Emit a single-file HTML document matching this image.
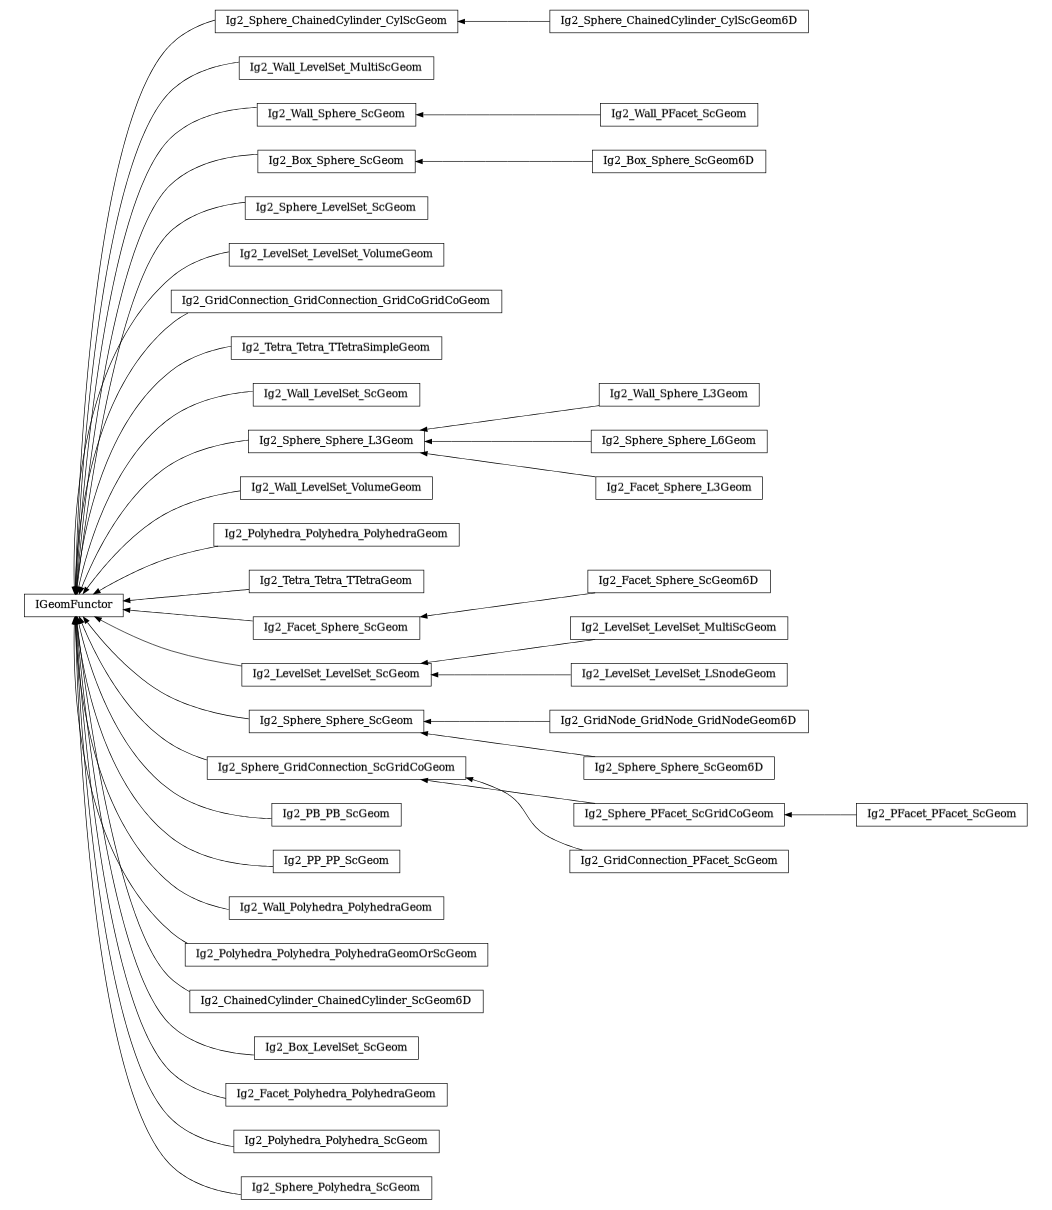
<!DOCTYPE html>
<html lang="en">
<head>
<meta charset="utf-8">
<title>IGeomFunctor inheritance diagram</title>
<style>
html,body{margin:0;padding:0;background:#fff;}
body{width:1052px;height:1210px;overflow:hidden;}
svg{display:block;will-change:transform;}
.t text{font-family:"DejaVu Serif","Liberation Serif",serif;font-size:10.6667px;fill:#000;stroke-width:0.4px;white-space:pre;}
.b rect{fill:none;stroke:#000;stroke-width:0.6667;}
.e path{fill:none;stroke:#000;}
.e{stroke-width:0.6667;}
.a path{fill:#000;stroke:#000;stroke-width:0.6667;}
.f path{fill:#000;stroke:none;}

</style>
</head>
<body>
<svg width="1052" height="1210" viewBox="0 0 1052 1210">
<rect width="1052" height="1210" fill="#fff"/>
<defs>
<filter id="p0" filterUnits="userSpaceOnUse" x="0" y="0" width="1052" height="1210" color-interpolation-filters="sRGB"><feOffset dx="0" dy="0"/></filter>
<filter id="p1" filterUnits="userSpaceOnUse" x="0" y="0" width="1052" height="1210" color-interpolation-filters="sRGB"><feConvolveMatrix order="1 3" kernelMatrix="0 0.75 0.25" divisor="1" edgeMode="none" preserveAlpha="false"/></filter>
<filter id="p3" filterUnits="userSpaceOnUse" x="0" y="0" width="1052" height="1210" color-interpolation-filters="sRGB"><feConvolveMatrix order="1 3" kernelMatrix="0.25 0.75 0" divisor="1" edgeMode="none" preserveAlpha="false"/></filter>
<linearGradient id="g0" gradientUnits="userSpaceOnUse" x1="33" x2="120"><stop offset="0" stop-opacity=".45"/><stop offset=".1724" stop-opacity=".45"/><stop offset=".1724" stop-opacity=".55"/><stop offset=".2414" stop-opacity=".55"/><stop offset=".2414" stop-opacity=".4"/><stop offset=".3103" stop-opacity=".4"/><stop offset=".3103" stop-opacity=".35"/><stop offset=".4253" stop-opacity=".35"/><stop offset=".4253" stop-opacity=".45"/><stop offset=".5057" stop-opacity=".45"/><stop offset=".5057" stop-opacity=".35"/><stop offset=".6667" stop-opacity=".35"/><stop offset=".6667" stop-opacity=".45"/><stop offset=".7816" stop-opacity=".45"/><stop offset=".7816" stop-opacity=".4"/><stop offset=".8506" stop-opacity=".4"/><stop offset=".8506" stop-opacity=".25"/><stop offset="1" stop-opacity=".25"/></linearGradient>
<linearGradient id="g1" gradientUnits="userSpaceOnUse" x1="223" x2="449"><stop offset="0" stop-opacity=".45"/><stop offset=".0288" stop-opacity=".45"/><stop offset=".0288" stop-opacity=".4"/><stop offset=".0597" stop-opacity=".4"/><stop offset=".0597" stop-opacity=".15"/><stop offset=".0907" stop-opacity=".15"/><stop offset=".0907" stop-opacity=".9"/><stop offset=".1128" stop-opacity=".9"/><stop offset=".1128" stop-opacity=".3"/><stop offset=".1438" stop-opacity=".3"/><stop offset=".1438" stop-opacity=".4"/><stop offset=".1748" stop-opacity=".4"/><stop offset=".1748" stop-opacity=".45"/><stop offset=".2058" stop-opacity=".45"/><stop offset=".2058" stop-opacity=".55"/><stop offset=".2323" stop-opacity=".55"/><stop offset=".2323" stop-opacity=".25"/><stop offset=".2544" stop-opacity=".25"/><stop offset=".2544" stop-opacity=".55"/><stop offset=".281" stop-opacity=".55"/><stop offset=".281" stop-opacity=".9"/><stop offset=".3031" stop-opacity=".9"/><stop offset=".3031" stop-opacity=".35"/><stop offset=".3385" stop-opacity=".35"/><stop offset=".3385" stop-opacity=".45"/><stop offset=".3695" stop-opacity=".45"/><stop offset=".3695" stop-opacity=".4"/><stop offset=".396" stop-opacity=".4"/><stop offset=".396" stop-opacity=".25"/><stop offset=".4093" stop-opacity=".25"/><stop offset=".4093" stop-opacity=".35"/><stop offset=".4403" stop-opacity=".35"/><stop offset=".4403" stop-opacity=".55"/><stop offset=".4668" stop-opacity=".55"/><stop offset=".4668" stop-opacity=".45"/><stop offset=".4978" stop-opacity=".45"/><stop offset=".4978" stop-opacity=".35"/><stop offset=".5332" stop-opacity=".35"/><stop offset=".5332" stop-opacity=".3"/><stop offset=".5597" stop-opacity=".3"/><stop offset=".5597" stop-opacity=".55"/><stop offset=".573" stop-opacity=".55"/><stop offset=".573" stop-opacity=".25"/><stop offset=".5863" stop-opacity=".25"/><stop offset=".5863" stop-opacity=".35"/><stop offset=".6173" stop-opacity=".35"/><stop offset=".6173" stop-opacity=".45"/><stop offset=".6482" stop-opacity=".45"/><stop offset=".6482" stop-opacity=".55"/><stop offset=".6748" stop-opacity=".55"/><stop offset=".6748" stop-opacity=".25"/><stop offset=".6969" stop-opacity=".25"/><stop offset=".6969" stop-opacity=".9"/><stop offset=".719" stop-opacity=".9"/><stop offset=".719" stop-opacity=".35"/><stop offset=".7544" stop-opacity=".35"/><stop offset=".7544" stop-opacity=".3"/><stop offset=".781" stop-opacity=".3"/><stop offset=".781" stop-opacity=".55"/><stop offset=".7942" stop-opacity=".55"/><stop offset=".7942" stop-opacity=".3"/><stop offset=".8252" stop-opacity=".3"/><stop offset=".8252" stop-opacity=".45"/><stop offset=".8916" stop-opacity=".45"/><stop offset=".8916" stop-opacity=".55"/><stop offset=".9181" stop-opacity=".55"/><stop offset=".9181" stop-opacity=".4"/><stop offset=".9447" stop-opacity=".4"/><stop offset=".9447" stop-opacity=".35"/><stop offset="1" stop-opacity=".35"/></linearGradient>
<linearGradient id="g2" gradientUnits="userSpaceOnUse" x1="558" x2="801"><stop offset="0" stop-opacity=".45"/><stop offset=".0257" stop-opacity=".45"/><stop offset=".0257" stop-opacity=".4"/><stop offset=".0545" stop-opacity=".4"/><stop offset=".0545" stop-opacity=".15"/><stop offset=".0833" stop-opacity=".15"/><stop offset=".0833" stop-opacity=".9"/><stop offset=".1039" stop-opacity=".9"/><stop offset=".1039" stop-opacity=".3"/><stop offset=".1327" stop-opacity=".3"/><stop offset=".1327" stop-opacity=".4"/><stop offset=".1615" stop-opacity=".4"/><stop offset=".1615" stop-opacity=".45"/><stop offset=".1903" stop-opacity=".45"/><stop offset=".1903" stop-opacity=".55"/><stop offset=".215" stop-opacity=".55"/><stop offset=".215" stop-opacity=".25"/><stop offset=".2356" stop-opacity=".25"/><stop offset=".2356" stop-opacity=".55"/><stop offset=".2603" stop-opacity=".55"/><stop offset=".2603" stop-opacity=".9"/><stop offset=".2809" stop-opacity=".9"/><stop offset=".2809" stop-opacity=".35"/><stop offset=".3138" stop-opacity=".35"/><stop offset=".3138" stop-opacity=".45"/><stop offset=".3426" stop-opacity=".45"/><stop offset=".3426" stop-opacity=".4"/><stop offset=".3673" stop-opacity=".4"/><stop offset=".3673" stop-opacity=".25"/><stop offset=".3796" stop-opacity=".25"/><stop offset=".3796" stop-opacity=".35"/><stop offset=".4084" stop-opacity=".35"/><stop offset=".4084" stop-opacity=".55"/><stop offset=".4331" stop-opacity=".55"/><stop offset=".4331" stop-opacity=".45"/><stop offset=".4619" stop-opacity=".45"/><stop offset=".4619" stop-opacity=".35"/><stop offset=".4949" stop-opacity=".35"/><stop offset=".4949" stop-opacity=".3"/><stop offset=".5195" stop-opacity=".3"/><stop offset=".5195" stop-opacity=".55"/><stop offset=".5319" stop-opacity=".55"/><stop offset=".5319" stop-opacity=".25"/><stop offset=".5442" stop-opacity=".25"/><stop offset=".5442" stop-opacity=".35"/><stop offset=".573" stop-opacity=".35"/><stop offset=".573" stop-opacity=".45"/><stop offset=".6019" stop-opacity=".45"/><stop offset=".6019" stop-opacity=".55"/><stop offset=".6265" stop-opacity=".55"/><stop offset=".6265" stop-opacity=".25"/><stop offset=".6471" stop-opacity=".25"/><stop offset=".6471" stop-opacity=".9"/><stop offset=".6677" stop-opacity=".9"/><stop offset=".6677" stop-opacity=".35"/><stop offset=".7006" stop-opacity=".35"/><stop offset=".7006" stop-opacity=".3"/><stop offset=".7253" stop-opacity=".3"/><stop offset=".7253" stop-opacity=".55"/><stop offset=".7377" stop-opacity=".55"/><stop offset=".7377" stop-opacity=".3"/><stop offset=".7665" stop-opacity=".3"/><stop offset=".7665" stop-opacity=".45"/><stop offset=".8282" stop-opacity=".45"/><stop offset=".8282" stop-opacity=".55"/><stop offset=".8529" stop-opacity=".55"/><stop offset=".8529" stop-opacity=".4"/><stop offset=".8776" stop-opacity=".4"/><stop offset=".8776" stop-opacity=".35"/><stop offset=".9187" stop-opacity=".35"/><stop offset=".9187" stop-opacity=".4"/><stop offset=".9475" stop-opacity=".4"/><stop offset=".9475" stop-opacity=".55"/><stop offset="1" stop-opacity=".55"/></linearGradient>
<linearGradient id="g3" gradientUnits="userSpaceOnUse" x1="266" x2="406"><stop offset="0" stop-opacity=".45"/><stop offset=".0446" stop-opacity=".45"/><stop offset=".0446" stop-opacity=".4"/><stop offset=".0946" stop-opacity=".4"/><stop offset=".0946" stop-opacity=".15"/><stop offset=".1446" stop-opacity=".15"/><stop offset=".1446" stop-opacity=".9"/><stop offset=".1804" stop-opacity=".9"/><stop offset=".1804" stop-opacity=".55"/><stop offset=".2375" stop-opacity=".55"/><stop offset=".2375" stop-opacity=".4"/><stop offset=".3232" stop-opacity=".4"/><stop offset=".3232" stop-opacity=".9"/><stop offset=".3589" stop-opacity=".9"/><stop offset=".3589" stop-opacity=".3"/><stop offset=".4089" stop-opacity=".3"/><stop offset=".4089" stop-opacity=".4"/><stop offset=".4589" stop-opacity=".4"/><stop offset=".4589" stop-opacity=".45"/><stop offset=".5089" stop-opacity=".45"/><stop offset=".5089" stop-opacity=".55"/><stop offset=".5518" stop-opacity=".55"/><stop offset=".5518" stop-opacity=".25"/><stop offset=".5875" stop-opacity=".25"/><stop offset=".5875" stop-opacity=".55"/><stop offset=".6304" stop-opacity=".55"/><stop offset=".6304" stop-opacity=".9"/><stop offset=".6661" stop-opacity=".9"/><stop offset=".6661" stop-opacity=".3"/><stop offset=".7161" stop-opacity=".3"/><stop offset=".7161" stop-opacity=".45"/><stop offset=".8232" stop-opacity=".45"/><stop offset=".8232" stop-opacity=".55"/><stop offset=".8661" stop-opacity=".55"/><stop offset=".8661" stop-opacity=".4"/><stop offset=".9089" stop-opacity=".4"/><stop offset=".9089" stop-opacity=".35"/><stop offset="1" stop-opacity=".35"/></linearGradient>
<linearGradient id="g4" gradientUnits="userSpaceOnUse" x1="601" x2="758"><stop offset="0" stop-opacity=".45"/><stop offset=".0382" stop-opacity=".45"/><stop offset=".0382" stop-opacity=".4"/><stop offset=".0828" stop-opacity=".4"/><stop offset=".0828" stop-opacity=".15"/><stop offset=".1274" stop-opacity=".15"/><stop offset=".1274" stop-opacity=".9"/><stop offset=".1592" stop-opacity=".9"/><stop offset=".1592" stop-opacity=".55"/><stop offset=".2102" stop-opacity=".55"/><stop offset=".2102" stop-opacity=".4"/><stop offset=".2866" stop-opacity=".4"/><stop offset=".2866" stop-opacity=".9"/><stop offset=".3185" stop-opacity=".9"/><stop offset=".3185" stop-opacity=".3"/><stop offset=".3631" stop-opacity=".3"/><stop offset=".3631" stop-opacity=".4"/><stop offset=".4076" stop-opacity=".4"/><stop offset=".4076" stop-opacity=".45"/><stop offset=".4522" stop-opacity=".45"/><stop offset=".4522" stop-opacity=".55"/><stop offset=".4904" stop-opacity=".55"/><stop offset=".4904" stop-opacity=".25"/><stop offset=".5223" stop-opacity=".25"/><stop offset=".5223" stop-opacity=".55"/><stop offset=".5605" stop-opacity=".55"/><stop offset=".5605" stop-opacity=".9"/><stop offset=".5924" stop-opacity=".9"/><stop offset=".5924" stop-opacity=".3"/><stop offset=".6369" stop-opacity=".3"/><stop offset=".6369" stop-opacity=".45"/><stop offset=".7325" stop-opacity=".45"/><stop offset=".7325" stop-opacity=".55"/><stop offset=".7707" stop-opacity=".55"/><stop offset=".7707" stop-opacity=".4"/><stop offset=".8089" stop-opacity=".4"/><stop offset=".8089" stop-opacity=".35"/><stop offset=".8726" stop-opacity=".35"/><stop offset=".8726" stop-opacity=".4"/><stop offset=".9172" stop-opacity=".4"/><stop offset=".9172" stop-opacity=".55"/><stop offset="1" stop-opacity=".55"/></linearGradient>
<linearGradient id="g5" gradientUnits="userSpaceOnUse" x1="179" x2="492"><stop offset="0" stop-opacity=".45"/><stop offset=".0208" stop-opacity=".45"/><stop offset=".0208" stop-opacity=".4"/><stop offset=".0431" stop-opacity=".4"/><stop offset=".0431" stop-opacity=".15"/><stop offset=".0655" stop-opacity=".15"/><stop offset=".0655" stop-opacity=".9"/><stop offset=".0815" stop-opacity=".9"/><stop offset=".0815" stop-opacity=".45"/><stop offset=".1102" stop-opacity=".45"/><stop offset=".1102" stop-opacity=".25"/><stop offset=".1358" stop-opacity=".25"/><stop offset=".1358" stop-opacity=".45"/><stop offset=".1581" stop-opacity=".45"/><stop offset=".1581" stop-opacity=".35"/><stop offset=".1837" stop-opacity=".35"/><stop offset=".1837" stop-opacity=".4"/><stop offset=".2029" stop-opacity=".4"/><stop offset=".2029" stop-opacity=".35"/><stop offset=".2476" stop-opacity=".35"/><stop offset=".2476" stop-opacity=".55"/><stop offset=".2668" stop-opacity=".55"/><stop offset=".2668" stop-opacity=".45"/><stop offset=".2987" stop-opacity=".45"/><stop offset=".2987" stop-opacity=".25"/><stop offset=".3083" stop-opacity=".25"/><stop offset=".3083" stop-opacity=".4"/><stop offset=".3275" stop-opacity=".4"/><stop offset=".3275" stop-opacity=".35"/><stop offset=".3498" stop-opacity=".35"/><stop offset=".3498" stop-opacity=".9"/><stop offset=".3658" stop-opacity=".9"/><stop offset=".3658" stop-opacity=".45"/><stop offset=".3946" stop-opacity=".45"/><stop offset=".3946" stop-opacity=".25"/><stop offset=".4201" stop-opacity=".25"/><stop offset=".4201" stop-opacity=".45"/><stop offset=".4425" stop-opacity=".45"/><stop offset=".4425" stop-opacity=".35"/><stop offset=".4681" stop-opacity=".35"/><stop offset=".4681" stop-opacity=".4"/><stop offset=".4872" stop-opacity=".4"/><stop offset=".4872" stop-opacity=".35"/><stop offset=".5319" stop-opacity=".35"/><stop offset=".5319" stop-opacity=".55"/><stop offset=".5511" stop-opacity=".55"/><stop offset=".5511" stop-opacity=".45"/><stop offset=".5831" stop-opacity=".45"/><stop offset=".5831" stop-opacity=".25"/><stop offset=".5927" stop-opacity=".25"/><stop offset=".5927" stop-opacity=".4"/><stop offset=".6118" stop-opacity=".4"/><stop offset=".6118" stop-opacity=".35"/><stop offset=".6342" stop-opacity=".35"/><stop offset=".6342" stop-opacity=".9"/><stop offset=".6502" stop-opacity=".9"/><stop offset=".6502" stop-opacity=".45"/><stop offset=".6789" stop-opacity=".45"/><stop offset=".6789" stop-opacity=".25"/><stop offset=".7045" stop-opacity=".25"/><stop offset=".7045" stop-opacity=".45"/><stop offset=".7268" stop-opacity=".45"/><stop offset=".7268" stop-opacity=".35"/><stop offset=".7524" stop-opacity=".35"/><stop offset=".7524" stop-opacity=".4"/><stop offset=".7716" stop-opacity=".4"/><stop offset=".7716" stop-opacity=".45"/><stop offset=".8003" stop-opacity=".45"/><stop offset=".8003" stop-opacity=".25"/><stop offset=".8259" stop-opacity=".25"/><stop offset=".8259" stop-opacity=".45"/><stop offset=".8482" stop-opacity=".45"/><stop offset=".8482" stop-opacity=".35"/><stop offset=".8738" stop-opacity=".35"/><stop offset=".8738" stop-opacity=".4"/><stop offset=".893" stop-opacity=".4"/><stop offset=".893" stop-opacity=".45"/><stop offset=".9217" stop-opacity=".45"/><stop offset=".9217" stop-opacity=".55"/><stop offset=".9409" stop-opacity=".55"/><stop offset=".9409" stop-opacity=".4"/><stop offset=".9601" stop-opacity=".4"/><stop offset=".9601" stop-opacity=".35"/><stop offset="1" stop-opacity=".35"/></linearGradient>
<linearGradient id="g6" gradientUnits="userSpaceOnUse" x1="257" x2="416"><stop offset="0" stop-opacity=".45"/><stop offset=".0377" stop-opacity=".45"/><stop offset=".0377" stop-opacity=".4"/><stop offset=".0818" stop-opacity=".4"/><stop offset=".0818" stop-opacity=".15"/><stop offset=".1258" stop-opacity=".15"/><stop offset=".1258" stop-opacity=".9"/><stop offset=".1572" stop-opacity=".9"/><stop offset=".1572" stop-opacity=".3"/><stop offset=".2013" stop-opacity=".3"/><stop offset=".2013" stop-opacity=".4"/><stop offset=".2453" stop-opacity=".4"/><stop offset=".2453" stop-opacity=".45"/><stop offset=".2893" stop-opacity=".45"/><stop offset=".2893" stop-opacity=".55"/><stop offset=".327" stop-opacity=".55"/><stop offset=".327" stop-opacity=".25"/><stop offset=".3585" stop-opacity=".25"/><stop offset=".3585" stop-opacity=".55"/><stop offset=".3962" stop-opacity=".55"/><stop offset=".3962" stop-opacity=".9"/><stop offset=".4277" stop-opacity=".9"/><stop offset=".4277" stop-opacity=".3"/><stop offset=".4717" stop-opacity=".3"/><stop offset=".4717" stop-opacity=".4"/><stop offset=".5157" stop-opacity=".4"/><stop offset=".5157" stop-opacity=".45"/><stop offset=".5597" stop-opacity=".45"/><stop offset=".5597" stop-opacity=".55"/><stop offset=".5975" stop-opacity=".55"/><stop offset=".5975" stop-opacity=".25"/><stop offset=".6289" stop-opacity=".25"/><stop offset=".6289" stop-opacity=".55"/><stop offset=".6667" stop-opacity=".55"/><stop offset=".6667" stop-opacity=".9"/><stop offset=".6981" stop-opacity=".9"/><stop offset=".6981" stop-opacity=".5"/><stop offset=".7421" stop-opacity=".5"/><stop offset=".7421" stop-opacity=".45"/><stop offset=".8428" stop-opacity=".45"/><stop offset=".8428" stop-opacity=".55"/><stop offset=".8805" stop-opacity=".55"/><stop offset=".8805" stop-opacity=".4"/><stop offset=".9182" stop-opacity=".4"/><stop offset=".9182" stop-opacity=".35"/><stop offset="1" stop-opacity=".35"/></linearGradient>
<linearGradient id="g7" gradientUnits="userSpaceOnUse" x1="599" x2="758"><stop offset="0" stop-opacity=".45"/><stop offset=".0409" stop-opacity=".45"/><stop offset=".0409" stop-opacity=".4"/><stop offset=".0849" stop-opacity=".4"/><stop offset=".0849" stop-opacity=".15"/><stop offset=".1289" stop-opacity=".15"/><stop offset=".1289" stop-opacity=".9"/><stop offset=".1604" stop-opacity=".9"/><stop offset=".1604" stop-opacity=".3"/><stop offset=".2044" stop-opacity=".3"/><stop offset=".2044" stop-opacity=".4"/><stop offset=".2484" stop-opacity=".4"/><stop offset=".2484" stop-opacity=".45"/><stop offset=".2925" stop-opacity=".45"/><stop offset=".2925" stop-opacity=".55"/><stop offset=".3302" stop-opacity=".55"/><stop offset=".3302" stop-opacity=".25"/><stop offset=".3616" stop-opacity=".25"/><stop offset=".3616" stop-opacity=".55"/><stop offset=".3994" stop-opacity=".55"/><stop offset=".3994" stop-opacity=".9"/><stop offset=".4308" stop-opacity=".9"/><stop offset=".4308" stop-opacity=".3"/><stop offset=".4748" stop-opacity=".3"/><stop offset=".4748" stop-opacity=".4"/><stop offset=".5189" stop-opacity=".4"/><stop offset=".5189" stop-opacity=".45"/><stop offset=".5629" stop-opacity=".45"/><stop offset=".5629" stop-opacity=".55"/><stop offset=".6006" stop-opacity=".55"/><stop offset=".6006" stop-opacity=".25"/><stop offset=".6321" stop-opacity=".25"/><stop offset=".6321" stop-opacity=".55"/><stop offset=".6698" stop-opacity=".55"/><stop offset=".6698" stop-opacity=".9"/><stop offset=".7013" stop-opacity=".9"/><stop offset=".7013" stop-opacity=".5"/><stop offset=".7453" stop-opacity=".5"/><stop offset=".7453" stop-opacity=".4"/><stop offset=".7893" stop-opacity=".4"/><stop offset=".7893" stop-opacity=".45"/><stop offset=".8459" stop-opacity=".45"/><stop offset=".8459" stop-opacity=".55"/><stop offset=".8836" stop-opacity=".55"/><stop offset=".8836" stop-opacity=".4"/><stop offset=".9214" stop-opacity=".4"/><stop offset=".9214" stop-opacity=".35"/><stop offset="1" stop-opacity=".35"/></linearGradient>
<linearGradient id="g8" gradientUnits="userSpaceOnUse" x1="257" x2="414"><stop offset="0" stop-opacity=".45"/><stop offset=".0414" stop-opacity=".45"/><stop offset=".0414" stop-opacity=".4"/><stop offset=".086" stop-opacity=".4"/><stop offset=".086" stop-opacity=".15"/><stop offset=".1306" stop-opacity=".15"/><stop offset=".1306" stop-opacity=".9"/><stop offset=".1624" stop-opacity=".9"/><stop offset=".1624" stop-opacity=".45"/><stop offset=".2006" stop-opacity=".45"/><stop offset=".2006" stop-opacity=".55"/><stop offset=".2389" stop-opacity=".55"/><stop offset=".2389" stop-opacity=".45"/><stop offset=".2643" stop-opacity=".45"/><stop offset=".2643" stop-opacity=".25"/><stop offset=".2962" stop-opacity=".25"/><stop offset=".2962" stop-opacity=".4"/><stop offset=".3344" stop-opacity=".4"/><stop offset=".3344" stop-opacity=".9"/><stop offset=".3662" stop-opacity=".9"/><stop offset=".3662" stop-opacity=".45"/><stop offset=".4045" stop-opacity=".45"/><stop offset=".4045" stop-opacity=".55"/><stop offset=".4427" stop-opacity=".55"/><stop offset=".4427" stop-opacity=".45"/><stop offset=".4682" stop-opacity=".45"/><stop offset=".4682" stop-opacity=".25"/><stop offset=".5" stop-opacity=".25"/><stop offset=".5" stop-opacity=".4"/><stop offset=".5382" stop-opacity=".4"/><stop offset=".5382" stop-opacity=".9"/><stop offset=".5701" stop-opacity=".9"/><stop offset=".5701" stop-opacity=".45"/><stop offset=".6529" stop-opacity=".45"/><stop offset=".6529" stop-opacity=".55"/><stop offset=".6911" stop-opacity=".55"/><stop offset=".6911" stop-opacity=".45"/><stop offset=".7166" stop-opacity=".45"/><stop offset=".7166" stop-opacity=".25"/><stop offset=".7484" stop-opacity=".25"/><stop offset=".7484" stop-opacity=".4"/><stop offset=".7866" stop-opacity=".4"/><stop offset=".7866" stop-opacity=".45"/><stop offset=".8439" stop-opacity=".45"/><stop offset=".8439" stop-opacity=".55"/><stop offset=".8822" stop-opacity=".55"/><stop offset=".8822" stop-opacity=".4"/><stop offset=".9204" stop-opacity=".4"/><stop offset=".9204" stop-opacity=".35"/><stop offset="1" stop-opacity=".35"/></linearGradient>
<linearGradient id="g9" gradientUnits="userSpaceOnUse" x1="596" x2="762"><stop offset="0" stop-opacity=".45"/><stop offset=".0377" stop-opacity=".45"/><stop offset=".0377" stop-opacity=".4"/><stop offset=".0798" stop-opacity=".4"/><stop offset=".0798" stop-opacity=".15"/><stop offset=".122" stop-opacity=".15"/><stop offset=".122" stop-opacity=".9"/><stop offset=".1521" stop-opacity=".9"/><stop offset=".1521" stop-opacity=".45"/><stop offset=".1943" stop-opacity=".45"/><stop offset=".1943" stop-opacity=".4"/><stop offset=".2304" stop-opacity=".4"/><stop offset=".2304" stop-opacity=".45"/><stop offset=".2666" stop-opacity=".45"/><stop offset=".2666" stop-opacity=".55"/><stop offset=".3027" stop-opacity=".55"/><stop offset=".3027" stop-opacity=".45"/><stop offset=".3268" stop-opacity=".45"/><stop offset=".3268" stop-opacity=".9"/><stop offset=".3569" stop-opacity=".9"/><stop offset=".3569" stop-opacity=".3"/><stop offset=".3991" stop-opacity=".3"/><stop offset=".3991" stop-opacity=".4"/><stop offset=".4413" stop-opacity=".4"/><stop offset=".4413" stop-opacity=".45"/><stop offset=".4834" stop-opacity=".45"/><stop offset=".4834" stop-opacity=".55"/><stop offset=".5196" stop-opacity=".55"/><stop offset=".5196" stop-opacity=".25"/><stop offset=".5497" stop-opacity=".25"/><stop offset=".5497" stop-opacity=".55"/><stop offset=".5858" stop-opacity=".55"/><stop offset=".5858" stop-opacity=".9"/><stop offset=".616" stop-opacity=".9"/><stop offset=".616" stop-opacity=".3"/><stop offset=".6581" stop-opacity=".3"/><stop offset=".6581" stop-opacity=".45"/><stop offset=".7485" stop-opacity=".45"/><stop offset=".7485" stop-opacity=".55"/><stop offset=".7846" stop-opacity=".55"/><stop offset=".7846" stop-opacity=".4"/><stop offset=".8208" stop-opacity=".4"/><stop offset=".8208" stop-opacity=".35"/><stop offset=".881" stop-opacity=".35"/><stop offset=".881" stop-opacity=".4"/><stop offset=".9232" stop-opacity=".4"/><stop offset=".9232" stop-opacity=".55"/><stop offset="1" stop-opacity=".55"/></linearGradient>
<linearGradient id="g10" gradientUnits="userSpaceOnUse" x1="257" x2="415"><stop offset="0" stop-opacity=".45"/><stop offset=".0411" stop-opacity=".45"/><stop offset=".0411" stop-opacity=".4"/><stop offset=".0854" stop-opacity=".4"/><stop offset=".0854" stop-opacity=".15"/><stop offset=".1297" stop-opacity=".15"/><stop offset=".1297" stop-opacity=".9"/><stop offset=".1614" stop-opacity=".9"/><stop offset=".1614" stop-opacity=".3"/><stop offset=".2057" stop-opacity=".3"/><stop offset=".2057" stop-opacity=".4"/><stop offset=".25" stop-opacity=".4"/><stop offset=".25" stop-opacity=".45"/><stop offset=".2943" stop-opacity=".45"/><stop offset=".2943" stop-opacity=".55"/><stop offset=".3323" stop-opacity=".55"/><stop offset=".3323" stop-opacity=".25"/><stop offset=".3639" stop-opacity=".25"/><stop offset=".3639" stop-opacity=".55"/><stop offset=".4019" stop-opacity=".55"/><stop offset=".4019" stop-opacity=".9"/><stop offset=".4335" stop-opacity=".9"/><stop offset=".4335" stop-opacity=".3"/><stop offset=".4778" stop-opacity=".3"/><stop offset=".4778" stop-opacity=".4"/><stop offset=".5222" stop-opacity=".4"/><stop offset=".5222" stop-opacity=".45"/><stop offset=".5665" stop-opacity=".45"/><stop offset=".5665" stop-opacity=".55"/><stop offset=".6044" stop-opacity=".55"/><stop offset=".6044" stop-opacity=".25"/><stop offset=".6361" stop-opacity=".25"/><stop offset=".6361" stop-opacity=".55"/><stop offset=".6741" stop-opacity=".55"/><stop offset=".6741" stop-opacity=".9"/><stop offset=".7057" stop-opacity=".9"/><stop offset=".7057" stop-opacity=".3"/><stop offset=".75" stop-opacity=".3"/><stop offset=".75" stop-opacity=".45"/><stop offset=".8449" stop-opacity=".45"/><stop offset=".8449" stop-opacity=".55"/><stop offset=".8829" stop-opacity=".55"/><stop offset=".8829" stop-opacity=".4"/><stop offset=".9209" stop-opacity=".4"/><stop offset=".9209" stop-opacity=".35"/><stop offset="1" stop-opacity=".35"/></linearGradient>
<linearGradient id="g11" gradientUnits="userSpaceOnUse" x1="558" x2="800"><stop offset="0" stop-opacity=".45"/><stop offset=".0258" stop-opacity=".45"/><stop offset=".0258" stop-opacity=".4"/><stop offset=".0548" stop-opacity=".4"/><stop offset=".0548" stop-opacity=".15"/><stop offset=".0837" stop-opacity=".15"/><stop offset=".0837" stop-opacity=".9"/><stop offset=".1043" stop-opacity=".9"/><stop offset=".1043" stop-opacity=".45"/><stop offset=".1415" stop-opacity=".45"/><stop offset=".1415" stop-opacity=".25"/><stop offset=".1746" stop-opacity=".25"/><stop offset=".1746" stop-opacity=".45"/><stop offset=".2035" stop-opacity=".45"/><stop offset=".2035" stop-opacity=".4"/><stop offset=".2655" stop-opacity=".4"/><stop offset=".2655" stop-opacity=".45"/><stop offset=".2944" stop-opacity=".45"/><stop offset=".2944" stop-opacity=".55"/><stop offset=".3192" stop-opacity=".55"/><stop offset=".3192" stop-opacity=".9"/><stop offset=".3399" stop-opacity=".9"/><stop offset=".3399" stop-opacity=".45"/><stop offset=".3771" stop-opacity=".45"/><stop offset=".3771" stop-opacity=".25"/><stop offset=".4101" stop-opacity=".25"/><stop offset=".4101" stop-opacity=".45"/><stop offset=".439" stop-opacity=".45"/><stop offset=".439" stop-opacity=".4"/><stop offset=".501" stop-opacity=".4"/><stop offset=".501" stop-opacity=".45"/><stop offset=".53" stop-opacity=".45"/><stop offset=".53" stop-opacity=".55"/><stop offset=".5548" stop-opacity=".55"/><stop offset=".5548" stop-opacity=".9"/><stop offset=".5754" stop-opacity=".9"/><stop offset=".5754" stop-opacity=".45"/><stop offset=".6126" stop-opacity=".45"/><stop offset=".6126" stop-opacity=".25"/><stop offset=".6457" stop-opacity=".25"/><stop offset=".6457" stop-opacity=".45"/><stop offset=".6746" stop-opacity=".45"/><stop offset=".6746" stop-opacity=".4"/><stop offset=".7366" stop-opacity=".4"/><stop offset=".7366" stop-opacity=".45"/><stop offset=".7655" stop-opacity=".45"/><stop offset=".7655" stop-opacity=".55"/><stop offset=".7903" stop-opacity=".55"/><stop offset=".7903" stop-opacity=".45"/><stop offset=".8275" stop-opacity=".45"/><stop offset=".8275" stop-opacity=".55"/><stop offset=".8523" stop-opacity=".55"/><stop offset=".8523" stop-opacity=".4"/><stop offset=".8771" stop-opacity=".4"/><stop offset=".8771" stop-opacity=".35"/><stop offset=".9184" stop-opacity=".35"/><stop offset=".9184" stop-opacity=".4"/><stop offset=".9473" stop-opacity=".4"/><stop offset=".9473" stop-opacity=".55"/><stop offset="1" stop-opacity=".55"/></linearGradient>
<linearGradient id="g12" gradientUnits="userSpaceOnUse" x1="578" x2="780"><stop offset="0" stop-opacity=".45"/><stop offset=".0309" stop-opacity=".45"/><stop offset=".0309" stop-opacity=".4"/><stop offset=".0656" stop-opacity=".4"/><stop offset=".0656" stop-opacity=".15"/><stop offset=".1002" stop-opacity=".15"/><stop offset=".1002" stop-opacity=".9"/><stop offset=".125" stop-opacity=".9"/><stop offset=".125" stop-opacity=".45"/><stop offset=".1696" stop-opacity=".45"/><stop offset=".1696" stop-opacity=".25"/><stop offset=".2092" stop-opacity=".25"/><stop offset=".2092" stop-opacity=".45"/><stop offset=".2438" stop-opacity=".45"/><stop offset=".2438" stop-opacity=".35"/><stop offset=".2834" stop-opacity=".35"/><stop offset=".2834" stop-opacity=".4"/><stop offset=".3131" stop-opacity=".4"/><stop offset=".3131" stop-opacity=".35"/><stop offset=".3824" stop-opacity=".35"/><stop offset=".3824" stop-opacity=".55"/><stop offset=".4121" stop-opacity=".55"/><stop offset=".4121" stop-opacity=".45"/><stop offset=".4616" stop-opacity=".45"/><stop offset=".4616" stop-opacity=".25"/><stop offset=".4765" stop-opacity=".25"/><stop offset=".4765" stop-opacity=".4"/><stop offset=".5062" stop-opacity=".4"/><stop offset=".5062" stop-opacity=".35"/><stop offset=".5408" stop-opacity=".35"/><stop offset=".5408" stop-opacity=".9"/><stop offset=".5656" stop-opacity=".9"/><stop offset=".5656" stop-opacity=".55"/><stop offset=".6002" stop-opacity=".55"/><stop offset=".6002" stop-opacity=".45"/><stop offset=".6349" stop-opacity=".45"/><stop offset=".6349" stop-opacity=".4"/><stop offset=".6646" stop-opacity=".4"/><stop offset=".6646" stop-opacity=".45"/><stop offset=".6943" stop-opacity=".45"/><stop offset=".6943" stop-opacity=".55"/><stop offset=".724" stop-opacity=".55"/><stop offset=".724" stop-opacity=".45"/><stop offset=".7438" stop-opacity=".45"/><stop offset=".7438" stop-opacity=".9"/><stop offset=".7686" stop-opacity=".9"/><stop offset=".7686" stop-opacity=".3"/><stop offset=".8032" stop-opacity=".3"/><stop offset=".8032" stop-opacity=".45"/><stop offset=".8775" stop-opacity=".45"/><stop offset=".8775" stop-opacity=".55"/><stop offset=".9072" stop-opacity=".55"/><stop offset=".9072" stop-opacity=".4"/><stop offset=".9369" stop-opacity=".4"/><stop offset=".9369" stop-opacity=".35"/><stop offset="1" stop-opacity=".35"/></linearGradient>
<linearGradient id="g13" gradientUnits="userSpaceOnUse" x1="281" x2="391"><stop offset="0" stop-opacity=".45"/><stop offset=".0591" stop-opacity=".45"/><stop offset=".0591" stop-opacity=".4"/><stop offset=".1227" stop-opacity=".4"/><stop offset=".1227" stop-opacity=".15"/><stop offset=".1864" stop-opacity=".15"/><stop offset=".1864" stop-opacity=".9"/><stop offset=".2318" stop-opacity=".9"/><stop offset=".2318" stop-opacity=".55"/><stop offset=".3591" stop-opacity=".55"/><stop offset=".3591" stop-opacity=".9"/><stop offset=".4045" stop-opacity=".9"/><stop offset=".4045" stop-opacity=".55"/><stop offset=".5318" stop-opacity=".55"/><stop offset=".5318" stop-opacity=".9"/><stop offset=".5773" stop-opacity=".9"/><stop offset=".5773" stop-opacity=".3"/><stop offset=".6409" stop-opacity=".3"/><stop offset=".6409" stop-opacity=".45"/><stop offset=".7773" stop-opacity=".45"/><stop offset=".7773" stop-opacity=".55"/><stop offset=".8318" stop-opacity=".55"/><stop offset=".8318" stop-opacity=".4"/><stop offset=".8864" stop-opacity=".4"/><stop offset=".8864" stop-opacity=".35"/><stop offset="1" stop-opacity=".35"/></linearGradient>
<linearGradient id="g14" gradientUnits="userSpaceOnUse" x1="198" x2="475"><stop offset="0" stop-opacity=".45"/><stop offset=".0226" stop-opacity=".45"/><stop offset=".0226" stop-opacity=".4"/><stop offset=".0478" stop-opacity=".4"/><stop offset=".0478" stop-opacity=".15"/><stop offset=".0731" stop-opacity=".15"/><stop offset=".0731" stop-opacity=".9"/><stop offset=".0912" stop-opacity=".9"/><stop offset=".0912" stop-opacity=".35"/><stop offset=".12" stop-opacity=".35"/><stop offset=".12" stop-opacity=".45"/><stop offset=".1453" stop-opacity=".45"/><stop offset=".1453" stop-opacity=".4"/><stop offset=".167" stop-opacity=".4"/><stop offset=".167" stop-opacity=".25"/><stop offset=".1778" stop-opacity=".25"/><stop offset=".1778" stop-opacity=".35"/><stop offset=".2031" stop-opacity=".35"/><stop offset=".2031" stop-opacity=".55"/><stop offset=".2247" stop-opacity=".55"/><stop offset=".2247" stop-opacity=".45"/><stop offset=".25" stop-opacity=".45"/><stop offset=".25" stop-opacity=".35"/><stop offset=".2789" stop-opacity=".35"/><stop offset=".2789" stop-opacity=".3"/><stop offset=".3005" stop-opacity=".3"/><stop offset=".3005" stop-opacity=".55"/><stop offset=".3114" stop-opacity=".55"/><stop offset=".3114" stop-opacity=".25"/><stop offset=".3222" stop-opacity=".25"/><stop offset=".3222" stop-opacity=".35"/><stop offset=".3475" stop-opacity=".35"/><stop offset=".3475" stop-opacity=".45"/><stop offset=".3727" stop-opacity=".45"/><stop offset=".3727" stop-opacity=".55"/><stop offset=".3944" stop-opacity=".55"/><stop offset=".3944" stop-opacity=".25"/><stop offset=".4125" stop-opacity=".25"/><stop offset=".4125" stop-opacity=".9"/><stop offset=".4305" stop-opacity=".9"/><stop offset=".4305" stop-opacity=".35"/><stop offset=".4594" stop-opacity=".35"/><stop offset=".4594" stop-opacity=".45"/><stop offset=".4847" stop-opacity=".45"/><stop offset=".4847" stop-opacity=".4"/><stop offset=".5063" stop-opacity=".4"/><stop offset=".5063" stop-opacity=".25"/><stop offset=".5171" stop-opacity=".25"/><stop offset=".5171" stop-opacity=".35"/><stop offset=".5424" stop-opacity=".35"/><stop offset=".5424" stop-opacity=".55"/><stop offset=".5641" stop-opacity=".55"/><stop offset=".5641" stop-opacity=".45"/><stop offset=".5894" stop-opacity=".45"/><stop offset=".5894" stop-opacity=".35"/><stop offset=".6182" stop-opacity=".35"/><stop offset=".6182" stop-opacity=".3"/><stop offset=".6399" stop-opacity=".3"/><stop offset=".6399" stop-opacity=".55"/><stop offset=".6507" stop-opacity=".55"/><stop offset=".6507" stop-opacity=".25"/><stop offset=".6616" stop-opacity=".25"/><stop offset=".6616" stop-opacity=".35"/><stop offset=".6868" stop-opacity=".35"/><stop offset=".6868" stop-opacity=".45"/><stop offset=".7121" stop-opacity=".45"/><stop offset=".7121" stop-opacity=".55"/><stop offset=".7338" stop-opacity=".55"/><stop offset=".7338" stop-opacity=".25"/><stop offset=".7518" stop-opacity=".25"/><stop offset=".7518" stop-opacity=".9"/><stop offset=".7699" stop-opacity=".9"/><stop offset=".7699" stop-opacity=".3"/><stop offset=".7951" stop-opacity=".3"/><stop offset=".7951" stop-opacity=".45"/><stop offset=".8493" stop-opacity=".45"/><stop offset=".8493" stop-opacity=".55"/><stop offset=".8709" stop-opacity=".55"/><stop offset=".8709" stop-opacity=".4"/><stop offset=".8926" stop-opacity=".4"/><stop offset=".8926" stop-opacity=".35"/><stop offset=".9287" stop-opacity=".35"/><stop offset=".9287" stop-opacity=".4"/><stop offset=".954" stop-opacity=".4"/><stop offset=".954" stop-opacity=".55"/><stop offset="1" stop-opacity=".55"/></linearGradient>
<linearGradient id="g15" gradientUnits="userSpaceOnUse" x1="242" x2="430"><stop offset="0" stop-opacity=".45"/><stop offset=".0332" stop-opacity=".45"/><stop offset=".0332" stop-opacity=".4"/><stop offset=".0705" stop-opacity=".4"/><stop offset=".0705" stop-opacity=".15"/><stop offset=".1077" stop-opacity=".15"/><stop offset=".1077" stop-opacity=".9"/><stop offset=".1343" stop-opacity=".9"/><stop offset=".1343" stop-opacity=".55"/><stop offset=".1715" stop-opacity=".55"/><stop offset=".1715" stop-opacity=".4"/><stop offset=".2035" stop-opacity=".4"/><stop offset=".2035" stop-opacity=".55"/><stop offset=".2194" stop-opacity=".55"/><stop offset=".2194" stop-opacity=".3"/><stop offset=".2513" stop-opacity=".3"/><stop offset=".2513" stop-opacity=".45"/><stop offset=".2886" stop-opacity=".45"/><stop offset=".2886" stop-opacity=".55"/><stop offset=".3205" stop-opacity=".55"/><stop offset=".3205" stop-opacity=".45"/><stop offset=".3577" stop-opacity=".45"/><stop offset=".3577" stop-opacity=".25"/><stop offset=".3843" stop-opacity=".25"/><stop offset=".3843" stop-opacity=".4"/><stop offset=".4162" stop-opacity=".4"/><stop offset=".4162" stop-opacity=".9"/><stop offset=".4428" stop-opacity=".9"/><stop offset=".4428" stop-opacity=".55"/><stop offset=".4801" stop-opacity=".55"/><stop offset=".4801" stop-opacity=".4"/><stop offset=".512" stop-opacity=".4"/><stop offset=".512" stop-opacity=".55"/><stop offset=".5279" stop-opacity=".55"/><stop offset=".5279" stop-opacity=".3"/><stop offset=".5598" stop-opacity=".3"/><stop offset=".5598" stop-opacity=".45"/><stop offset=".5971" stop-opacity=".45"/><stop offset=".5971" stop-opacity=".55"/><stop offset=".629" stop-opacity=".55"/><stop offset=".629" stop-opacity=".45"/><stop offset=".6662" stop-opacity=".45"/><stop offset=".6662" stop-opacity=".25"/><stop offset=".6928" stop-opacity=".25"/><stop offset=".6928" stop-opacity=".4"/><stop offset=".7247" stop-opacity=".4"/><stop offset=".7247" stop-opacity=".9"/><stop offset=".7513" stop-opacity=".9"/><stop offset=".7513" stop-opacity=".3"/><stop offset=".7886" stop-opacity=".3"/><stop offset=".7886" stop-opacity=".45"/><stop offset=".8684" stop-opacity=".45"/><stop offset=".8684" stop-opacity=".55"/><stop offset=".9003" stop-opacity=".55"/><stop offset=".9003" stop-opacity=".4"/><stop offset=".9322" stop-opacity=".4"/><stop offset=".9322" stop-opacity=".35"/><stop offset="1" stop-opacity=".35"/></linearGradient>
<linearGradient id="g16" gradientUnits="userSpaceOnUse" x1="265" x2="407"><stop offset="0" stop-opacity=".45"/><stop offset=".0458" stop-opacity=".45"/><stop offset=".0458" stop-opacity=".4"/><stop offset=".0951" stop-opacity=".4"/><stop offset=".0951" stop-opacity=".15"/><stop offset=".1444" stop-opacity=".15"/><stop offset=".1444" stop-opacity=".9"/><stop offset=".1796" stop-opacity=".9"/><stop offset=".1796" stop-opacity=".2"/><stop offset=".25" stop-opacity=".2"/><stop offset=".25" stop-opacity=".4"/><stop offset=".2923" stop-opacity=".4"/><stop offset=".2923" stop-opacity=".55"/><stop offset=".3345" stop-opacity=".55"/><stop offset=".3345" stop-opacity=".9"/><stop offset=".3697" stop-opacity=".9"/><stop offset=".3697" stop-opacity=".3"/><stop offset=".419" stop-opacity=".3"/><stop offset=".419" stop-opacity=".4"/><stop offset=".4683" stop-opacity=".4"/><stop offset=".4683" stop-opacity=".45"/><stop offset=".5176" stop-opacity=".45"/><stop offset=".5176" stop-opacity=".55"/><stop offset=".5599" stop-opacity=".55"/><stop offset=".5599" stop-opacity=".25"/><stop offset=".5951" stop-opacity=".25"/><stop offset=".5951" stop-opacity=".55"/><stop offset=".6373" stop-opacity=".55"/><stop offset=".6373" stop-opacity=".9"/><stop offset=".6725" stop-opacity=".9"/><stop offset=".6725" stop-opacity=".3"/><stop offset=".7218" stop-opacity=".3"/><stop offset=".7218" stop-opacity=".45"/><stop offset=".8275" stop-opacity=".45"/><stop offset=".8275" stop-opacity=".55"/><stop offset=".8697" stop-opacity=".55"/><stop offset=".8697" stop-opacity=".4"/><stop offset=".912" stop-opacity=".4"/><stop offset=".912" stop-opacity=".35"/><stop offset="1" stop-opacity=".35"/></linearGradient>
<linearGradient id="g17" gradientUnits="userSpaceOnUse" x1="609" x2="749"><stop offset="0" stop-opacity=".45"/><stop offset=".0429" stop-opacity=".45"/><stop offset=".0429" stop-opacity=".4"/><stop offset=".0929" stop-opacity=".4"/><stop offset=".0929" stop-opacity=".15"/><stop offset=".1429" stop-opacity=".15"/><stop offset=".1429" stop-opacity=".9"/><stop offset=".1786" stop-opacity=".9"/><stop offset=".1786" stop-opacity=".2"/><stop offset=".25" stop-opacity=".2"/><stop offset=".25" stop-opacity=".4"/><stop offset=".2929" stop-opacity=".4"/><stop offset=".2929" stop-opacity=".55"/><stop offset=".3357" stop-opacity=".55"/><stop offset=".3357" stop-opacity=".9"/><stop offset=".3714" stop-opacity=".9"/><stop offset=".3714" stop-opacity=".55"/><stop offset=".4214" stop-opacity=".55"/><stop offset=".4214" stop-opacity=".45"/><stop offset=".4714" stop-opacity=".45"/><stop offset=".4714" stop-opacity=".4"/><stop offset=".5143" stop-opacity=".4"/><stop offset=".5143" stop-opacity=".45"/><stop offset=".5571" stop-opacity=".45"/><stop offset=".5571" stop-opacity=".55"/><stop offset=".6" stop-opacity=".55"/><stop offset=".6" stop-opacity=".45"/><stop offset=".6286" stop-opacity=".45"/><stop offset=".6286" stop-opacity=".9"/><stop offset=".6643" stop-opacity=".9"/><stop offset=".6643" stop-opacity=".3"/><stop offset=".7143" stop-opacity=".3"/><stop offset=".7143" stop-opacity=".45"/><stop offset=".8214" stop-opacity=".45"/><stop offset=".8214" stop-opacity=".55"/><stop offset=".8643" stop-opacity=".55"/><stop offset=".8643" stop-opacity=".4"/><stop offset=".9071" stop-opacity=".4"/><stop offset=".9071" stop-opacity=".35"/><stop offset="1" stop-opacity=".35"/></linearGradient>
<linearGradient id="g18" gradientUnits="userSpaceOnUse" x1="237" x2="435"><stop offset="0" stop-opacity=".45"/><stop offset=".0328" stop-opacity=".45"/><stop offset=".0328" stop-opacity=".4"/><stop offset=".0682" stop-opacity=".4"/><stop offset=".0682" stop-opacity=".15"/><stop offset=".1035" stop-opacity=".15"/><stop offset=".1035" stop-opacity=".9"/><stop offset=".1288" stop-opacity=".9"/><stop offset=".1288" stop-opacity=".5"/><stop offset=".1641" stop-opacity=".5"/><stop offset=".1641" stop-opacity=".55"/><stop offset=".1944" stop-opacity=".55"/><stop offset=".1944" stop-opacity=".3"/><stop offset=".2247" stop-opacity=".3"/><stop offset=".2247" stop-opacity=".55"/><stop offset=".2702" stop-opacity=".55"/><stop offset=".2702" stop-opacity=".3"/><stop offset=".3056" stop-opacity=".3"/><stop offset=".3056" stop-opacity=".55"/><stop offset=".3359" stop-opacity=".55"/><stop offset=".3359" stop-opacity=".45"/><stop offset=".3561" stop-opacity=".45"/><stop offset=".3561" stop-opacity=".9"/><stop offset=".3813" stop-opacity=".9"/><stop offset=".3813" stop-opacity=".5"/><stop offset=".4167" stop-opacity=".5"/><stop offset=".4167" stop-opacity=".55"/><stop offset=".447" stop-opacity=".55"/><stop offset=".447" stop-opacity=".3"/><stop offset=".4773" stop-opacity=".3"/><stop offset=".4773" stop-opacity=".55"/><stop offset=".5227" stop-opacity=".55"/><stop offset=".5227" stop-opacity=".3"/><stop offset=".5581" stop-opacity=".3"/><stop offset=".5581" stop-opacity=".55"/><stop offset=".5884" stop-opacity=".55"/><stop offset=".5884" stop-opacity=".45"/><stop offset=".6086" stop-opacity=".45"/><stop offset=".6086" stop-opacity=".9"/><stop offset=".6338" stop-opacity=".9"/><stop offset=".6338" stop-opacity=".25"/><stop offset=".6692" stop-opacity=".25"/><stop offset=".6692" stop-opacity=".4"/><stop offset=".6995" stop-opacity=".4"/><stop offset=".6995" stop-opacity=".55"/><stop offset=".7146" stop-opacity=".55"/><stop offset=".7146" stop-opacity=".35"/><stop offset=".8005" stop-opacity=".35"/><stop offset=".8005" stop-opacity=".55"/><stop offset=".8308" stop-opacity=".55"/><stop offset=".8308" stop-opacity=".45"/><stop offset=".8763" stop-opacity=".45"/><stop offset=".8763" stop-opacity=".55"/><stop offset=".9066" stop-opacity=".55"/><stop offset=".9066" stop-opacity=".4"/><stop offset=".9369" stop-opacity=".4"/><stop offset=".9369" stop-opacity=".35"/><stop offset="1" stop-opacity=".35"/></linearGradient>
<linearGradient id="g19" gradientUnits="userSpaceOnUse" x1="261" x2="410"><stop offset="0" stop-opacity=".45"/><stop offset=".0436" stop-opacity=".45"/><stop offset=".0436" stop-opacity=".4"/><stop offset=".0906" stop-opacity=".4"/><stop offset=".0906" stop-opacity=".15"/><stop offset=".1376" stop-opacity=".15"/><stop offset=".1376" stop-opacity=".9"/><stop offset=".1711" stop-opacity=".9"/><stop offset=".1711" stop-opacity=".2"/><stop offset=".2383" stop-opacity=".2"/><stop offset=".2383" stop-opacity=".4"/><stop offset=".2785" stop-opacity=".4"/><stop offset=".2785" stop-opacity=".55"/><stop offset=".3188" stop-opacity=".55"/><stop offset=".3188" stop-opacity=".9"/><stop offset=".3523" stop-opacity=".9"/><stop offset=".3523" stop-opacity=".5"/><stop offset=".3993" stop-opacity=".5"/><stop offset=".3993" stop-opacity=".55"/><stop offset=".4396" stop-opacity=".55"/><stop offset=".4396" stop-opacity=".3"/><stop offset=".4799" stop-opacity=".3"/><stop offset=".4799" stop-opacity=".55"/><stop offset=".5403" stop-opacity=".55"/><stop offset=".5403" stop-opacity=".3"/><stop offset=".5872" stop-opacity=".3"/><stop offset=".5872" stop-opacity=".55"/><stop offset=".6275" stop-opacity=".55"/><stop offset=".6275" stop-opacity=".45"/><stop offset=".6544" stop-opacity=".45"/><stop offset=".6544" stop-opacity=".9"/><stop offset=".6879" stop-opacity=".9"/><stop offset=".6879" stop-opacity=".3"/><stop offset=".7349" stop-opacity=".3"/><stop offset=".7349" stop-opacity=".45"/><stop offset=".8356" stop-opacity=".45"/><stop offset=".8356" stop-opacity=".55"/><stop offset=".8758" stop-opacity=".55"/><stop offset=".8758" stop-opacity=".4"/><stop offset=".9161" stop-opacity=".4"/><stop offset=".9161" stop-opacity=".35"/><stop offset="1" stop-opacity=".35"/></linearGradient>
<linearGradient id="g20" gradientUnits="userSpaceOnUse" x1="607" x2="750"><stop offset="0" stop-opacity=".45"/><stop offset=".0455" stop-opacity=".45"/><stop offset=".0455" stop-opacity=".4"/><stop offset=".0944" stop-opacity=".4"/><stop offset=".0944" stop-opacity=".15"/><stop offset=".1434" stop-opacity=".15"/><stop offset=".1434" stop-opacity=".9"/><stop offset=".1783" stop-opacity=".9"/><stop offset=".1783" stop-opacity=".2"/><stop offset=".2483" stop-opacity=".2"/><stop offset=".2483" stop-opacity=".4"/><stop offset=".2902" stop-opacity=".4"/><stop offset=".2902" stop-opacity=".55"/><stop offset=".3322" stop-opacity=".55"/><stop offset=".3322" stop-opacity=".9"/><stop offset=".3671" stop-opacity=".9"/><stop offset=".3671" stop-opacity=".3"/><stop offset=".4161" stop-opacity=".3"/><stop offset=".4161" stop-opacity=".4"/><stop offset=".465" stop-opacity=".4"/><stop offset=".465" stop-opacity=".45"/><stop offset=".514" stop-opacity=".45"/><stop offset=".514" stop-opacity=".55"/><stop offset=".5559" stop-opacity=".55"/><stop offset=".5559" stop-opacity=".25"/><stop offset=".5909" stop-opacity=".25"/><stop offset=".5909" stop-opacity=".55"/><stop offset=".6329" stop-opacity=".55"/><stop offset=".6329" stop-opacity=".9"/><stop offset=".6678" stop-opacity=".9"/><stop offset=".6678" stop-opacity=".5"/><stop offset=".7168" stop-opacity=".5"/><stop offset=".7168" stop-opacity=".45"/><stop offset=".8287" stop-opacity=".45"/><stop offset=".8287" stop-opacity=".55"/><stop offset=".8706" stop-opacity=".55"/><stop offset=".8706" stop-opacity=".4"/><stop offset=".9126" stop-opacity=".4"/><stop offset=".9126" stop-opacity=".35"/><stop offset="1" stop-opacity=".35"/></linearGradient>
<linearGradient id="g21" gradientUnits="userSpaceOnUse" x1="222" x2="450"><stop offset="0" stop-opacity=".45"/><stop offset=".0274" stop-opacity=".45"/><stop offset=".0274" stop-opacity=".4"/><stop offset=".0581" stop-opacity=".4"/><stop offset=".0581" stop-opacity=".15"/><stop offset=".0888" stop-opacity=".15"/><stop offset=".0888" stop-opacity=".9"/><stop offset=".1107" stop-opacity=".9"/><stop offset=".1107" stop-opacity=".55"/><stop offset=".1414" stop-opacity=".55"/><stop offset=".1414" stop-opacity=".4"/><stop offset=".1678" stop-opacity=".4"/><stop offset=".1678" stop-opacity=".55"/><stop offset=".1809" stop-opacity=".55"/><stop offset=".1809" stop-opacity=".3"/><stop offset=".2072" stop-opacity=".3"/><stop offset=".2072" stop-opacity=".45"/><stop offset=".2379" stop-opacity=".45"/><stop offset=".2379" stop-opacity=".55"/><stop offset=".2643" stop-opacity=".55"/><stop offset=".2643" stop-opacity=".45"/><stop offset=".295" stop-opacity=".45"/><stop offset=".295" stop-opacity=".25"/><stop offset=".3169" stop-opacity=".25"/><stop offset=".3169" stop-opacity=".4"/><stop offset=".3432" stop-opacity=".4"/><stop offset=".3432" stop-opacity=".9"/><stop offset=".3651" stop-opacity=".9"/><stop offset=".3651" stop-opacity=".55"/><stop offset=".3958" stop-opacity=".55"/><stop offset=".3958" stop-opacity=".4"/><stop offset=".4221" stop-opacity=".4"/><stop offset=".4221" stop-opacity=".55"/><stop offset=".4353" stop-opacity=".55"/><stop offset=".4353" stop-opacity=".3"/><stop offset=".4616" stop-opacity=".3"/><stop offset=".4616" stop-opacity=".45"/><stop offset=".4923" stop-opacity=".45"/><stop offset=".4923" stop-opacity=".55"/><stop offset=".5186" stop-opacity=".55"/><stop offset=".5186" stop-opacity=".45"/><stop offset=".5493" stop-opacity=".45"/><stop offset=".5493" stop-opacity=".25"/><stop offset=".5713" stop-opacity=".25"/><stop offset=".5713" stop-opacity=".4"/><stop offset=".5976" stop-opacity=".4"/><stop offset=".5976" stop-opacity=".9"/><stop offset=".6195" stop-opacity=".9"/><stop offset=".6195" stop-opacity=".55"/><stop offset=".6502" stop-opacity=".55"/><stop offset=".6502" stop-opacity=".4"/><stop offset=".6765" stop-opacity=".4"/><stop offset=".6765" stop-opacity=".55"/><stop offset=".6897" stop-opacity=".55"/><stop offset=".6897" stop-opacity=".3"/><stop offset=".716" stop-opacity=".3"/><stop offset=".716" stop-opacity=".45"/><stop offset=".7467" stop-opacity=".45"/><stop offset=".7467" stop-opacity=".55"/><stop offset=".773" stop-opacity=".55"/><stop offset=".773" stop-opacity=".45"/><stop offset=".8037" stop-opacity=".45"/><stop offset=".8037" stop-opacity=".25"/><stop offset=".8257" stop-opacity=".25"/><stop offset=".8257" stop-opacity=".4"/><stop offset=".852" stop-opacity=".4"/><stop offset=".852" stop-opacity=".45"/><stop offset=".8914" stop-opacity=".45"/><stop offset=".8914" stop-opacity=".55"/><stop offset=".9178" stop-opacity=".55"/><stop offset=".9178" stop-opacity=".4"/><stop offset=".9441" stop-opacity=".4"/><stop offset=".9441" stop-opacity=".35"/><stop offset="1" stop-opacity=".35"/></linearGradient>
<linearGradient id="g22" gradientUnits="userSpaceOnUse" x1="250" x2="422"><stop offset="0" stop-opacity=".45"/><stop offset=".0363" stop-opacity=".45"/><stop offset=".0363" stop-opacity=".4"/><stop offset=".077" stop-opacity=".4"/><stop offset=".077" stop-opacity=".15"/><stop offset=".1177" stop-opacity=".15"/><stop offset=".1177" stop-opacity=".9"/><stop offset=".1468" stop-opacity=".9"/><stop offset=".1468" stop-opacity=".5"/><stop offset=".1875" stop-opacity=".5"/><stop offset=".1875" stop-opacity=".55"/><stop offset=".2224" stop-opacity=".55"/><stop offset=".2224" stop-opacity=".3"/><stop offset=".2573" stop-opacity=".3"/><stop offset=".2573" stop-opacity=".55"/><stop offset=".3096" stop-opacity=".55"/><stop offset=".3096" stop-opacity=".3"/><stop offset=".3503" stop-opacity=".3"/><stop offset=".3503" stop-opacity=".55"/><stop offset=".3852" stop-opacity=".55"/><stop offset=".3852" stop-opacity=".45"/><stop offset=".4084" stop-opacity=".45"/><stop offset=".4084" stop-opacity=".9"/><stop offset=".4375" stop-opacity=".9"/><stop offset=".4375" stop-opacity=".5"/><stop offset=".4782" stop-opacity=".5"/><stop offset=".4782" stop-opacity=".55"/><stop offset=".5131" stop-opacity=".55"/><stop offset=".5131" stop-opacity=".3"/><stop offset=".548" stop-opacity=".3"/><stop offset=".548" stop-opacity=".55"/><stop offset=".6003" stop-opacity=".55"/><stop offset=".6003" stop-opacity=".3"/><stop offset=".641" stop-opacity=".3"/><stop offset=".641" stop-opacity=".55"/><stop offset=".6759" stop-opacity=".55"/><stop offset=".6759" stop-opacity=".45"/><stop offset=".6991" stop-opacity=".45"/><stop offset=".6991" stop-opacity=".9"/><stop offset=".7282" stop-opacity=".9"/><stop offset=".7282" stop-opacity=".3"/><stop offset=".7689" stop-opacity=".3"/><stop offset=".7689" stop-opacity=".45"/><stop offset=".8561" stop-opacity=".45"/><stop offset=".8561" stop-opacity=".55"/><stop offset=".891" stop-opacity=".55"/><stop offset=".891" stop-opacity=".4"/><stop offset=".9259" stop-opacity=".4"/><stop offset=".9259" stop-opacity=".35"/><stop offset="1" stop-opacity=".35"/></linearGradient>
<linearGradient id="g23" gradientUnits="userSpaceOnUse" x1="579" x2="778"><stop offset="0" stop-opacity=".45"/><stop offset=".0327" stop-opacity=".45"/><stop offset=".0327" stop-opacity=".4"/><stop offset=".0678" stop-opacity=".4"/><stop offset=".0678" stop-opacity=".15"/><stop offset=".103" stop-opacity=".15"/><stop offset=".103" stop-opacity=".9"/><stop offset=".1281" stop-opacity=".9"/><stop offset=".1281" stop-opacity=".5"/><stop offset=".1633" stop-opacity=".5"/><stop offset=".1633" stop-opacity=".55"/><stop offset=".1935" stop-opacity=".55"/><stop offset=".1935" stop-opacity=".3"/><stop offset=".2236" stop-opacity=".3"/><stop offset=".2236" stop-opacity=".55"/><stop offset=".2688" stop-opacity=".55"/><stop offset=".2688" stop-opacity=".3"/><stop offset=".304" stop-opacity=".3"/><stop offset=".304" stop-opacity=".55"/><stop offset=".3342" stop-opacity=".55"/><stop offset=".3342" stop-opacity=".45"/><stop offset=".3543" stop-opacity=".45"/><stop offset=".3543" stop-opacity=".9"/><stop offset=".3794" stop-opacity=".9"/><stop offset=".3794" stop-opacity=".5"/><stop offset=".4146" stop-opacity=".5"/><stop offset=".4146" stop-opacity=".55"/><stop offset=".4447" stop-opacity=".55"/><stop offset=".4447" stop-opacity=".3"/><stop offset=".4749" stop-opacity=".3"/><stop offset=".4749" stop-opacity=".55"/><stop offset=".5201" stop-opacity=".55"/><stop offset=".5201" stop-opacity=".3"/><stop offset=".5553" stop-opacity=".3"/><stop offset=".5553" stop-opacity=".55"/><stop offset=".5854" stop-opacity=".55"/><stop offset=".5854" stop-opacity=".45"/><stop offset=".6055" stop-opacity=".45"/><stop offset=".6055" stop-opacity=".9"/><stop offset=".6307" stop-opacity=".9"/><stop offset=".6307" stop-opacity=".5"/><stop offset=".6658" stop-opacity=".5"/><stop offset=".6658" stop-opacity=".3"/><stop offset=".701" stop-opacity=".3"/><stop offset=".701" stop-opacity=".35"/><stop offset=".7362" stop-opacity=".35"/><stop offset=".7362" stop-opacity=".4"/><stop offset=".7663" stop-opacity=".4"/><stop offset=".7663" stop-opacity=".45"/><stop offset=".8015" stop-opacity=".45"/><stop offset=".8015" stop-opacity=".55"/><stop offset=".8317" stop-opacity=".55"/><stop offset=".8317" stop-opacity=".45"/><stop offset=".8769" stop-opacity=".45"/><stop offset=".8769" stop-opacity=".55"/><stop offset=".907" stop-opacity=".55"/><stop offset=".907" stop-opacity=".4"/><stop offset=".9372" stop-opacity=".4"/><stop offset=".9372" stop-opacity=".35"/><stop offset="1" stop-opacity=".35"/></linearGradient>
<linearGradient id="g24" gradientUnits="userSpaceOnUse" x1="582" x2="776"><stop offset="0" stop-opacity=".45"/><stop offset=".0322" stop-opacity=".45"/><stop offset=".0322" stop-opacity=".4"/><stop offset=".0683" stop-opacity=".4"/><stop offset=".0683" stop-opacity=".15"/><stop offset=".1044" stop-opacity=".15"/><stop offset=".1044" stop-opacity=".9"/><stop offset=".1302" stop-opacity=".9"/><stop offset=".1302" stop-opacity=".3"/><stop offset=".1662" stop-opacity=".3"/><stop offset=".1662" stop-opacity=".4"/><stop offset=".2023" stop-opacity=".4"/><stop offset=".2023" stop-opacity=".45"/><stop offset=".2384" stop-opacity=".45"/><stop offset=".2384" stop-opacity=".55"/><stop offset=".2693" stop-opacity=".55"/><stop offset=".2693" stop-opacity=".25"/><stop offset=".2951" stop-opacity=".25"/><stop offset=".2951" stop-opacity=".55"/><stop offset=".326" stop-opacity=".55"/><stop offset=".326" stop-opacity=".9"/><stop offset=".3518" stop-opacity=".9"/><stop offset=".3518" stop-opacity=".55"/><stop offset=".3879" stop-opacity=".55"/><stop offset=".3879" stop-opacity=".45"/><stop offset=".424" stop-opacity=".45"/><stop offset=".424" stop-opacity=".4"/><stop offset=".4549" stop-opacity=".4"/><stop offset=".4549" stop-opacity=".45"/><stop offset=".4858" stop-opacity=".45"/><stop offset=".4858" stop-opacity=".55"/><stop offset=".5168" stop-opacity=".55"/><stop offset=".5168" stop-opacity=".45"/><stop offset=".5374" stop-opacity=".45"/><stop offset=".5374" stop-opacity=".9"/><stop offset=".5631" stop-opacity=".9"/><stop offset=".5631" stop-opacity=".3"/><stop offset=".5992" stop-opacity=".3"/><stop offset=".5992" stop-opacity=".45"/><stop offset=".6765" stop-opacity=".45"/><stop offset=".6765" stop-opacity=".25"/><stop offset=".7178" stop-opacity=".25"/><stop offset=".7178" stop-opacity=".45"/><stop offset=".7539" stop-opacity=".45"/><stop offset=".7539" stop-opacity=".35"/><stop offset=".7951" stop-opacity=".35"/><stop offset=".7951" stop-opacity=".4"/><stop offset=".826" stop-opacity=".4"/><stop offset=".826" stop-opacity=".45"/><stop offset=".8724" stop-opacity=".45"/><stop offset=".8724" stop-opacity=".55"/><stop offset=".9034" stop-opacity=".55"/><stop offset=".9034" stop-opacity=".4"/><stop offset=".9343" stop-opacity=".4"/><stop offset=".9343" stop-opacity=".35"/><stop offset="1" stop-opacity=".35"/></linearGradient>
<linearGradient id="g25" gradientUnits="userSpaceOnUse" x1="865" x2="1019"><stop offset="0" stop-opacity=".45"/><stop offset=".039" stop-opacity=".45"/><stop offset=".039" stop-opacity=".4"/><stop offset=".0844" stop-opacity=".4"/><stop offset=".0844" stop-opacity=".15"/><stop offset=".1299" stop-opacity=".15"/><stop offset=".1299" stop-opacity=".9"/><stop offset=".1623" stop-opacity=".9"/><stop offset=".1623" stop-opacity=".55"/><stop offset=".2078" stop-opacity=".55"/><stop offset=".2078" stop-opacity=".45"/><stop offset=".2532" stop-opacity=".45"/><stop offset=".2532" stop-opacity=".4"/><stop offset=".2922" stop-opacity=".4"/><stop offset=".2922" stop-opacity=".45"/><stop offset=".3312" stop-opacity=".45"/><stop offset=".3312" stop-opacity=".55"/><stop offset=".3701" stop-opacity=".55"/><stop offset=".3701" stop-opacity=".45"/><stop offset=".3961" stop-opacity=".45"/><stop offset=".3961" stop-opacity=".9"/><stop offset=".4286" stop-opacity=".9"/><stop offset=".4286" stop-opacity=".55"/><stop offset=".474" stop-opacity=".55"/><stop offset=".474" stop-opacity=".45"/><stop offset=".5195" stop-opacity=".45"/><stop offset=".5195" stop-opacity=".4"/><stop offset=".5584" stop-opacity=".4"/><stop offset=".5584" stop-opacity=".45"/><stop offset=".5974" stop-opacity=".45"/><stop offset=".5974" stop-opacity=".55"/><stop offset=".6364" stop-opacity=".55"/><stop offset=".6364" stop-opacity=".45"/><stop offset=".6623" stop-opacity=".45"/><stop offset=".6623" stop-opacity=".9"/><stop offset=".6948" stop-opacity=".9"/><stop offset=".6948" stop-opacity=".3"/><stop offset=".7403" stop-opacity=".3"/><stop offset=".7403" stop-opacity=".45"/><stop offset=".8377" stop-opacity=".45"/><stop offset=".8377" stop-opacity=".55"/><stop offset=".8766" stop-opacity=".55"/><stop offset=".8766" stop-opacity=".4"/><stop offset=".9156" stop-opacity=".4"/><stop offset=".9156" stop-opacity=".35"/><stop offset="1" stop-opacity=".35"/></linearGradient>
<linearGradient id="g26" gradientUnits="userSpaceOnUse" x1="280" x2="392"><stop offset="0" stop-opacity=".45"/><stop offset=".0558" stop-opacity=".45"/><stop offset=".0558" stop-opacity=".4"/><stop offset=".1183" stop-opacity=".4"/><stop offset=".1183" stop-opacity=".15"/><stop offset=".1808" stop-opacity=".15"/><stop offset=".1808" stop-opacity=".9"/><stop offset=".2254" stop-opacity=".9"/><stop offset=".2254" stop-opacity=".55"/><stop offset=".3594" stop-opacity=".55"/><stop offset=".3594" stop-opacity=".9"/><stop offset=".404" stop-opacity=".9"/><stop offset=".404" stop-opacity=".55"/><stop offset=".5379" stop-opacity=".55"/><stop offset=".5379" stop-opacity=".9"/><stop offset=".5826" stop-opacity=".9"/><stop offset=".5826" stop-opacity=".3"/><stop offset=".6451" stop-opacity=".3"/><stop offset=".6451" stop-opacity=".45"/><stop offset=".779" stop-opacity=".45"/><stop offset=".779" stop-opacity=".55"/><stop offset=".8326" stop-opacity=".55"/><stop offset=".8326" stop-opacity=".4"/><stop offset=".8862" stop-opacity=".4"/><stop offset=".8862" stop-opacity=".35"/><stop offset="1" stop-opacity=".35"/></linearGradient>
<linearGradient id="g27" gradientUnits="userSpaceOnUse" x1="193" x2="479"><stop offset="0" stop-opacity=".45"/><stop offset=".0227" stop-opacity=".45"/><stop offset=".0227" stop-opacity=".4"/><stop offset=".0472" stop-opacity=".4"/><stop offset=".0472" stop-opacity=".15"/><stop offset=".0717" stop-opacity=".15"/><stop offset=".0717" stop-opacity=".9"/><stop offset=".0892" stop-opacity=".9"/><stop offset=".0892" stop-opacity=".55"/><stop offset=".1136" stop-opacity=".55"/><stop offset=".1136" stop-opacity=".4"/><stop offset=".1346" stop-opacity=".4"/><stop offset=".1346" stop-opacity=".55"/><stop offset=".1451" stop-opacity=".55"/><stop offset=".1451" stop-opacity=".3"/><stop offset=".1661" stop-opacity=".3"/><stop offset=".1661" stop-opacity=".45"/><stop offset=".1906" stop-opacity=".45"/><stop offset=".1906" stop-opacity=".55"/><stop offset=".2115" stop-opacity=".55"/><stop offset=".2115" stop-opacity=".45"/><stop offset=".236" stop-opacity=".45"/><stop offset=".236" stop-opacity=".25"/><stop offset=".2535" stop-opacity=".25"/><stop offset=".2535" stop-opacity=".4"/><stop offset=".2745" stop-opacity=".4"/><stop offset=".2745" stop-opacity=".9"/><stop offset=".292" stop-opacity=".9"/><stop offset=".292" stop-opacity=".55"/><stop offset=".3164" stop-opacity=".55"/><stop offset=".3164" stop-opacity=".4"/><stop offset=".3374" stop-opacity=".4"/><stop offset=".3374" stop-opacity=".55"/><stop offset=".3479" stop-opacity=".55"/><stop offset=".3479" stop-opacity=".3"/><stop offset=".3689" stop-opacity=".3"/><stop offset=".3689" stop-opacity=".45"/><stop offset=".3934" stop-opacity=".45"/><stop offset=".3934" stop-opacity=".55"/><stop offset=".4143" stop-opacity=".55"/><stop offset=".4143" stop-opacity=".45"/><stop offset=".4388" stop-opacity=".45"/><stop offset=".4388" stop-opacity=".25"/><stop offset=".4563" stop-opacity=".25"/><stop offset=".4563" stop-opacity=".4"/><stop offset=".4773" stop-opacity=".4"/><stop offset=".4773" stop-opacity=".9"/><stop offset=".4948" stop-opacity=".9"/><stop offset=".4948" stop-opacity=".55"/><stop offset=".5192" stop-opacity=".55"/><stop offset=".5192" stop-opacity=".4"/><stop offset=".5402" stop-opacity=".4"/><stop offset=".5402" stop-opacity=".55"/><stop offset=".5507" stop-opacity=".55"/><stop offset=".5507" stop-opacity=".3"/><stop offset=".5717" stop-opacity=".3"/><stop offset=".5717" stop-opacity=".45"/><stop offset=".5962" stop-opacity=".45"/><stop offset=".5962" stop-opacity=".55"/><stop offset=".6171" stop-opacity=".55"/><stop offset=".6171" stop-opacity=".45"/><stop offset=".6416" stop-opacity=".45"/><stop offset=".6416" stop-opacity=".25"/><stop offset=".6591" stop-opacity=".25"/><stop offset=".6591" stop-opacity=".4"/><stop offset=".6801" stop-opacity=".4"/><stop offset=".6801" stop-opacity=".45"/><stop offset=".7115" stop-opacity=".45"/><stop offset=".7115" stop-opacity=".55"/><stop offset=".7325" stop-opacity=".55"/><stop offset=".7325" stop-opacity=".4"/><stop offset=".7535" stop-opacity=".4"/><stop offset=".7535" stop-opacity=".35"/><stop offset=".7885" stop-opacity=".35"/><stop offset=".7885" stop-opacity=".45"/><stop offset=".8199" stop-opacity=".45"/><stop offset=".8199" stop-opacity=".25"/><stop offset=".8374" stop-opacity=".25"/><stop offset=".8374" stop-opacity=".3"/><stop offset=".8619" stop-opacity=".3"/><stop offset=".8619" stop-opacity=".45"/><stop offset=".9143" stop-opacity=".45"/><stop offset=".9143" stop-opacity=".55"/><stop offset=".9353" stop-opacity=".55"/><stop offset=".9353" stop-opacity=".4"/><stop offset=".9563" stop-opacity=".4"/><stop offset=".9563" stop-opacity=".35"/><stop offset="1" stop-opacity=".35"/></linearGradient>
<linearGradient id="g28" gradientUnits="userSpaceOnUse" x1="234" x2="438"><stop offset="0" stop-opacity=".45"/><stop offset=".0306" stop-opacity=".45"/><stop offset=".0306" stop-opacity=".4"/><stop offset=".065" stop-opacity=".4"/><stop offset=".065" stop-opacity=".15"/><stop offset=".0993" stop-opacity=".15"/><stop offset=".0993" stop-opacity=".9"/><stop offset=".1238" stop-opacity=".9"/><stop offset=".1238" stop-opacity=".45"/><stop offset=".1581" stop-opacity=".45"/><stop offset=".1581" stop-opacity=".4"/><stop offset=".1875" stop-opacity=".4"/><stop offset=".1875" stop-opacity=".45"/><stop offset=".2169" stop-opacity=".45"/><stop offset=".2169" stop-opacity=".55"/><stop offset=".2463" stop-opacity=".55"/><stop offset=".2463" stop-opacity=".45"/><stop offset=".2659" stop-opacity=".45"/><stop offset=".2659" stop-opacity=".9"/><stop offset=".2904" stop-opacity=".9"/><stop offset=".2904" stop-opacity=".55"/><stop offset=".3248" stop-opacity=".55"/><stop offset=".3248" stop-opacity=".4"/><stop offset=".3542" stop-opacity=".4"/><stop offset=".3542" stop-opacity=".55"/><stop offset=".3689" stop-opacity=".55"/><stop offset=".3689" stop-opacity=".3"/><stop offset=".3983" stop-opacity=".3"/><stop offset=".3983" stop-opacity=".45"/><stop offset=".4326" stop-opacity=".45"/><stop offset=".4326" stop-opacity=".55"/><stop offset=".462" stop-opacity=".55"/><stop offset=".462" stop-opacity=".45"/><stop offset=".4963" stop-opacity=".45"/><stop offset=".4963" stop-opacity=".25"/><stop offset=".5208" stop-opacity=".25"/><stop offset=".5208" stop-opacity=".4"/><stop offset=".5502" stop-opacity=".4"/><stop offset=".5502" stop-opacity=".9"/><stop offset=".5748" stop-opacity=".9"/><stop offset=".5748" stop-opacity=".55"/><stop offset=".6091" stop-opacity=".55"/><stop offset=".6091" stop-opacity=".4"/><stop offset=".6385" stop-opacity=".4"/><stop offset=".6385" stop-opacity=".55"/><stop offset=".6532" stop-opacity=".55"/><stop offset=".6532" stop-opacity=".3"/><stop offset=".6826" stop-opacity=".3"/><stop offset=".6826" stop-opacity=".45"/><stop offset=".7169" stop-opacity=".45"/><stop offset=".7169" stop-opacity=".55"/><stop offset=".7463" stop-opacity=".55"/><stop offset=".7463" stop-opacity=".45"/><stop offset=".7806" stop-opacity=".45"/><stop offset=".7806" stop-opacity=".25"/><stop offset=".8051" stop-opacity=".25"/><stop offset=".8051" stop-opacity=".4"/><stop offset=".8346" stop-opacity=".4"/><stop offset=".8346" stop-opacity=".45"/><stop offset=".8787" stop-opacity=".45"/><stop offset=".8787" stop-opacity=".55"/><stop offset=".9081" stop-opacity=".55"/><stop offset=".9081" stop-opacity=".4"/><stop offset=".9375" stop-opacity=".4"/><stop offset=".9375" stop-opacity=".35"/><stop offset="1" stop-opacity=".35"/></linearGradient>
<linearGradient id="g29" gradientUnits="userSpaceOnUse" x1="247" x2="424"><stop offset="0" stop-opacity=".45"/><stop offset=".0367" stop-opacity=".45"/><stop offset=".0367" stop-opacity=".4"/><stop offset=".0763" stop-opacity=".4"/><stop offset=".0763" stop-opacity=".15"/><stop offset=".1158" stop-opacity=".15"/><stop offset=".1158" stop-opacity=".9"/><stop offset=".1441" stop-opacity=".9"/><stop offset=".1441" stop-opacity=".2"/><stop offset=".2006" stop-opacity=".2"/><stop offset=".2006" stop-opacity=".4"/><stop offset=".2345" stop-opacity=".4"/><stop offset=".2345" stop-opacity=".55"/><stop offset=".2684" stop-opacity=".55"/><stop offset=".2684" stop-opacity=".9"/><stop offset=".2966" stop-opacity=".9"/><stop offset=".2966" stop-opacity=".5"/><stop offset=".3362" stop-opacity=".5"/><stop offset=".3362" stop-opacity=".55"/><stop offset=".3701" stop-opacity=".55"/><stop offset=".3701" stop-opacity=".3"/><stop offset=".404" stop-opacity=".3"/><stop offset=".404" stop-opacity=".55"/><stop offset=".4548" stop-opacity=".55"/><stop offset=".4548" stop-opacity=".3"/><stop offset=".4944" stop-opacity=".3"/><stop offset=".4944" stop-opacity=".55"/><stop offset=".5282" stop-opacity=".55"/><stop offset=".5282" stop-opacity=".45"/><stop offset=".5508" stop-opacity=".45"/><stop offset=".5508" stop-opacity=".9"/><stop offset=".5791" stop-opacity=".9"/><stop offset=".5791" stop-opacity=".35"/><stop offset=".6808" stop-opacity=".35"/><stop offset=".6808" stop-opacity=".55"/><stop offset=".6977" stop-opacity=".55"/><stop offset=".6977" stop-opacity=".45"/><stop offset=".7203" stop-opacity=".45"/><stop offset=".7203" stop-opacity=".25"/><stop offset=".7373" stop-opacity=".25"/><stop offset=".7373" stop-opacity=".3"/><stop offset=".7768" stop-opacity=".3"/><stop offset=".7768" stop-opacity=".45"/><stop offset=".8616" stop-opacity=".45"/><stop offset=".8616" stop-opacity=".55"/><stop offset=".8955" stop-opacity=".55"/><stop offset=".8955" stop-opacity=".4"/><stop offset=".9294" stop-opacity=".4"/><stop offset=".9294" stop-opacity=".35"/><stop offset="1" stop-opacity=".35"/></linearGradient>
<linearGradient id="g30" gradientUnits="userSpaceOnUse" x1="253" x2="418"><stop offset="0" stop-opacity=".45"/><stop offset=".0394" stop-opacity=".45"/><stop offset=".0394" stop-opacity=".4"/><stop offset=".0818" stop-opacity=".4"/><stop offset=".0818" stop-opacity=".15"/><stop offset=".1242" stop-opacity=".15"/><stop offset=".1242" stop-opacity=".9"/><stop offset=".1545" stop-opacity=".9"/><stop offset=".1545" stop-opacity=".3"/><stop offset=".197" stop-opacity=".3"/><stop offset=".197" stop-opacity=".4"/><stop offset=".2394" stop-opacity=".4"/><stop offset=".2394" stop-opacity=".45"/><stop offset=".2818" stop-opacity=".45"/><stop offset=".2818" stop-opacity=".55"/><stop offset=".3182" stop-opacity=".55"/><stop offset=".3182" stop-opacity=".25"/><stop offset=".3485" stop-opacity=".25"/><stop offset=".3485" stop-opacity=".55"/><stop offset=".3848" stop-opacity=".55"/><stop offset=".3848" stop-opacity=".9"/><stop offset=".4152" stop-opacity=".9"/><stop offset=".4152" stop-opacity=".5"/><stop offset=".4576" stop-opacity=".5"/><stop offset=".4576" stop-opacity=".55"/><stop offset=".4939" stop-opacity=".55"/><stop offset=".4939" stop-opacity=".3"/><stop offset=".5303" stop-opacity=".3"/><stop offset=".5303" stop-opacity=".55"/><stop offset=".5848" stop-opacity=".55"/><stop offset=".5848" stop-opacity=".3"/><stop offset=".6273" stop-opacity=".3"/><stop offset=".6273" stop-opacity=".55"/><stop offset=".6636" stop-opacity=".55"/><stop offset=".6636" stop-opacity=".45"/><stop offset=".6879" stop-opacity=".45"/><stop offset=".6879" stop-opacity=".9"/><stop offset=".7182" stop-opacity=".9"/><stop offset=".7182" stop-opacity=".3"/><stop offset=".7606" stop-opacity=".3"/><stop offset=".7606" stop-opacity=".45"/><stop offset=".8515" stop-opacity=".45"/><stop offset=".8515" stop-opacity=".55"/><stop offset=".8879" stop-opacity=".55"/><stop offset=".8879" stop-opacity=".4"/><stop offset=".9242" stop-opacity=".4"/><stop offset=".9242" stop-opacity=".35"/><stop offset="1" stop-opacity=".35"/></linearGradient>
<linearGradient id="g31" gradientUnits="userSpaceOnUse" x1="239" x2="432"><stop offset="0" stop-opacity=".45"/><stop offset=".0337" stop-opacity=".45"/><stop offset=".0337" stop-opacity=".4"/><stop offset=".0699" stop-opacity=".4"/><stop offset=".0699" stop-opacity=".15"/><stop offset=".1062" stop-opacity=".15"/><stop offset=".1062" stop-opacity=".9"/><stop offset=".1321" stop-opacity=".9"/><stop offset=".1321" stop-opacity=".45"/><stop offset=".1632" stop-opacity=".45"/><stop offset=".1632" stop-opacity=".55"/><stop offset=".1943" stop-opacity=".55"/><stop offset=".1943" stop-opacity=".45"/><stop offset=".215" stop-opacity=".45"/><stop offset=".215" stop-opacity=".25"/><stop offset=".2409" stop-opacity=".25"/><stop offset=".2409" stop-opacity=".4"/><stop offset=".272" stop-opacity=".4"/><stop offset=".272" stop-opacity=".9"/><stop offset=".2979" stop-opacity=".9"/><stop offset=".2979" stop-opacity=".45"/><stop offset=".329" stop-opacity=".45"/><stop offset=".329" stop-opacity=".55"/><stop offset=".3601" stop-opacity=".55"/><stop offset=".3601" stop-opacity=".45"/><stop offset=".3808" stop-opacity=".45"/><stop offset=".3808" stop-opacity=".25"/><stop offset=".4067" stop-opacity=".25"/><stop offset=".4067" stop-opacity=".4"/><stop offset=".4378" stop-opacity=".4"/><stop offset=".4378" stop-opacity=".9"/><stop offset=".4637" stop-opacity=".9"/><stop offset=".4637" stop-opacity=".45"/><stop offset=".5311" stop-opacity=".45"/><stop offset=".5311" stop-opacity=".55"/><stop offset=".5622" stop-opacity=".55"/><stop offset=".5622" stop-opacity=".45"/><stop offset=".5829" stop-opacity=".45"/><stop offset=".5829" stop-opacity=".25"/><stop offset=".6088" stop-opacity=".25"/><stop offset=".6088" stop-opacity=".4"/><stop offset=".6399" stop-opacity=".4"/><stop offset=".6399" stop-opacity=".3"/><stop offset=".6762" stop-opacity=".3"/><stop offset=".6762" stop-opacity=".25"/><stop offset=".6917" stop-opacity=".25"/><stop offset=".6917" stop-opacity=".35"/><stop offset=".7435" stop-opacity=".35"/><stop offset=".7435" stop-opacity=".4"/><stop offset=".7798" stop-opacity=".4"/><stop offset=".7798" stop-opacity=".55"/><stop offset=".8264" stop-opacity=".55"/><stop offset=".8264" stop-opacity=".45"/><stop offset=".8731" stop-opacity=".45"/><stop offset=".8731" stop-opacity=".55"/><stop offset=".9041" stop-opacity=".55"/><stop offset=".9041" stop-opacity=".4"/><stop offset=".9352" stop-opacity=".4"/><stop offset=".9352" stop-opacity=".35"/><stop offset="1" stop-opacity=".35"/></linearGradient>
<linearGradient id="g32" gradientUnits="userSpaceOnUse" x1="604" x2="754"><stop offset="0" stop-opacity=".45"/><stop offset=".0417" stop-opacity=".45"/><stop offset=".0417" stop-opacity=".4"/><stop offset=".0883" stop-opacity=".4"/><stop offset=".0883" stop-opacity=".15"/><stop offset=".135" stop-opacity=".15"/><stop offset=".135" stop-opacity=".9"/><stop offset=".1683" stop-opacity=".9"/><stop offset=".1683" stop-opacity=".45"/><stop offset=".215" stop-opacity=".45"/><stop offset=".215" stop-opacity=".4"/><stop offset=".255" stop-opacity=".4"/><stop offset=".255" stop-opacity=".45"/><stop offset=".295" stop-opacity=".45"/><stop offset=".295" stop-opacity=".55"/><stop offset=".335" stop-opacity=".55"/><stop offset=".335" stop-opacity=".45"/><stop offset=".3617" stop-opacity=".45"/><stop offset=".3617" stop-opacity=".9"/><stop offset=".395" stop-opacity=".9"/><stop offset=".395" stop-opacity=".3"/><stop offset=".4417" stop-opacity=".3"/><stop offset=".4417" stop-opacity=".4"/><stop offset=".4883" stop-opacity=".4"/><stop offset=".4883" stop-opacity=".45"/><stop offset=".535" stop-opacity=".45"/><stop offset=".535" stop-opacity=".55"/><stop offset=".575" stop-opacity=".55"/><stop offset=".575" stop-opacity=".25"/><stop offset=".6083" stop-opacity=".25"/><stop offset=".6083" stop-opacity=".55"/><stop offset=".6483" stop-opacity=".55"/><stop offset=".6483" stop-opacity=".9"/><stop offset=".6817" stop-opacity=".9"/><stop offset=".6817" stop-opacity=".5"/><stop offset=".7283" stop-opacity=".5"/><stop offset=".7283" stop-opacity=".45"/><stop offset=".835" stop-opacity=".45"/><stop offset=".835" stop-opacity=".55"/><stop offset=".875" stop-opacity=".55"/><stop offset=".875" stop-opacity=".4"/><stop offset=".915" stop-opacity=".4"/><stop offset=".915" stop-opacity=".35"/><stop offset="1" stop-opacity=".35"/></linearGradient>
<linearGradient id="g33" gradientUnits="userSpaceOnUse" x1="249" x2="424"><stop offset="0" stop-opacity=".45"/><stop offset=".0343" stop-opacity=".45"/><stop offset=".0343" stop-opacity=".4"/><stop offset=".0743" stop-opacity=".4"/><stop offset=".0743" stop-opacity=".15"/><stop offset=".1143" stop-opacity=".15"/><stop offset=".1143" stop-opacity=".9"/><stop offset=".1429" stop-opacity=".9"/><stop offset=".1429" stop-opacity=".2"/><stop offset=".2" stop-opacity=".2"/><stop offset=".2" stop-opacity=".4"/><stop offset=".2343" stop-opacity=".4"/><stop offset=".2343" stop-opacity=".55"/><stop offset=".2686" stop-opacity=".55"/><stop offset=".2686" stop-opacity=".9"/><stop offset=".2971" stop-opacity=".9"/><stop offset=".2971" stop-opacity=".5"/><stop offset=".3371" stop-opacity=".5"/><stop offset=".3371" stop-opacity=".55"/><stop offset=".3714" stop-opacity=".55"/><stop offset=".3714" stop-opacity=".3"/><stop offset=".4057" stop-opacity=".3"/><stop offset=".4057" stop-opacity=".55"/><stop offset=".4571" stop-opacity=".55"/><stop offset=".4571" stop-opacity=".3"/><stop offset=".4971" stop-opacity=".3"/><stop offset=".4971" stop-opacity=".55"/><stop offset=".5314" stop-opacity=".55"/><stop offset=".5314" stop-opacity=".45"/><stop offset=".5543" stop-opacity=".45"/><stop offset=".5543" stop-opacity=".9"/><stop offset=".5829" stop-opacity=".9"/><stop offset=".5829" stop-opacity=".25"/><stop offset=".6229" stop-opacity=".25"/><stop offset=".6229" stop-opacity=".4"/><stop offset=".6571" stop-opacity=".4"/><stop offset=".6571" stop-opacity=".55"/><stop offset=".6743" stop-opacity=".55"/><stop offset=".6743" stop-opacity=".35"/><stop offset=".7714" stop-opacity=".35"/><stop offset=".7714" stop-opacity=".55"/><stop offset=".8057" stop-opacity=".55"/><stop offset=".8057" stop-opacity=".45"/><stop offset=".8571" stop-opacity=".45"/><stop offset=".8571" stop-opacity=".55"/><stop offset=".8914" stop-opacity=".55"/><stop offset=".8914" stop-opacity=".4"/><stop offset=".9257" stop-opacity=".4"/><stop offset=".9257" stop-opacity=".35"/><stop offset="1" stop-opacity=".35"/></linearGradient>
<linearGradient id="g34" gradientUnits="userSpaceOnUse" x1="261" x2="410"><stop offset="0" stop-opacity=".45"/><stop offset=".0436" stop-opacity=".45"/><stop offset=".0436" stop-opacity=".4"/><stop offset=".0906" stop-opacity=".4"/><stop offset=".0906" stop-opacity=".15"/><stop offset=".1376" stop-opacity=".15"/><stop offset=".1376" stop-opacity=".9"/><stop offset=".1711" stop-opacity=".9"/><stop offset=".1711" stop-opacity=".45"/><stop offset=".2181" stop-opacity=".45"/><stop offset=".2181" stop-opacity=".4"/><stop offset=".2584" stop-opacity=".4"/><stop offset=".2584" stop-opacity=".45"/><stop offset=".2987" stop-opacity=".45"/><stop offset=".2987" stop-opacity=".55"/><stop offset=".3389" stop-opacity=".55"/><stop offset=".3389" stop-opacity=".45"/><stop offset=".3658" stop-opacity=".45"/><stop offset=".3658" stop-opacity=".9"/><stop offset=".3993" stop-opacity=".9"/><stop offset=".3993" stop-opacity=".3"/><stop offset=".4463" stop-opacity=".3"/><stop offset=".4463" stop-opacity=".4"/><stop offset=".4933" stop-opacity=".4"/><stop offset=".4933" stop-opacity=".45"/><stop offset=".5403" stop-opacity=".45"/><stop offset=".5403" stop-opacity=".55"/><stop offset=".5805" stop-opacity=".55"/><stop offset=".5805" stop-opacity=".25"/><stop offset=".6141" stop-opacity=".25"/><stop offset=".6141" stop-opacity=".55"/><stop offset=".6544" stop-opacity=".55"/><stop offset=".6544" stop-opacity=".9"/><stop offset=".6879" stop-opacity=".9"/><stop offset=".6879" stop-opacity=".3"/><stop offset=".7349" stop-opacity=".3"/><stop offset=".7349" stop-opacity=".45"/><stop offset=".8356" stop-opacity=".45"/><stop offset=".8356" stop-opacity=".55"/><stop offset=".8758" stop-opacity=".55"/><stop offset=".8758" stop-opacity=".4"/><stop offset=".9161" stop-opacity=".4"/><stop offset=".9161" stop-opacity=".35"/><stop offset="1" stop-opacity=".35"/></linearGradient>
<linearGradient id="g35" gradientUnits="userSpaceOnUse" x1="579" x2="779"><stop offset="0" stop-opacity=".45"/><stop offset=".03" stop-opacity=".45"/><stop offset=".03" stop-opacity=".4"/><stop offset=".065" stop-opacity=".4"/><stop offset=".065" stop-opacity=".15"/><stop offset=".1" stop-opacity=".15"/><stop offset=".1" stop-opacity=".9"/><stop offset=".125" stop-opacity=".9"/><stop offset=".125" stop-opacity=".5"/><stop offset=".16" stop-opacity=".5"/><stop offset=".16" stop-opacity=".55"/><stop offset=".19" stop-opacity=".55"/><stop offset=".19" stop-opacity=".3"/><stop offset=".22" stop-opacity=".3"/><stop offset=".22" stop-opacity=".55"/><stop offset=".265" stop-opacity=".55"/><stop offset=".265" stop-opacity=".3"/><stop offset=".3" stop-opacity=".3"/><stop offset=".3" stop-opacity=".55"/><stop offset=".33" stop-opacity=".55"/><stop offset=".33" stop-opacity=".45"/><stop offset=".35" stop-opacity=".45"/><stop offset=".35" stop-opacity=".9"/><stop offset=".375" stop-opacity=".9"/><stop offset=".375" stop-opacity=".5"/><stop offset=".41" stop-opacity=".5"/><stop offset=".41" stop-opacity=".55"/><stop offset=".44" stop-opacity=".55"/><stop offset=".44" stop-opacity=".3"/><stop offset=".47" stop-opacity=".3"/><stop offset=".47" stop-opacity=".55"/><stop offset=".515" stop-opacity=".55"/><stop offset=".515" stop-opacity=".3"/><stop offset=".55" stop-opacity=".3"/><stop offset=".55" stop-opacity=".55"/><stop offset=".58" stop-opacity=".55"/><stop offset=".58" stop-opacity=".45"/><stop offset=".6" stop-opacity=".45"/><stop offset=".6" stop-opacity=".9"/><stop offset=".625" stop-opacity=".9"/><stop offset=".625" stop-opacity=".35"/><stop offset=".715" stop-opacity=".35"/><stop offset=".715" stop-opacity=".55"/><stop offset=".73" stop-opacity=".55"/><stop offset=".73" stop-opacity=".45"/><stop offset=".75" stop-opacity=".45"/><stop offset=".75" stop-opacity=".25"/><stop offset=".765" stop-opacity=".25"/><stop offset=".765" stop-opacity=".3"/><stop offset=".8" stop-opacity=".3"/><stop offset=".8" stop-opacity=".45"/><stop offset=".875" stop-opacity=".45"/><stop offset=".875" stop-opacity=".55"/><stop offset=".905" stop-opacity=".55"/><stop offset=".905" stop-opacity=".4"/><stop offset=".935" stop-opacity=".4"/><stop offset=".935" stop-opacity=".35"/><stop offset="1" stop-opacity=".35"/></linearGradient>
<linearGradient id="g36" gradientUnits="userSpaceOnUse" x1="592" x2="767"><stop offset="0" stop-opacity=".45"/><stop offset=".0357" stop-opacity=".45"/><stop offset=".0357" stop-opacity=".4"/><stop offset=".0757" stop-opacity=".4"/><stop offset=".0757" stop-opacity=".15"/><stop offset=".1157" stop-opacity=".15"/><stop offset=".1157" stop-opacity=".9"/><stop offset=".1443" stop-opacity=".9"/><stop offset=".1443" stop-opacity=".3"/><stop offset=".1843" stop-opacity=".3"/><stop offset=".1843" stop-opacity=".4"/><stop offset=".2243" stop-opacity=".4"/><stop offset=".2243" stop-opacity=".45"/><stop offset=".2643" stop-opacity=".45"/><stop offset=".2643" stop-opacity=".55"/><stop offset=".2986" stop-opacity=".55"/><stop offset=".2986" stop-opacity=".25"/><stop offset=".3271" stop-opacity=".25"/><stop offset=".3271" stop-opacity=".55"/><stop offset=".3614" stop-opacity=".55"/><stop offset=".3614" stop-opacity=".9"/><stop offset=".39" stop-opacity=".9"/><stop offset=".39" stop-opacity=".3"/><stop offset=".43" stop-opacity=".3"/><stop offset=".43" stop-opacity=".4"/><stop offset=".47" stop-opacity=".4"/><stop offset=".47" stop-opacity=".45"/><stop offset=".51" stop-opacity=".45"/><stop offset=".51" stop-opacity=".55"/><stop offset=".5443" stop-opacity=".55"/><stop offset=".5443" stop-opacity=".25"/><stop offset=".5729" stop-opacity=".25"/><stop offset=".5729" stop-opacity=".55"/><stop offset=".6071" stop-opacity=".55"/><stop offset=".6071" stop-opacity=".9"/><stop offset=".6357" stop-opacity=".9"/><stop offset=".6357" stop-opacity=".3"/><stop offset=".6757" stop-opacity=".3"/><stop offset=".6757" stop-opacity=".45"/><stop offset=".7614" stop-opacity=".45"/><stop offset=".7614" stop-opacity=".55"/><stop offset=".7957" stop-opacity=".55"/><stop offset=".7957" stop-opacity=".4"/><stop offset=".83" stop-opacity=".4"/><stop offset=".83" stop-opacity=".35"/><stop offset=".8871" stop-opacity=".35"/><stop offset=".8871" stop-opacity=".4"/><stop offset=".9271" stop-opacity=".4"/><stop offset=".9271" stop-opacity=".55"/><stop offset="1" stop-opacity=".55"/></linearGradient>
<linearGradient id="g37" gradientUnits="userSpaceOnUse" x1="215" x2="457"><stop offset="0" stop-opacity=".45"/><stop offset=".0269" stop-opacity=".45"/><stop offset=".0269" stop-opacity=".4"/><stop offset=".0558" stop-opacity=".4"/><stop offset=".0558" stop-opacity=".15"/><stop offset=".0847" stop-opacity=".15"/><stop offset=".0847" stop-opacity=".9"/><stop offset=".1054" stop-opacity=".9"/><stop offset=".1054" stop-opacity=".3"/><stop offset=".1343" stop-opacity=".3"/><stop offset=".1343" stop-opacity=".4"/><stop offset=".1632" stop-opacity=".4"/><stop offset=".1632" stop-opacity=".45"/><stop offset=".1921" stop-opacity=".45"/><stop offset=".1921" stop-opacity=".55"/><stop offset=".2169" stop-opacity=".55"/><stop offset=".2169" stop-opacity=".25"/><stop offset=".2376" stop-opacity=".25"/><stop offset=".2376" stop-opacity=".55"/><stop offset=".2624" stop-opacity=".55"/><stop offset=".2624" stop-opacity=".9"/><stop offset=".2831" stop-opacity=".9"/><stop offset=".2831" stop-opacity=".45"/><stop offset=".3202" stop-opacity=".45"/><stop offset=".3202" stop-opacity=".25"/><stop offset=".3533" stop-opacity=".25"/><stop offset=".3533" stop-opacity=".45"/><stop offset=".3822" stop-opacity=".45"/><stop offset=".3822" stop-opacity=".35"/><stop offset=".4153" stop-opacity=".35"/><stop offset=".4153" stop-opacity=".4"/><stop offset=".4401" stop-opacity=".4"/><stop offset=".4401" stop-opacity=".35"/><stop offset=".4979" stop-opacity=".35"/><stop offset=".4979" stop-opacity=".55"/><stop offset=".5227" stop-opacity=".55"/><stop offset=".5227" stop-opacity=".45"/><stop offset=".564" stop-opacity=".45"/><stop offset=".564" stop-opacity=".25"/><stop offset=".5764" stop-opacity=".25"/><stop offset=".5764" stop-opacity=".4"/><stop offset=".6012" stop-opacity=".4"/><stop offset=".6012" stop-opacity=".35"/><stop offset=".6302" stop-opacity=".35"/><stop offset=".6302" stop-opacity=".9"/><stop offset=".6508" stop-opacity=".9"/><stop offset=".6508" stop-opacity=".3"/><stop offset=".6798" stop-opacity=".3"/><stop offset=".6798" stop-opacity=".45"/><stop offset=".7417" stop-opacity=".45"/><stop offset=".7417" stop-opacity=".25"/><stop offset=".7748" stop-opacity=".25"/><stop offset=".7748" stop-opacity=".45"/><stop offset=".8037" stop-opacity=".45"/><stop offset=".8037" stop-opacity=".35"/><stop offset=".8368" stop-opacity=".35"/><stop offset=".8368" stop-opacity=".4"/><stop offset=".8616" stop-opacity=".4"/><stop offset=".8616" stop-opacity=".45"/><stop offset=".8988" stop-opacity=".45"/><stop offset=".8988" stop-opacity=".55"/><stop offset=".9236" stop-opacity=".55"/><stop offset=".9236" stop-opacity=".4"/><stop offset=".9483" stop-opacity=".4"/><stop offset=".9483" stop-opacity=".35"/><stop offset="1" stop-opacity=".35"/></linearGradient>
<linearGradient id="g38" gradientUnits="userSpaceOnUse" x1="237" x2="434"><stop offset="0" stop-opacity=".45"/><stop offset=".033" stop-opacity=".45"/><stop offset=".033" stop-opacity=".4"/><stop offset=".0685" stop-opacity=".4"/><stop offset=".0685" stop-opacity=".15"/><stop offset=".1041" stop-opacity=".15"/><stop offset=".1041" stop-opacity=".9"/><stop offset=".1294" stop-opacity=".9"/><stop offset=".1294" stop-opacity=".2"/><stop offset=".1802" stop-opacity=".2"/><stop offset=".1802" stop-opacity=".4"/><stop offset=".2107" stop-opacity=".4"/><stop offset=".2107" stop-opacity=".55"/><stop offset=".2411" stop-opacity=".55"/><stop offset=".2411" stop-opacity=".9"/><stop offset=".2665" stop-opacity=".9"/><stop offset=".2665" stop-opacity=".55"/><stop offset=".302" stop-opacity=".55"/><stop offset=".302" stop-opacity=".4"/><stop offset=".3325" stop-opacity=".4"/><stop offset=".3325" stop-opacity=".55"/><stop offset=".3477" stop-opacity=".55"/><stop offset=".3477" stop-opacity=".3"/><stop offset=".3782" stop-opacity=".3"/><stop offset=".3782" stop-opacity=".45"/><stop offset=".4137" stop-opacity=".45"/><stop offset=".4137" stop-opacity=".55"/><stop offset=".4442" stop-opacity=".55"/><stop offset=".4442" stop-opacity=".45"/><stop offset=".4797" stop-opacity=".45"/><stop offset=".4797" stop-opacity=".25"/><stop offset=".5051" stop-opacity=".25"/><stop offset=".5051" stop-opacity=".4"/><stop offset=".5355" stop-opacity=".4"/><stop offset=".5355" stop-opacity=".9"/><stop offset=".5609" stop-opacity=".9"/><stop offset=".5609" stop-opacity=".55"/><stop offset=".5964" stop-opacity=".55"/><stop offset=".5964" stop-opacity=".4"/><stop offset=".6269" stop-opacity=".4"/><stop offset=".6269" stop-opacity=".55"/><stop offset=".6421" stop-opacity=".55"/><stop offset=".6421" stop-opacity=".3"/><stop offset=".6726" stop-opacity=".3"/><stop offset=".6726" stop-opacity=".45"/><stop offset=".7081" stop-opacity=".45"/><stop offset=".7081" stop-opacity=".55"/><stop offset=".7386" stop-opacity=".55"/><stop offset=".7386" stop-opacity=".45"/><stop offset=".7741" stop-opacity=".45"/><stop offset=".7741" stop-opacity=".25"/><stop offset=".7995" stop-opacity=".25"/><stop offset=".7995" stop-opacity=".4"/><stop offset=".8299" stop-opacity=".4"/><stop offset=".8299" stop-opacity=".45"/><stop offset=".8756" stop-opacity=".45"/><stop offset=".8756" stop-opacity=".55"/><stop offset=".9061" stop-opacity=".55"/><stop offset=".9061" stop-opacity=".4"/><stop offset=".9365" stop-opacity=".4"/><stop offset=".9365" stop-opacity=".35"/><stop offset="1" stop-opacity=".35"/></linearGradient>
<linearGradient id="g39" gradientUnits="userSpaceOnUse" x1="263" x2="410"><stop offset="0" stop-opacity=".45"/><stop offset=".0408" stop-opacity=".45"/><stop offset=".0408" stop-opacity=".4"/><stop offset=".0884" stop-opacity=".4"/><stop offset=".0884" stop-opacity=".15"/><stop offset=".1361" stop-opacity=".15"/><stop offset=".1361" stop-opacity=".9"/><stop offset=".1701" stop-opacity=".9"/><stop offset=".1701" stop-opacity=".55"/><stop offset=".2245" stop-opacity=".55"/><stop offset=".2245" stop-opacity=".4"/><stop offset=".3061" stop-opacity=".4"/><stop offset=".3061" stop-opacity=".9"/><stop offset=".3401" stop-opacity=".9"/><stop offset=".3401" stop-opacity=".5"/><stop offset=".3878" stop-opacity=".5"/><stop offset=".3878" stop-opacity=".55"/><stop offset=".4286" stop-opacity=".55"/><stop offset=".4286" stop-opacity=".3"/><stop offset=".4694" stop-opacity=".3"/><stop offset=".4694" stop-opacity=".55"/><stop offset=".5306" stop-opacity=".55"/><stop offset=".5306" stop-opacity=".3"/><stop offset=".5782" stop-opacity=".3"/><stop offset=".5782" stop-opacity=".55"/><stop offset=".619" stop-opacity=".55"/><stop offset=".619" stop-opacity=".45"/><stop offset=".6463" stop-opacity=".45"/><stop offset=".6463" stop-opacity=".9"/><stop offset=".6803" stop-opacity=".9"/><stop offset=".6803" stop-opacity=".3"/><stop offset=".7279" stop-opacity=".3"/><stop offset=".7279" stop-opacity=".45"/><stop offset=".8299" stop-opacity=".45"/><stop offset=".8299" stop-opacity=".55"/><stop offset=".8707" stop-opacity=".55"/><stop offset=".8707" stop-opacity=".4"/><stop offset=".9116" stop-opacity=".4"/><stop offset=".9116" stop-opacity=".35"/><stop offset="1" stop-opacity=".35"/></linearGradient>
<linearGradient id="g40" gradientUnits="userSpaceOnUse" x1="249" x2="422"><stop offset="0" stop-opacity=".45"/><stop offset=".0376" stop-opacity=".45"/><stop offset=".0376" stop-opacity=".4"/><stop offset=".078" stop-opacity=".4"/><stop offset=".078" stop-opacity=".15"/><stop offset=".1185" stop-opacity=".15"/><stop offset=".1185" stop-opacity=".9"/><stop offset=".1474" stop-opacity=".9"/><stop offset=".1474" stop-opacity=".3"/><stop offset=".1879" stop-opacity=".3"/><stop offset=".1879" stop-opacity=".4"/><stop offset=".2283" stop-opacity=".4"/><stop offset=".2283" stop-opacity=".45"/><stop offset=".2688" stop-opacity=".45"/><stop offset=".2688" stop-opacity=".55"/><stop offset=".3035" stop-opacity=".55"/><stop offset=".3035" stop-opacity=".25"/><stop offset=".3324" stop-opacity=".25"/><stop offset=".3324" stop-opacity=".55"/><stop offset=".3671" stop-opacity=".55"/><stop offset=".3671" stop-opacity=".9"/><stop offset=".396" stop-opacity=".9"/><stop offset=".396" stop-opacity=".55"/><stop offset=".4364" stop-opacity=".55"/><stop offset=".4364" stop-opacity=".4"/><stop offset=".4711" stop-opacity=".4"/><stop offset=".4711" stop-opacity=".55"/><stop offset=".4884" stop-opacity=".55"/><stop offset=".4884" stop-opacity=".3"/><stop offset=".5231" stop-opacity=".3"/><stop offset=".5231" stop-opacity=".45"/><stop offset=".5636" stop-opacity=".45"/><stop offset=".5636" stop-opacity=".55"/><stop offset=".5983" stop-opacity=".55"/><stop offset=".5983" stop-opacity=".45"/><stop offset=".6387" stop-opacity=".45"/><stop offset=".6387" stop-opacity=".25"/><stop offset=".6676" stop-opacity=".25"/><stop offset=".6676" stop-opacity=".4"/><stop offset=".7023" stop-opacity=".4"/><stop offset=".7023" stop-opacity=".9"/><stop offset=".7312" stop-opacity=".9"/><stop offset=".7312" stop-opacity=".3"/><stop offset=".7717" stop-opacity=".3"/><stop offset=".7717" stop-opacity=".45"/><stop offset=".8584" stop-opacity=".45"/><stop offset=".8584" stop-opacity=".55"/><stop offset=".8931" stop-opacity=".55"/><stop offset=".8931" stop-opacity=".4"/><stop offset=".9277" stop-opacity=".4"/><stop offset=".9277" stop-opacity=".35"/><stop offset="1" stop-opacity=".35"/></linearGradient>
</defs>
<g class="b">
<rect x="24.533" y="594.133" width="98.667" height="22.667"/>
<rect x="215.2" y="10.133" width="242.667" height="22.667"/>
<rect x="549.867" y="10.133" width="258.667" height="22.667"/>
<rect x="239.2" y="56.8" width="194.667" height="22.667"/>
<rect x="257.2" y="103.467" width="158.667" height="22.667"/>
<rect x="600.533" y="103.467" width="157.333" height="22.667"/>
<rect x="257.867" y="150.133" width="157.333" height="22.667"/>
<rect x="592.533" y="150.133" width="173.333" height="22.667"/>
<rect x="245.2" y="196.8" width="182.667" height="22.667"/>
<rect x="229.2" y="243.467" width="214.667" height="22.667"/>
<rect x="171.2" y="290.133" width="330.667" height="22.667"/>
<rect x="231.2" y="336.8" width="210.667" height="22.667"/>
<rect x="253.2" y="383.467" width="166.667" height="22.667"/>
<rect x="248.533" y="430.133" width="176" height="22.667"/>
<rect x="599.2" y="383.467" width="160" height="22.667"/>
<rect x="591.2" y="430.133" width="176" height="22.667"/>
<rect x="595.867" y="476.8" width="166.667" height="22.667"/>
<rect x="240.533" y="476.8" width="192" height="22.667"/>
<rect x="213.867" y="523.467" width="245.333" height="22.667"/>
<rect x="249.2" y="570.133" width="174.667" height="22.667"/>
<rect x="253.2" y="616.8" width="166.667" height="22.667"/>
<rect x="587.867" y="570.133" width="182.667" height="22.667"/>
<rect x="241.867" y="663.467" width="189.333" height="22.667"/>
<rect x="570.533" y="616.8" width="217.333" height="22.667"/>
<rect x="571.2" y="663.467" width="216" height="22.667"/>
<rect x="249.2" y="710.133" width="174.667" height="22.667"/>
<rect x="549.867" y="710.133" width="258.667" height="22.667"/>
<rect x="583.867" y="756.8" width="190.667" height="22.667"/>
<rect x="207.2" y="756.8" width="258.667" height="22.667"/>
<rect x="573.867" y="803.467" width="210.667" height="22.667"/>
<rect x="856.533" y="803.467" width="170.667" height="22.667"/>
<rect x="569.867" y="850.133" width="218.667" height="22.667"/>
<rect x="271.867" y="803.467" width="129.333" height="22.667"/>
<rect x="273.2" y="850.133" width="126.667" height="22.667"/>
<rect x="229.2" y="896.8" width="214.667" height="22.667"/>
<rect x="185.2" y="943.467" width="302.667" height="22.667"/>
<rect x="189.867" y="990.133" width="293.333" height="22.667"/>
<rect x="254.533" y="1036.8" width="164" height="22.667"/>
<rect x="225.867" y="1083.467" width="221.333" height="22.667"/>
<rect x="233.867" y="1130.133" width="205.333" height="22.667"/>
<rect x="241.2" y="1176.8" width="190.667" height="22.667"/>
</g>
<g class="e">
<path d="M549.81 21.47C522.04 21.47 492.69 21.47 464.96 21.47"/>
<path d="M600.29 114.8C547.59 114.8 477.84 114.8 423.51 114.8"/>
<path d="M592.51 161.47C540.55 161.47 474.43 161.47 422.59 161.47"/>
<path d="M591.19 441.47C542.63 441.47 482 441.47 432.24 441.47"/>
<path d="M241.77 666C218.43 662.48 193.65 657.57 171.2 650.8 146.31 643.28 119.71 630.29 100.83 620.13"/>
<path d="M570.76 674.8C528.44 674.8 480.05 674.8 438.4 674.8"/>
<path d="M549.81 721.47C510.29 721.47 467.55 721.47 430.87 721.47"/>
<path d="M856.48 814.8C835.77 814.8 813.28 814.8 791.52 814.8"/>
</g>
<g class="f">
<path d="M214.87 19.8L212.42 20.52L210 21.29L207.59 22.1L205.2 22.96L202.83 23.87L200.49 24.82L198.17 25.83L195.88 26.88L193.61 27.99L191.38 29.15L189.17 30.37L187 31.64L184.86 32.96L182.76 34.35L180.69 35.79L178.66 37.29L176.68 38.85L174.73 40.47L172.83 42.15L170.97 43.89L169.39 45.47L167.83 47.13L166.28 48.85L164.75 50.66L163.24 52.54L161.75 54.49L160.28 56.51L158.82 58.6L157.38 60.76L155.95 62.99L154.54 65.29L153.15 67.65L151.78 70.08L150.42 72.58L149.08 75.13L147.75 77.75L146.44 80.44L145.14 83.18L143.86 85.98L142.6 88.84L141.35 91.76L140.12 94.73L138.9 97.76L137.7 100.85L136.51 103.98L135.34 107.17L134.18 110.42L133.04 113.71L131.92 117.05L130.8 120.44L129.7 123.88L128.62 127.36L127.55 130.89L126.5 134.47L125.46 138.08L124.43 141.74L123.42 145.45L122.42 149.19L121.43 152.97L120.46 156.79L119.5 160.65L118.56 164.54L117.62 168.47L116.71 172.44L115.8 176.43L114.91 180.46L114.03 184.53L113.17 188.62L112.31 192.74L111.47 196.89L110.64 201.07L109.83 205.27L109.03 209.5L108.24 213.76L107.46 218.03L106.69 222.33L105.94 226.65L105.19 231L104.46 235.36L103.74 239.74L103.04 244.13L102.34 248.55L101.66 252.98L100.99 257.42L100.32 261.88L99.67 266.35L99.04 270.83L98.41 275.32L97.79 279.82L97.18 284.33L96.59 288.84L96 293.37L95.43 297.89L94.86 302.43L94.31 306.96L93.77 311.5L93.23 316.04L92.71 320.58L92.2 325.12L91.69 329.66L91.2 334.19L90.72 338.72L90.24 343.25L89.78 347.77L89.32 352.29L88.87 356.79L88.44 361.29L88.01 365.78L87.59 370.26L87.18 374.72L86.78 379.18L86.39 383.61L86 388.04L85.63 392.45L85.26 396.84L84.9 401.22L84.55 405.57L84.21 409.91L83.87 414.22L83.55 418.52L83.23 422.79L82.92 427.04L82.62 431.26L82.32 435.46L82.03 439.63L81.75 443.77L81.48 447.88L81.21 451.97L80.95 456.02L80.7 460.04L80.46 464.03L80.22 467.98L79.99 471.9L79.76 475.79L79.54 479.64L79.33 483.44L79.13 487.22L78.93 490.95L78.74 494.64L78.55 498.29L78.37 501.89L78.19 505.45L78.02 508.97L77.86 512.44L77.7 515.86L77.55 519.24L77.4 522.57L77.26 525.85L77.13 529.07L76.99 532.25L76.87 535.37L76.75 538.44L76.63 541.45L76.52 544.41L76.41 547.31L76.31 550.15L76.21 552.93L76.12 555.66L76.03 558.32L75.94 560.92L75.86 563.46L75.78 565.93L75.71 568.34L75.64 570.69L75.58 572.96L75.51 575.17L75.46 577.31L75.4 579.38L75.35 581.38L75.3 583.31L75.26 585.16L75.21 586.94L75.88 586.95L75.92 585.18L75.97 583.32L76.02 581.4L76.07 579.4L76.12 577.33L76.18 575.19L76.24 572.98L76.31 570.71L76.38 568.36L76.45 565.95L76.53 563.48L76.61 560.94L76.69 558.34L76.78 555.68L76.88 552.96L76.98 550.17L77.08 547.33L77.18 544.43L77.3 541.48L77.41 538.46L77.53 535.4L77.66 532.27L77.79 529.1L77.93 525.87L78.07 522.6L78.22 519.27L78.37 515.89L78.53 512.47L78.69 509L78.86 505.48L79.03 501.92L79.21 498.32L79.4 494.67L79.59 490.98L79.79 487.25L80 483.48L80.21 479.67L80.43 475.83L80.65 471.94L80.88 468.02L81.12 464.07L81.37 460.08L81.62 456.06L81.88 452.01L82.14 447.93L82.42 443.81L82.7 439.67L82.98 435.5L83.28 431.31L83.58 427.08L83.89 422.84L84.21 418.57L84.54 414.28L84.87 409.96L85.21 405.63L85.56 401.27L85.92 396.9L86.29 392.51L86.67 388.1L87.05 383.67L87.44 379.23L87.84 374.78L88.25 370.32L88.67 365.84L89.1 361.35L89.54 356.86L89.98 352.35L90.44 347.84L90.9 343.32L91.38 338.79L91.86 334.26L92.36 329.73L92.86 325.19L93.37 320.66L93.9 316.12L94.43 311.58L94.97 307.04L95.53 302.51L96.09 297.98L96.66 293.45L97.25 288.93L97.84 284.42L98.45 279.91L99.07 275.41L99.7 270.92L100.33 266.44L100.98 261.97L101.65 257.52L102.32 253.08L103 248.65L103.7 244.24L104.4 239.84L105.12 235.47L105.85 231.11L106.59 226.77L107.35 222.45L108.11 218.15L108.89 213.88L109.68 209.62L110.48 205.4L111.3 201.2L112.13 197.02L112.97 192.87L113.82 188.75L114.68 184.67L115.56 180.61L116.45 176.58L117.36 172.59L118.27 168.62L119.2 164.7L120.15 160.81L121.11 156.95L122.08 153.14L123.06 149.36L124.06 145.62L125.07 141.92L126.1 138.27L127.14 134.65L128.19 131.08L129.26 127.56L130.34 124.08L131.44 120.64L132.55 117.26L133.67 113.92L134.81 110.64L135.97 107.4L137.14 104.22L138.32 101.08L139.52 98.01L140.74 94.98L141.97 92.02L143.21 89.11L144.47 86.25L145.75 83.46L147.04 80.73L148.35 78.05L149.67 75.44L151.01 72.89L152.36 70.41L153.73 67.99L155.12 65.63L156.52 63.35L157.93 61.13L159.37 58.98L160.82 56.9L162.29 54.89L163.77 52.95L165.27 51.08L166.78 49.29L168.32 47.58L169.87 45.94L171.43 44.37L173.28 42.64L175.16 40.97L177.09 39.36L179.07 37.82L181.08 36.33L183.13 34.9L185.22 33.53L187.34 32.21L189.5 30.95L191.69 29.74L193.91 28.59L196.16 27.49L198.44 26.44L200.75 25.44L203.08 24.49L205.43 23.58L207.81 22.73L210.2 21.92L212.62 21.16L215.05 20.44Z"/>
<path d="M238.76 61.83L236.28 62.17L233.8 62.54L231.32 62.95L228.85 63.4L226.38 63.88L223.92 64.39L221.47 64.95L219.03 65.55L216.61 66.18L214.19 66.86L211.79 67.58L209.41 68.35L207.04 69.15L204.7 70.01L202.37 70.91L200.07 71.85L197.79 72.85L195.53 73.89L193.31 74.98L191.11 76.12L188.93 77.32L186.79 78.57L184.69 79.87L182.61 81.22L180.58 82.64L178.57 84.1L176.61 85.63L174.69 87.21L172.81 88.86L170.97 90.56L169.44 92.06L167.94 93.64L166.44 95.29L164.97 97.02L163.51 98.82L162.06 100.69L160.63 102.63L159.22 104.65L157.82 106.73L156.44 108.88L155.07 111.1L153.72 113.38L152.39 115.73L151.07 118.14L149.76 120.61L148.47 123.15L147.19 125.74L145.93 128.4L144.68 131.12L143.45 133.89L142.23 136.72L141.02 139.6L139.83 142.54L138.66 145.53L137.49 148.58L136.34 151.67L135.21 154.82L134.09 158.01L132.98 161.26L131.89 164.55L130.81 167.89L129.74 171.27L128.69 174.69L127.65 178.16L126.62 181.68L125.6 185.23L124.6 188.82L123.62 192.45L122.64 196.12L121.68 199.82L120.73 203.57L119.79 207.34L118.87 211.15L117.95 214.99L117.05 218.87L116.16 222.77L115.29 226.71L114.43 230.67L113.57 234.66L112.73 238.68L111.91 242.72L111.09 246.78L110.29 250.87L109.49 254.98L108.71 259.12L107.94 263.27L107.18 267.44L106.44 271.63L105.7 275.84L104.98 280.06L104.26 284.3L103.56 288.55L102.87 292.81L102.19 297.09L101.52 301.38L100.86 305.67L100.21 309.98L99.57 314.29L98.94 318.61L98.32 322.94L97.72 327.27L97.12 331.6L96.53 335.94L95.95 340.27L95.39 344.61L94.83 348.95L94.28 353.28L93.74 357.61L93.21 361.94L92.69 366.27L92.18 370.58L91.68 374.89L91.19 379.2L90.71 383.49L90.24 387.77L89.78 392.05L89.32 396.31L88.87 400.55L88.44 404.79L88.01 409L87.59 413.2L87.18 417.39L86.78 421.55L86.38 425.7L86 429.82L85.62 433.93L85.25 438.01L84.89 442.07L84.53 446.1L84.19 450.11L83.85 454.09L83.52 458.04L83.2 461.96L82.88 465.86L82.58 469.72L82.28 473.55L81.98 477.35L81.7 481.11L81.42 484.84L81.15 488.53L80.89 492.19L80.63 495.8L80.38 499.38L80.14 502.92L79.9 506.42L79.67 509.87L79.45 513.28L79.23 516.64L79.02 519.96L78.82 523.24L78.62 526.46L78.43 529.64L78.24 532.77L78.06 535.85L77.89 538.87L77.72 541.84L77.56 544.76L77.4 547.63L77.25 550.43L77.11 553.18L76.97 555.88L76.83 558.51L76.7 561.08L76.58 563.6L76.46 566.05L76.35 568.43L76.24 570.75L76.13 573.01L76.03 575.2L75.94 577.33L75.85 579.38L75.76 581.37L75.68 583.28L75.61 585.12L75.53 586.89L76.2 586.92L76.27 585.15L76.35 583.31L76.43 581.39L76.51 579.41L76.6 577.35L76.7 575.23L76.8 573.04L76.9 570.79L77.01 568.46L77.13 566.08L77.24 563.63L77.37 561.12L77.5 558.54L77.63 555.91L77.77 553.22L77.92 550.47L78.07 547.66L78.22 544.8L78.39 541.88L78.55 538.91L78.73 535.89L78.91 532.81L79.09 529.68L79.28 526.51L79.48 523.28L79.69 520.01L79.9 516.69L80.11 513.32L80.34 509.91L80.57 506.46L80.8 502.96L81.05 499.43L81.3 495.85L81.55 492.23L81.82 488.58L82.09 484.89L82.36 481.16L82.65 477.4L82.94 473.6L83.24 469.77L83.55 465.91L83.86 462.02L84.18 458.09L84.51 454.14L84.85 450.16L85.2 446.16L85.55 442.12L85.91 438.07L86.28 433.99L86.66 429.89L87.05 425.76L87.44 421.62L87.84 417.45L88.25 413.27L88.67 409.07L89.1 404.85L89.54 400.62L89.98 396.38L90.44 392.12L90.9 387.85L91.37 383.56L91.86 379.27L92.35 374.97L92.85 370.66L93.36 366.35L93.88 362.02L94.4 357.7L94.94 353.37L95.49 349.03L96.05 344.7L96.61 340.36L97.19 336.03L97.78 331.69L98.38 327.36L98.98 323.03L99.6 318.71L100.23 314.39L100.87 310.08L101.52 305.77L102.18 301.48L102.85 297.19L103.53 292.92L104.22 288.66L104.92 284.41L105.63 280.17L106.36 275.95L107.09 271.75L107.84 267.56L108.6 263.39L109.37 259.24L110.15 255.11L110.94 251L111.74 246.91L112.56 242.85L113.39 238.81L114.23 234.8L115.08 230.81L115.94 226.85L116.82 222.92L117.7 219.02L118.6 215.15L119.51 211.31L120.44 207.5L121.37 203.73L122.32 199.99L123.28 196.29L124.26 192.62L125.25 189L126.25 185.41L127.26 181.86L128.29 178.35L129.32 174.89L130.38 171.47L131.44 168.09L132.52 164.76L133.61 161.47L134.72 158.23L135.84 155.04L136.97 151.9L138.12 148.81L139.28 145.77L140.45 142.79L141.64 139.85L142.84 136.98L144.06 134.16L145.29 131.39L146.53 128.68L147.79 126.03L149.06 123.45L150.35 120.92L151.65 118.45L152.97 116.05L154.3 113.71L155.65 111.44L157.01 109.23L158.38 107.09L159.77 105.02L161.18 103.02L162.6 101.09L164.03 99.23L165.48 97.44L166.94 95.73L168.42 94.09L169.92 92.53L171.43 91.04L173.25 89.35L175.12 87.72L177.03 86.15L178.98 84.64L180.96 83.18L182.99 81.78L185.04 80.43L187.14 79.14L189.26 77.9L191.42 76.71L193.61 75.58L195.82 74.49L198.06 73.45L200.33 72.47L202.62 71.52L204.93 70.63L207.27 69.78L209.62 68.98L211.99 68.22L214.38 67.5L216.78 66.83L219.2 66.19L221.63 65.6L224.06 65.05L226.51 64.53L228.97 64.05L231.43 63.61L233.9 63.2L236.37 62.83L238.84 62.49Z"/>
<path d="M256.84 107.15L254.31 107.28L251.76 107.44L249.21 107.63L246.66 107.85L244.09 108.1L241.53 108.39L238.96 108.71L236.39 109.06L233.83 109.45L231.27 109.87L228.71 110.34L226.16 110.84L223.61 111.38L221.08 111.96L218.55 112.59L216.04 113.26L213.55 113.97L211.07 114.73L208.6 115.53L206.16 116.38L203.74 117.28L201.33 118.22L198.96 119.22L196.61 120.27L194.28 121.37L191.99 122.52L189.72 123.73L187.49 125L185.29 126.32L183.12 127.69L181 129.13L178.91 130.63L176.86 132.18L174.85 133.8L172.89 135.48L170.97 137.22L169.5 138.65L168.03 140.16L166.59 141.74L165.15 143.4L163.73 145.13L162.33 146.93L160.94 148.81L159.57 150.75L158.2 152.77L156.86 154.85L155.52 157L154.2 159.21L152.9 161.49L151.61 163.83L150.33 166.24L149.06 168.71L147.81 171.23L146.57 173.82L145.35 176.46L144.14 179.17L142.94 181.92L141.75 184.74L140.58 187.6L139.42 190.52L138.27 193.49L137.14 196.51L136.02 199.58L134.91 202.7L133.82 205.86L132.73 209.08L131.66 212.33L130.6 215.63L129.56 218.97L128.52 222.36L127.5 225.78L126.49 229.25L125.49 232.75L124.51 236.29L123.54 239.87L122.57 243.48L121.62 247.12L120.69 250.8L119.76 254.51L118.85 258.25L117.94 262.02L117.05 265.82L116.17 269.64L115.3 273.5L114.44 277.37L113.6 281.27L112.76 285.2L111.94 289.14L111.12 293.11L110.32 297.09L109.53 301.1L108.75 305.12L107.98 309.16L107.22 313.21L106.47 317.28L105.74 321.36L105.01 325.45L104.29 329.55L103.59 333.66L102.89 337.78L102.21 341.91L101.53 346.05L100.87 350.19L100.21 354.33L99.57 358.48L98.93 362.63L98.31 366.78L97.69 370.93L97.09 375.07L96.49 379.22L95.91 383.36L95.33 387.5L94.76 391.63L94.21 395.75L93.66 399.87L93.12 403.98L92.59 408.07L92.07 412.16L91.56 416.23L91.06 420.29L90.57 424.34L90.08 428.36L89.61 432.38L89.14 436.37L88.69 440.35L88.24 444.3L87.8 448.24L87.37 452.15L86.95 456.03L86.53 459.9L86.13 463.74L85.73 467.55L85.34 471.33L84.96 475.08L84.59 478.81L84.23 482.5L83.87 486.16L83.52 489.79L83.18 493.38L82.85 496.93L82.53 500.45L82.21 503.94L81.9 507.38L81.6 510.78L81.3 514.14L81.02 517.46L80.74 520.74L80.47 523.97L80.2 527.16L79.95 530.3L79.7 533.39L79.45 536.43L79.22 539.42L78.99 542.37L78.77 545.25L78.55 548.09L78.35 550.87L78.14 553.6L77.95 556.27L77.76 558.88L77.58 561.43L77.41 563.92L77.24 566.36L77.08 568.73L76.92 571.03L76.77 573.27L76.63 575.45L76.49 577.56L76.36 579.6L76.23 581.58L76.11 583.48L76 585.31L75.89 587.07L76.56 587.11L76.67 585.35L76.78 583.52L76.9 581.62L77.02 579.65L77.16 577.6L77.29 575.49L77.44 573.32L77.58 571.08L77.74 568.77L77.9 566.4L78.07 563.97L78.25 561.48L78.43 558.93L78.61 556.32L78.81 553.65L79.01 550.92L79.22 548.14L79.43 545.31L79.65 542.42L79.88 539.48L80.12 536.48L80.36 533.44L80.61 530.35L80.87 527.21L81.13 524.03L81.4 520.8L81.68 517.52L81.97 514.2L82.26 510.84L82.56 507.44L82.87 504L83.19 500.52L83.51 497L83.85 493.44L84.19 489.85L84.53 486.22L84.89 482.56L85.25 478.87L85.63 475.15L86.01 471.4L86.39 467.61L86.79 463.8L87.2 459.97L87.61 456.11L88.03 452.22L88.46 448.31L88.9 444.38L89.35 440.42L89.81 436.45L90.27 432.45L90.75 428.44L91.23 424.42L91.72 420.37L92.22 416.31L92.73 412.24L93.25 408.16L93.78 404.06L94.32 399.96L94.87 395.84L95.42 391.72L95.99 387.59L96.57 383.45L97.15 379.31L97.75 375.17L98.35 371.02L98.97 366.87L99.59 362.73L100.23 358.58L100.87 354.43L101.53 350.29L102.19 346.15L102.87 342.02L103.55 337.89L104.25 333.78L104.95 329.67L105.67 325.56L106.39 321.48L107.13 317.4L107.88 313.33L108.64 309.28L109.41 305.25L110.19 301.23L110.98 297.22L111.78 293.24L112.59 289.28L113.41 285.33L114.25 281.41L115.09 277.52L115.95 273.64L116.82 269.79L117.7 265.97L118.59 262.18L119.49 258.41L120.41 254.67L121.33 250.96L122.27 247.29L123.22 243.65L124.18 240.04L125.15 236.47L126.14 232.93L127.13 229.43L128.14 225.97L129.16 222.55L130.19 219.17L131.24 215.83L132.3 212.54L133.37 209.29L134.45 206.08L135.54 202.92L136.65 199.81L137.77 196.74L138.9 193.73L140.04 190.76L141.2 187.85L142.37 184.99L143.55 182.19L144.75 179.44L145.96 176.74L147.18 174.1L148.41 171.53L149.66 169.01L150.92 166.55L152.19 164.15L153.48 161.82L154.78 159.55L156.09 157.34L157.42 155.21L158.76 153.14L160.11 151.13L161.48 149.2L162.86 147.34L164.26 145.55L165.66 143.83L167.08 142.19L168.52 140.62L169.97 139.12L171.43 137.71L173.33 135.98L175.28 134.31L177.27 132.71L179.3 131.16L181.38 129.68L183.49 128.25L185.64 126.88L187.82 125.57L190.04 124.32L192.29 123.12L194.57 121.97L196.88 120.88L199.22 119.83L201.59 118.84L203.97 117.9L206.38 117.01L208.82 116.16L211.27 115.36L213.74 114.61L216.22 113.9L218.72 113.23L221.23 112.61L223.76 112.03L226.29 111.49L228.83 110.99L231.38 110.53L233.93 110.11L236.49 109.72L239.05 109.37L241.61 109.05L244.16 108.77L246.72 108.51L249.27 108.29L251.81 108.1L254.34 107.94L256.87 107.81Z"/>
<path d="M257.48 154.05L254.94 154.18L252.39 154.34L249.83 154.53L247.27 154.75L244.7 155L242.12 155.28L239.54 155.59L236.97 155.94L234.39 156.33L231.81 156.75L229.24 157.21L226.68 157.7L224.12 158.24L221.57 158.82L219.03 159.44L216.5 160.1L213.99 160.81L211.49 161.56L209.01 162.35L206.54 163.2L204.1 164.09L201.68 165.03L199.28 166.02L196.91 167.06L194.56 168.15L192.24 169.29L189.96 170.49L187.7 171.75L185.47 173.06L183.29 174.43L181.13 175.85L179.02 177.34L176.94 178.88L174.91 180.49L172.92 182.16L170.97 183.89L169.55 185.24L168.14 186.66L166.75 188.16L165.36 189.74L163.99 191.39L162.63 193.11L161.29 194.9L159.95 196.77L158.63 198.7L157.32 200.7L156.02 202.76L154.74 204.89L153.46 207.09L152.2 209.34L150.95 211.66L149.72 214.04L148.49 216.48L147.28 218.98L146.08 221.54L144.88 224.15L143.71 226.81L142.54 229.53L141.38 232.3L140.24 235.13L139.11 238L137.98 240.92L136.87 243.9L135.78 246.91L134.69 249.98L133.61 253.08L132.55 256.23L131.49 259.43L130.45 262.66L129.42 265.93L128.4 269.25L127.39 272.6L126.39 275.98L125.4 279.4L124.42 282.86L123.46 286.35L122.5 289.87L121.56 293.42L120.62 297L119.7 300.6L118.79 304.24L117.89 307.9L116.99 311.59L116.11 315.29L115.24 319.03L114.38 322.78L113.53 326.55L112.69 330.34L111.87 334.15L111.05 337.98L110.24 341.82L109.44 345.67L108.65 349.54L107.88 353.42L107.11 357.31L106.35 361.21L105.6 365.12L104.87 369.04L104.14 372.96L103.42 376.89L102.71 380.82L102.02 384.75L101.33 388.69L100.65 392.62L99.98 396.56L99.32 400.49L98.68 404.42L98.04 408.35L97.41 412.27L96.79 416.18L96.18 420.08L95.57 423.98L94.98 427.87L94.4 431.74L93.83 435.6L93.26 439.45L92.71 443.28L92.17 447.1L91.63 450.9L91.1 454.68L90.59 458.44L90.08 462.19L89.58 465.91L89.09 469.6L88.61 473.28L88.14 476.92L87.67 480.54L87.22 484.14L86.77 487.7L86.34 491.24L85.91 494.74L85.49 498.21L85.08 501.65L84.68 505.05L84.29 508.42L83.9 511.75L83.53 515.04L83.16 518.29L82.8 521.51L82.45 524.68L82.11 527.81L81.78 530.89L81.45 533.93L81.14 536.92L80.83 539.87L80.53 542.76L80.24 545.61L79.95 548.41L79.68 551.15L79.41 553.84L79.15 556.48L78.9 559.06L78.66 561.58L78.42 564.05L78.19 566.46L77.97 568.8L77.76 571.09L77.56 573.31L77.36 575.47L77.17 577.57L76.99 579.6L76.82 581.56L76.66 583.45L76.5 585.27L76.35 587.03L77.01 587.08L77.16 585.33L77.32 583.51L77.49 581.61L77.66 579.65L77.84 577.63L78.03 575.53L78.22 573.37L78.43 571.15L78.64 568.87L78.86 566.52L79.08 564.11L79.32 561.65L79.56 559.12L79.81 556.54L80.07 553.91L80.34 551.22L80.62 548.47L80.9 545.68L81.19 542.83L81.49 539.94L81.8 536.99L82.12 534L82.44 530.96L82.77 527.88L83.12 524.75L83.47 521.58L83.82 518.37L84.19 515.12L84.57 511.83L84.95 508.5L85.34 505.13L85.74 501.73L86.15 498.29L86.57 494.82L87 491.32L87.44 487.78L87.88 484.22L88.34 480.63L88.8 477.01L89.27 473.36L89.75 469.69L90.24 465.99L90.74 462.28L91.25 458.54L91.76 454.77L92.29 450.99L92.83 447.19L93.37 443.38L93.92 439.55L94.49 435.7L95.06 431.84L95.64 427.97L96.23 424.08L96.83 420.19L97.44 416.28L98.06 412.37L98.69 408.45L99.33 404.53L99.98 400.6L100.64 396.67L101.31 392.74L101.99 388.8L102.67 384.87L103.37 380.94L104.08 377.01L104.8 373.08L105.52 369.16L106.26 365.25L107.01 361.34L107.76 357.44L108.53 353.55L109.31 349.67L110.09 345.81L110.89 341.95L111.7 338.12L112.52 334.29L113.35 330.48L114.18 326.7L115.03 322.93L115.89 319.18L116.76 315.45L117.64 311.74L118.53 308.06L119.44 304.4L120.35 300.77L121.27 297.16L122.2 293.59L123.15 290.04L124.1 286.52L125.07 283.04L126.04 279.59L127.03 276.17L128.03 272.79L129.04 269.44L130.05 266.13L131.09 262.86L132.13 259.63L133.18 256.45L134.24 253.3L135.32 250.2L136.4 247.14L137.5 244.13L138.61 241.16L139.73 238.24L140.86 235.38L142 232.56L143.15 229.79L144.32 227.08L145.49 224.42L146.68 221.82L147.88 219.27L149.09 216.78L150.31 214.35L151.54 211.98L152.79 209.67L154.04 207.42L155.31 205.23L156.59 203.11L157.88 201.06L159.18 199.07L160.5 197.15L161.82 195.3L163.16 193.52L164.51 191.81L165.87 190.17L167.24 188.61L168.62 187.12L170.02 185.71L171.43 184.38L173.36 182.66L175.33 181L177.35 179.41L179.41 177.88L181.51 176.4L183.65 174.99L185.82 173.63L188.03 172.33L190.27 171.08L192.55 169.89L194.85 168.75L197.18 167.66L199.54 166.63L201.93 165.65L204.33 164.71L206.77 163.82L209.22 162.99L211.69 162.19L214.17 161.45L216.67 160.74L219.19 160.08L221.72 159.47L224.26 158.89L226.81 158.36L229.36 157.86L231.93 157.4L234.49 156.98L237.06 156.6L239.63 156.25L242.2 155.94L244.77 155.66L247.33 155.41L249.89 155.19L252.44 155.01L254.98 154.85L257.51 154.72Z"/>
<path d="M245.06 201.98L242.48 202.26L239.9 202.57L237.32 202.92L234.74 203.31L232.16 203.73L229.59 204.18L227.02 204.68L224.45 205.21L221.9 205.79L219.35 206.4L216.82 207.06L214.29 207.76L211.79 208.5L209.3 209.29L206.82 210.12L204.37 211.01L201.94 211.94L199.53 212.91L197.14 213.94L194.78 215.02L192.45 216.15L190.14 217.34L187.87 218.58L185.63 219.87L183.42 221.22L181.25 222.63L179.11 224.09L177.02 225.62L174.96 227.2L172.95 228.84L170.98 230.55L169.6 231.82L168.24 233.17L166.88 234.6L165.54 236.1L164.21 237.67L162.88 239.32L161.57 241.04L160.27 242.83L158.98 244.69L157.7 246.62L156.42 248.61L155.16 250.67L153.91 252.79L152.67 254.98L151.44 257.22L150.22 259.53L149 261.9L147.8 264.32L146.61 266.8L145.43 269.34L144.26 271.93L143.1 274.57L141.95 277.27L140.8 280.01L139.67 282.81L138.55 285.65L137.44 288.54L136.33 291.47L135.24 294.45L134.16 297.47L133.09 300.53L132.02 303.63L130.97 306.78L129.93 309.96L128.89 313.17L127.87 316.42L126.86 319.71L125.85 323.03L124.86 326.38L123.88 329.76L122.9 333.17L121.94 336.61L120.98 340.07L120.04 343.56L119.1 347.07L118.18 350.61L117.26 354.17L116.36 357.74L115.46 361.34L114.57 364.95L113.7 368.59L112.83 372.23L111.98 375.89L111.13 379.57L110.29 383.25L109.46 386.95L108.65 390.65L107.84 394.36L107.04 398.08L106.25 401.8L105.48 405.53L104.71 409.26L103.95 412.99L103.2 416.72L102.46 420.45L101.73 424.18L101.01 427.91L100.3 431.63L99.6 435.34L98.91 439.05L98.23 442.75L97.56 446.44L96.9 450.11L96.25 453.78L95.61 457.43L94.98 461.07L94.36 464.69L93.75 468.29L93.14 471.87L92.55 475.44L91.97 478.98L91.4 482.5L90.83 486L90.28 489.47L89.74 492.92L89.2 496.34L88.68 499.73L88.17 503.09L87.66 506.41L87.17 509.71L86.68 512.97L86.21 516.2L85.74 519.39L85.29 522.55L84.84 525.66L84.4 528.74L83.98 531.77L83.56 534.77L83.16 537.71L82.76 540.62L82.37 543.47L81.99 546.28L81.63 549.04L81.27 551.75L80.92 554.41L80.58 557.02L80.25 559.57L79.93 562.07L79.63 564.51L79.33 566.9L79.04 569.22L78.76 571.49L78.49 573.69L78.23 575.83L77.98 577.91L77.73 579.92L77.5 581.87L77.28 583.75L77.07 585.56L76.87 587.3L77.53 587.37L77.73 585.63L77.94 583.82L78.17 581.95L78.4 580L78.64 577.99L78.89 575.91L79.15 573.77L79.42 571.57L79.7 569.3L79.99 566.98L80.29 564.6L80.6 562.15L80.91 559.66L81.24 557.11L81.58 554.5L81.93 551.84L82.29 549.13L82.65 546.37L83.03 543.56L83.42 540.71L83.82 537.8L84.22 534.86L84.64 531.87L85.06 528.83L85.5 525.76L85.95 522.64L86.4 519.49L86.87 516.3L87.34 513.07L87.83 509.81L88.32 506.51L88.82 503.19L89.34 499.83L89.86 496.44L90.4 493.02L90.94 489.58L91.49 486.1L92.05 482.61L92.63 479.09L93.21 475.55L93.8 471.98L94.4 468.4L95.01 464.8L95.64 461.18L96.27 457.54L96.91 453.89L97.56 450.23L98.22 446.55L98.89 442.87L99.57 439.17L100.26 435.47L100.96 431.75L101.67 428.03L102.39 424.31L103.12 420.58L103.85 416.85L104.6 413.12L105.36 409.39L106.13 405.67L106.91 401.94L107.69 398.22L108.49 394.5L109.3 390.79L110.12 387.09L110.94 383.4L111.78 379.71L112.62 376.04L113.48 372.39L114.35 368.74L115.22 365.11L116.11 361.5L117 357.91L117.91 354.33L118.82 350.78L119.75 347.24L120.68 343.73L121.62 340.24L122.58 336.78L123.54 333.35L124.52 329.94L125.5 326.57L126.49 323.22L127.49 319.9L128.51 316.62L129.53 313.37L130.56 310.16L131.6 306.99L132.66 303.85L133.72 300.75L134.79 297.69L135.87 294.68L136.96 291.7L138.06 288.77L139.17 285.89L140.29 283.05L141.42 280.26L142.56 277.53L143.71 274.84L144.87 272.2L146.04 269.62L147.21 267.09L148.4 264.61L149.6 262.2L150.81 259.84L152.02 257.54L153.25 255.3L154.49 253.13L155.73 251.01L156.99 248.96L158.25 246.98L159.53 245.06L160.81 243.22L162.11 241.44L163.41 239.73L164.72 238.1L166.04 236.54L167.37 235.05L168.71 233.64L170.06 232.3L171.42 231.05L173.38 229.35L175.38 227.72L177.42 226.15L179.5 224.64L181.62 223.18L183.78 221.79L185.97 220.44L188.2 219.16L190.45 217.93L192.74 216.75L195.06 215.63L197.41 214.55L199.78 213.53L202.18 212.56L204.6 211.63L207.04 210.75L209.5 209.92L211.98 209.14L214.48 208.4L216.99 207.7L219.51 207.05L222.05 206.44L224.59 205.86L227.15 205.33L229.71 204.84L232.27 204.38L234.84 203.96L237.42 203.58L239.99 203.23L242.56 202.92L245.13 202.64Z"/>
<path d="M228.75 251.49L226.12 252.01L223.5 252.57L220.89 253.17L218.28 253.82L215.69 254.51L213.12 255.24L210.56 256.02L208.01 256.84L205.48 257.72L202.98 258.64L200.5 259.61L198.04 260.63L195.6 261.7L193.19 262.83L190.82 264.01L188.47 265.24L186.15 266.53L183.87 267.88L181.62 269.28L179.41 270.75L177.24 272.27L175.11 273.86L173.03 275.5L170.98 277.21L168.1 279.76L165.27 282.35L162.5 285L159.78 287.7L157.12 290.45L154.51 293.24L151.96 296.09L149.46 298.98L147.01 301.92L144.61 304.9L142.27 307.92L139.98 310.99L137.74 314.09L135.55 317.23L133.41 320.41L131.32 323.63L129.27 326.88L127.28 330.16L125.33 333.47L123.43 336.82L121.57 340.19L119.76 343.6L118 347.03L116.28 350.48L114.6 353.96L112.97 357.47L111.38 360.99L109.84 364.54L108.33 368.1L106.87 371.68L105.44 375.28L104.06 378.9L102.72 382.52L101.41 386.17L100.15 389.82L98.92 393.48L97.73 397.15L96.58 400.83L95.46 404.51L94.38 408.2L93.33 411.9L92.32 415.59L91.34 419.29L90.4 422.99L89.49 426.68L88.61 430.37L87.76 434.06L86.95 437.75L86.16 441.42L85.41 445.09L84.68 448.75L83.99 452.4L83.32 456.04L82.68 459.66L82.07 463.27L81.49 466.86L80.93 470.44L80.4 474L79.89 477.54L79.41 481.06L78.95 484.55L78.52 488.03L78.1 491.47L77.71 494.9L77.35 498.29L77 501.66L76.68 504.99L76.37 508.3L76.09 511.57L75.82 514.81L75.58 518.02L75.35 521.19L75.14 524.32L74.94 527.41L74.76 530.46L74.6 533.47L74.45 536.44L74.32 539.36L74.21 542.24L74.1 545.07L74.01 547.86L73.93 550.59L73.87 553.28L73.81 555.91L73.77 558.49L73.74 561.02L73.71 563.49L73.7 565.9L73.69 568.26L73.7 570.55L73.71 572.79L73.72 574.96L73.75 577.07L73.78 579.11L73.81 581.09L73.85 583.01L73.9 584.85L73.95 586.62L74.61 586.6L74.56 584.83L74.52 582.99L74.48 581.08L74.44 579.1L74.41 577.06L74.39 574.95L74.37 572.78L74.36 570.55L74.36 568.26L74.36 565.9L74.38 563.49L74.4 561.02L74.44 558.5L74.48 555.92L74.53 553.29L74.6 550.61L74.68 547.88L74.77 545.1L74.87 542.27L74.99 539.39L75.12 536.47L75.27 533.51L75.43 530.5L75.61 527.45L75.8 524.36L76.01 521.23L76.24 518.07L76.49 514.87L76.75 511.63L77.04 508.36L77.34 505.06L77.67 501.72L78.01 498.36L78.38 494.97L78.77 491.55L79.18 488.11L79.61 484.64L80.07 481.14L80.55 477.63L81.06 474.09L81.59 470.54L82.15 466.97L82.73 463.38L83.34 459.77L83.98 456.15L84.64 452.52L85.34 448.88L86.06 445.22L86.82 441.56L87.6 437.89L88.41 434.21L89.26 430.53L90.14 426.84L91.05 423.15L91.99 419.46L92.96 415.77L93.97 412.08L95.02 408.39L96.1 404.7L97.21 401.03L98.37 397.35L99.55 393.69L100.78 390.03L102.04 386.39L103.34 382.75L104.69 379.13L106.07 375.52L107.49 371.93L108.95 368.36L110.45 364.8L111.99 361.26L113.58 357.75L115.21 354.25L116.88 350.78L118.59 347.33L120.35 343.91L122.16 340.51L124.01 337.14L125.91 333.81L127.85 330.5L129.84 327.23L131.88 323.98L133.96 320.78L136.1 317.61L138.28 314.47L140.52 311.38L142.8 308.33L145.14 305.31L147.53 302.34L149.96 299.41L152.46 296.53L155 293.69L157.6 290.91L160.25 288.17L162.96 285.48L165.72 282.84L168.54 280.25L171.42 277.72L173.45 276.02L175.52 274.38L177.63 272.81L179.79 271.3L181.98 269.84L184.22 268.45L186.48 267.11L188.78 265.83L191.12 264.6L193.48 263.43L195.88 262.31L198.3 261.24L200.74 260.23L203.22 259.26L205.71 258.34L208.22 257.48L210.76 256.66L213.31 255.88L215.87 255.15L218.45 254.47L221.04 253.82L223.65 253.22L226.26 252.66L228.88 252.14Z"/>
<path d="M187.83 312.67L185.61 313.88L183.42 315.15L181.27 316.48L179.14 317.85L177.05 319.27L174.99 320.75L172.97 322.29L170.99 323.88L168.21 326.22L165.48 328.62L162.81 331.07L160.19 333.58L157.62 336.14L155.11 338.74L152.64 341.4L150.23 344.1L147.87 346.85L145.56 349.64L143.29 352.47L141.08 355.35L138.91 358.27L136.79 361.22L134.72 364.21L132.69 367.24L130.71 370.3L128.78 373.39L126.89 376.52L125.05 379.67L123.25 382.85L121.49 386.06L119.78 389.29L118.1 392.55L116.47 395.83L114.88 399.14L113.34 402.46L111.83 405.8L110.36 409.16L108.93 412.53L107.54 415.91L106.19 419.31L104.87 422.72L103.6 426.14L102.36 429.57L101.15 433L99.98 436.44L98.85 439.89L97.75 443.34L96.68 446.78L95.65 450.23L94.65 453.68L93.68 457.12L92.74 460.56L91.84 463.99L90.96 467.41L90.12 470.83L89.31 474.23L88.52 477.62L87.76 481L87.04 484.37L86.33 487.72L85.66 491.05L85.01 494.36L84.39 497.65L83.8 500.92L83.22 504.17L82.68 507.39L82.16 510.59L81.66 513.76L81.18 516.9L80.73 520.01L80.29 523.08L79.88 526.13L79.49 529.14L79.12 532.11L78.77 535.05L78.44 537.94L78.13 540.8L77.83 543.61L77.56 546.38L77.3 549.11L77.05 551.79L76.82 554.42L76.61 557.01L76.42 559.54L76.23 562.02L76.06 564.45L75.91 566.82L75.77 569.14L75.64 571.4L75.52 573.6L75.41 575.74L75.31 577.82L75.23 579.83L75.15 581.78L75.08 583.67L75.02 585.48L74.97 587.23L75.64 587.25L75.69 585.5L75.75 583.69L75.82 581.81L75.89 579.86L75.98 577.85L76.08 575.77L76.18 573.64L76.3 571.44L76.43 569.18L76.57 566.87L76.73 564.5L76.9 562.07L77.08 559.59L77.28 557.06L77.49 554.48L77.72 551.85L77.96 549.17L78.22 546.45L78.5 543.68L78.79 540.87L79.1 538.02L79.43 535.12L79.78 532.19L80.15 529.22L80.54 526.21L80.95 523.17L81.39 520.1L81.84 516.99L82.32 513.86L82.81 510.69L83.34 507.5L83.88 504.28L84.45 501.04L85.05 497.77L85.67 494.49L86.31 491.18L86.99 487.85L87.69 484.51L88.41 481.15L89.17 477.77L89.95 474.38L90.77 470.98L91.61 467.57L92.48 464.15L93.39 460.73L94.32 457.3L95.29 453.86L96.29 450.42L97.32 446.98L98.38 443.53L99.48 440.09L100.61 436.66L101.78 433.22L102.98 429.79L104.22 426.37L105.5 422.96L106.81 419.56L108.16 416.16L109.55 412.78L110.97 409.42L112.44 406.07L113.94 402.74L115.49 399.42L117.07 396.13L118.7 392.85L120.37 389.6L122.08 386.38L123.83 383.18L125.63 380L127.46 376.86L129.35 373.74L131.28 370.66L133.25 367.6L135.27 364.59L137.34 361.6L139.45 358.66L141.61 355.75L143.82 352.89L146.07 350.06L148.38 347.28L150.73 344.54L153.14 341.85L155.59 339.2L158.1 336.6L160.66 334.05L163.27 331.56L165.93 329.11L168.64 326.72L171.41 324.39L173.38 322.81L175.39 321.29L177.43 319.82L179.51 318.4L181.62 317.04L183.76 315.73L185.94 314.47L188.14 313.25Z"/>
<path d="M231.09 345.89L228.4 346.39L225.71 346.93L223.03 347.51L220.35 348.12L217.69 348.78L215.03 349.49L212.39 350.23L209.76 351.02L207.14 351.86L204.55 352.74L201.97 353.67L199.42 354.65L196.88 355.68L194.37 356.76L191.89 357.89L189.44 359.07L187.01 360.3L184.61 361.59L182.25 362.94L179.93 364.34L177.63 365.8L175.38 367.32L173.17 368.9L171 370.54L168.3 372.68L165.65 374.88L163.05 377.14L160.5 379.45L158 381.82L155.55 384.24L153.15 386.71L150.8 389.23L148.49 391.79L146.23 394.4L144.02 397.05L141.85 399.75L139.73 402.48L137.65 405.25L135.62 408.06L133.63 410.91L131.69 413.78L129.79 416.69L127.93 419.63L126.11 422.6L124.34 425.6L122.6 428.62L120.91 431.66L119.26 434.72L117.64 437.81L116.07 440.91L114.53 444.03L113.04 447.17L111.58 450.32L110.16 453.48L108.77 456.65L107.42 459.83L106.11 463.02L104.83 466.21L103.59 469.4L102.38 472.6L101.21 475.8L100.07 478.99L98.96 482.19L97.88 485.37L96.84 488.56L95.83 491.73L94.85 494.89L93.9 498.05L92.98 501.18L92.09 504.31L91.23 507.42L90.39 510.51L89.59 513.58L88.81 516.63L88.06 519.66L87.34 522.66L86.65 525.63L85.98 528.58L85.33 531.5L84.71 534.39L84.12 537.24L83.55 540.06L83 542.84L82.47 545.59L81.97 548.29L81.49 550.96L81.03 553.58L80.59 556.16L80.18 558.69L79.78 561.17L79.4 563.6L79.04 565.99L78.71 568.31L78.38 570.59L78.08 572.81L77.8 574.97L77.53 577.07L77.27 579.11L77.04 581.09L76.81 583L76.61 584.85L76.42 586.63L77.08 586.7L77.27 584.92L77.48 583.08L77.7 581.17L77.93 579.19L78.19 577.16L78.46 575.06L78.74 572.9L79.04 570.68L79.37 568.41L79.7 566.08L80.06 563.7L80.44 561.27L80.84 558.79L81.25 556.27L81.69 553.69L82.15 551.07L82.63 548.41L83.13 545.71L83.65 542.97L84.2 540.19L84.77 537.37L85.36 534.52L85.98 531.64L86.63 528.73L87.3 525.78L87.99 522.81L88.71 519.81L89.46 516.79L90.24 513.75L91.04 510.68L91.87 507.59L92.73 504.49L93.62 501.37L94.54 498.23L95.48 495.09L96.46 491.93L97.47 488.76L98.52 485.58L99.59 482.4L100.69 479.21L101.83 476.02L103.01 472.83L104.21 469.64L105.45 466.45L106.73 463.27L108.04 460.09L109.38 456.91L110.77 453.75L112.18 450.59L113.64 447.45L115.13 444.32L116.67 441.21L118.24 438.11L119.85 435.04L121.5 431.98L123.18 428.94L124.91 425.93L126.68 422.95L128.5 419.99L130.35 417.05L132.25 414.15L134.18 411.28L136.17 408.45L138.19 405.65L140.26 402.88L142.38 400.16L144.54 397.47L146.74 394.83L148.99 392.23L151.29 389.68L153.63 387.17L156.03 384.71L158.47 382.3L160.96 379.94L163.49 377.64L166.08 375.39L168.72 373.2L171.4 371.06L173.56 369.44L175.76 367.87L178 366.36L180.28 364.91L182.59 363.52L184.94 362.18L187.32 360.9L189.73 359.67L192.17 358.49L194.64 357.37L197.14 356.29L199.66 355.27L202.2 354.3L204.77 353.37L207.35 352.49L209.96 351.66L212.57 350.87L215.21 350.13L217.85 349.43L220.51 348.77L223.17 348.16L225.84 347.58L228.52 347.04L231.21 346.54Z"/>
<path d="M252.8 390.91L249.98 391.17L247.15 391.47L244.32 391.79L241.47 392.16L238.62 392.55L235.76 392.99L232.9 393.46L230.04 393.97L227.19 394.52L224.33 395.11L221.48 395.74L218.64 396.42L215.81 397.14L212.99 397.9L210.18 398.71L207.39 399.57L204.62 400.48L201.86 401.44L199.13 402.44L196.42 403.5L193.73 404.62L191.07 405.78L188.44 407.01L185.84 408.28L183.28 409.62L180.74 411.01L178.25 412.47L175.79 413.98L173.38 415.56L171.01 417.19L168.38 419.11L165.8 421.09L163.26 423.12L160.77 425.22L158.32 427.36L155.91 429.57L153.55 431.82L151.23 434.12L148.96 436.47L146.72 438.87L144.53 441.31L142.39 443.79L140.28 446.31L138.21 448.87L136.19 451.47L134.2 454.09L132.26 456.75L130.35 459.44L128.48 462.16L126.66 464.91L124.87 467.67L123.12 470.46L121.41 473.27L119.73 476.1L118.09 478.95L116.49 481.8L114.93 484.67L113.4 487.56L111.91 490.45L110.45 493.34L109.03 496.24L107.65 499.14L106.29 502.05L104.98 504.95L103.69 507.85L102.44 510.74L101.22 513.63L100.04 516.5L98.89 519.37L97.77 522.22L96.68 525.06L95.62 527.88L94.59 530.68L93.6 533.46L92.63 536.22L91.7 538.95L90.79 541.65L89.91 544.33L89.07 546.98L88.25 549.59L87.46 552.17L86.69 554.71L85.96 557.21L85.25 559.68L84.57 562.1L83.91 564.47L83.28 566.8L82.68 569.08L82.1 571.31L81.55 573.49L81.02 575.62L80.52 577.69L80.04 579.7L79.58 581.65L79.15 583.53L78.74 585.36L78.35 587.12L79.01 587.26L79.39 585.5L79.8 583.68L80.23 581.8L80.69 579.85L81.17 577.84L81.67 575.78L82.19 573.66L82.75 571.48L83.32 569.25L83.93 566.97L84.55 564.65L85.21 562.28L85.89 559.86L86.6 557.4L87.33 554.9L88.09 552.36L88.88 549.79L89.7 547.18L90.55 544.54L91.42 541.86L92.33 539.16L93.26 536.44L94.23 533.68L95.22 530.91L96.25 528.11L97.3 525.29L98.39 522.46L99.51 519.62L100.66 516.75L101.84 513.88L103.06 511L104.3 508.12L105.59 505.22L106.9 502.33L108.25 499.43L109.63 496.53L111.05 493.64L112.5 490.75L113.99 487.87L115.52 484.99L117.08 482.13L118.67 479.27L120.31 476.44L121.98 473.62L123.69 470.81L125.43 468.03L127.21 465.27L129.04 462.54L130.9 459.83L132.8 457.14L134.74 454.49L136.71 451.87L138.73 449.29L140.79 446.74L142.89 444.22L145.03 441.75L147.22 439.32L149.44 436.93L151.71 434.59L154.02 432.3L156.37 430.05L158.76 427.86L161.2 425.72L163.68 423.64L166.21 421.61L168.78 419.64L171.39 417.74L173.75 416.11L176.15 414.54L178.59 413.04L181.07 411.59L183.59 410.21L186.14 408.88L188.73 407.61L191.34 406.39L193.99 405.23L196.66 404.12L199.36 403.07L202.09 402.06L204.83 401.11L207.59 400.21L210.37 399.35L213.17 398.54L215.98 397.78L218.8 397.06L221.63 396.39L224.47 395.76L227.32 395.17L230.17 394.62L233.02 394.12L235.87 393.65L238.71 393.21L241.56 392.82L244.4 392.46L247.23 392.13L250.05 391.83L252.86 391.57Z"/>
<path d="M248.42 439.8L245.36 440.16L242.29 440.56L239.22 440.99L236.13 441.46L233.04 441.98L229.95 442.53L226.85 443.12L223.76 443.75L220.67 444.43L217.59 445.16L214.51 445.93L211.45 446.75L208.4 447.61L205.36 448.53L202.35 449.5L199.35 450.52L196.38 451.59L193.43 452.72L190.51 453.9L187.62 455.14L184.76 456.44L181.93 457.8L179.14 459.22L176.4 460.7L173.69 462.24L171.02 463.85L168.39 465.53L165.8 467.27L163.24 469.08L160.72 470.95L158.24 472.88L155.8 474.86L153.39 476.9L151.02 478.99L148.69 481.13L146.39 483.31L144.13 485.54L141.91 487.8L139.72 490.11L137.57 492.45L135.46 494.83L133.38 497.24L131.34 499.67L129.34 502.14L127.37 504.62L125.44 507.13L123.55 509.66L121.7 512.2L119.88 514.75L118.09 517.32L116.35 519.9L114.64 522.48L112.96 525.07L111.33 527.66L109.72 530.24L108.16 532.83L106.63 535.4L105.14 537.97L103.68 540.53L102.26 543.07L100.88 545.6L99.53 548.11L98.22 550.6L96.95 553.07L95.71 555.51L94.5 557.92L93.34 560.3L92.21 562.65L91.11 564.96L90.05 567.23L89.03 569.46L88.04 571.65L87.09 573.8L86.18 575.89L85.3 577.94L84.45 579.93L83.65 581.87L82.87 583.74L82.14 585.56L81.44 587.32L82.06 587.56L82.76 585.81L83.49 584L84.26 582.12L85.07 580.19L85.91 578.2L86.79 576.16L87.7 574.07L88.65 571.93L89.64 569.74L90.66 567.51L91.72 565.24L92.81 562.93L93.94 560.59L95.1 558.21L96.3 555.81L97.54 553.37L98.81 550.91L100.12 548.43L101.47 545.92L102.85 543.4L104.26 540.86L105.72 538.3L107.21 535.74L108.73 533.17L110.29 530.59L111.89 528.01L113.52 525.43L115.19 522.85L116.9 520.27L118.64 517.7L120.42 515.14L122.24 512.59L124.09 510.05L125.98 507.53L127.9 505.03L129.86 502.55L131.86 500.1L133.89 497.67L135.96 495.27L138.06 492.9L140.21 490.57L142.39 488.27L144.6 486.01L146.85 483.79L149.14 481.61L151.46 479.49L153.83 477.41L156.22 475.38L158.66 473.4L161.13 471.48L163.64 469.62L166.18 467.82L168.76 466.09L171.38 464.42L174.03 462.82L176.72 461.28L179.45 459.81L182.23 458.4L185.04 457.05L187.89 455.75L190.76 454.52L193.67 453.34L196.61 452.22L199.57 451.15L202.56 450.13L205.56 449.17L208.59 448.25L211.63 447.39L214.68 446.57L217.74 445.81L220.82 445.08L223.9 444.41L226.98 443.77L230.07 443.18L233.15 442.63L236.23 442.12L239.31 441.65L242.38 441.22L245.44 440.82L248.49 440.46Z"/>
<path d="M598.97 405.3L594.54 405.9L590.03 406.52L585.46 407.15L580.82 407.78L576.13 408.43L571.37 409.08L566.57 409.74L561.71 410.41L556.82 411.08L551.88 411.76L546.9 412.44L541.9 413.13L536.87 413.82L531.81 414.51L526.73 415.21L521.64 415.91L516.54 416.61L511.43 417.31L506.32 418.01L501.21 418.71L496.1 419.41L491.01 420.11L485.93 420.81L480.86 421.51L475.82 422.2L470.8 422.89L465.81 423.57L460.86 424.25L455.95 424.93L451.07 425.59L446.25 426.26L441.47 426.91L436.75 427.56L432.09 428.2L427.49 428.83L427.58 429.49L432.18 428.86L436.84 428.22L441.56 427.57L446.34 426.92L451.16 426.25L456.04 425.59L460.95 424.91L465.9 424.23L470.89 423.55L475.91 422.86L480.95 422.17L486.02 421.47L491.1 420.77L496.2 420.07L501.3 419.37L506.41 418.67L511.52 417.97L516.63 417.27L521.73 416.57L526.83 415.87L531.9 415.17L536.96 414.48L541.99 413.79L547 413.1L551.97 412.42L556.91 411.74L561.8 411.07L566.66 410.4L571.46 409.74L576.22 409.09L580.91 408.45L585.55 407.81L590.12 407.18L594.63 406.56L599.06 405.96Z"/>
<path d="M595.61 476.51L590.95 475.87L586.22 475.22L581.42 474.56L576.55 473.89L571.63 473.22L566.64 472.53L561.61 471.84L556.53 471.14L551.4 470.44L546.24 469.73L541.04 469.02L535.82 468.3L530.57 467.58L525.3 466.86L520.02 466.13L514.72 465.41L509.42 464.68L504.12 463.95L498.83 463.22L493.54 462.5L488.26 461.77L483 461.05L477.76 460.33L472.55 459.62L467.36 458.9L462.22 458.2L457.11 457.5L452.05 456.8L447.04 456.11L442.08 455.43L437.17 454.76L432.34 454.1L427.57 453.44L427.47 454.1L432.25 454.76L437.08 455.42L441.99 456.09L446.94 456.77L451.96 457.46L457.02 458.16L462.13 458.86L467.27 459.56L472.46 460.28L477.67 460.99L482.91 461.71L488.17 462.43L493.45 463.16L498.74 463.88L504.03 464.61L509.33 465.34L514.63 466.07L519.93 466.79L525.21 467.52L530.48 468.24L535.73 468.96L540.95 469.68L546.15 470.39L551.31 471.1L556.44 471.8L561.52 472.5L566.55 473.19L571.54 473.88L576.46 474.55L581.33 475.22L586.13 475.88L590.86 476.53L595.51 477.17Z"/>
<path d="M240.15 490.55L236.79 491.06L233.43 491.6L230.05 492.19L226.67 492.81L223.28 493.47L219.9 494.18L216.52 494.93L213.14 495.72L209.78 496.56L206.42 497.44L203.08 498.37L199.76 499.35L196.45 500.38L193.17 501.45L189.91 502.58L186.69 503.76L183.49 505L180.32 506.29L177.19 507.64L174.1 509.04L171.05 510.5L168.32 511.89L165.61 513.34L162.92 514.86L160.26 516.45L157.61 518.09L155 519.79L152.4 521.54L149.84 523.34L147.3 525.19L144.79 527.08L142.31 529.01L139.86 530.97L137.44 532.97L135.05 535L132.69 537.06L130.37 539.14L128.08 541.23L125.83 543.35L123.61 545.48L121.44 547.63L119.29 549.77L117.19 551.93L115.13 554.08L113.11 556.24L111.13 558.38L109.19 560.52L107.29 562.65L105.44 564.76L103.64 566.86L101.88 568.93L100.17 570.98L98.5 573L96.88 574.99L95.32 576.94L93.8 578.86L92.34 580.74L90.93 582.57L89.57 584.36L88.26 586.09L87.01 587.78L87.55 588.17L88.8 586.49L90.1 584.76L91.45 582.98L92.86 581.15L94.33 579.27L95.84 577.36L97.4 575.41L99.02 573.42L100.68 571.4L102.39 569.36L104.14 567.29L105.95 565.2L107.79 563.09L109.68 560.97L111.62 558.83L113.59 556.69L115.61 554.54L117.67 552.39L119.77 550.24L121.9 548.1L124.08 545.96L126.29 543.84L128.54 541.72L130.82 539.63L133.14 537.55L135.48 535.5L137.87 533.48L140.28 531.49L142.72 529.53L145.2 527.61L147.7 525.72L150.23 523.88L152.78 522.09L155.36 520.35L157.97 518.65L160.6 517.02L163.26 515.44L165.93 513.93L168.63 512.48L171.35 511.1L174.38 509.64L177.46 508.25L180.58 506.91L183.73 505.62L186.92 504.39L190.14 503.21L193.39 502.08L196.66 501.01L199.95 499.99L203.27 499.01L206.6 498.08L209.94 497.2L213.3 496.37L216.67 495.58L220.04 494.83L223.41 494.13L226.79 493.47L230.17 492.84L233.54 492.26L236.9 491.72L240.25 491.21Z"/>
<path d="M218.09 545.87L213.73 546.69L209.38 547.55L205.03 548.45L200.69 549.39L196.37 550.37L192.08 551.39L187.81 552.45L183.57 553.56L179.37 554.71L175.21 555.91L171.1 557.15L168.14 558.09L165.16 559.09L162.18 560.13L159.2 561.22L156.22 562.36L153.24 563.53L150.26 564.73L147.3 565.97L144.35 567.24L141.42 568.54L138.5 569.86L135.61 571.2L132.75 572.55L129.92 573.92L127.12 575.29L124.35 576.68L121.63 578.06L118.95 579.45L116.31 580.84L113.73 582.21L111.2 583.58L108.72 584.94L106.31 586.28L103.96 587.6L101.67 588.89L99.46 590.16L99.79 590.74L102 589.47L104.29 588.18L106.63 586.86L109.05 585.52L111.52 584.17L114.04 582.8L116.62 581.42L119.26 580.04L121.93 578.66L124.65 577.27L127.41 575.89L130.21 574.52L133.04 573.15L135.9 571.8L138.78 570.46L141.69 569.15L144.62 567.86L147.56 566.59L150.52 565.35L153.49 564.15L156.46 562.98L159.43 561.85L162.41 560.76L165.38 559.72L168.35 558.73L171.3 557.79L175.4 556.54L179.55 555.35L183.74 554.2L187.97 553.1L192.23 552.04L196.52 551.02L200.84 550.04L205.17 549.11L209.51 548.21L213.86 547.35L218.21 546.53Z"/>
<path d="M248.96 589.09L244.88 589.47L240.76 589.85L236.61 590.23L232.43 590.62L228.22 591.01L223.99 591.4L219.74 591.79L215.47 592.18L211.2 592.58L206.92 592.97L202.64 593.37L198.36 593.76L194.09 594.16L189.83 594.55L185.59 594.94L181.36 595.33L177.16 595.72L172.98 596.11L168.83 596.49L164.72 596.87L160.65 597.24L156.63 597.62L152.65 597.98L148.72 598.34L144.85 598.7L141.04 599.05L137.29 599.4L133.62 599.74L130.01 600.07L130.07 600.73L133.68 600.4L137.35 600.06L141.1 599.72L144.91 599.37L148.78 599.01L152.71 598.65L156.69 598.28L160.72 597.91L164.79 597.53L168.9 597.15L173.04 596.77L177.22 596.38L181.42 596L185.65 595.61L189.89 595.21L194.15 594.82L198.43 594.43L202.7 594.03L206.98 593.64L211.26 593.24L215.54 592.85L219.8 592.45L224.05 592.06L228.28 591.67L232.49 591.28L236.67 590.9L240.82 590.51L244.94 590.13L249.02 589.76Z"/>
<path d="M252.96 620.63L248.94 620.28L244.87 619.92L240.76 619.56L236.62 619.2L232.45 618.84L228.25 618.47L224.03 618.1L219.79 617.74L215.54 617.36L211.28 616.99L207.01 616.62L202.74 616.25L198.48 615.88L194.22 615.51L189.97 615.14L185.73 614.77L181.51 614.4L177.32 614.03L173.15 613.67L169.02 613.31L164.92 612.95L160.86 612.6L156.84 612.25L152.87 611.9L148.95 611.56L145.08 611.23L141.28 610.89L137.54 610.57L133.87 610.25L130.27 609.93L130.21 610.6L133.81 610.91L137.48 611.23L141.22 611.56L145.03 611.89L148.89 612.23L152.81 612.57L156.78 612.91L160.8 613.26L164.86 613.62L168.96 613.98L173.1 614.34L177.26 614.7L181.46 615.06L185.67 615.43L189.91 615.8L194.16 616.17L198.42 616.54L202.69 616.91L206.95 617.29L211.22 617.66L215.48 618.03L219.74 618.4L223.97 618.77L228.19 619.14L232.39 619.5L236.56 619.87L240.7 620.23L244.81 620.59L248.88 620.94L252.9 621.29Z"/>
<path d="M595.09 592.5L590.43 593.14L585.7 593.78L580.9 594.44L576.04 595.11L571.11 595.79L566.13 596.47L561.1 597.16L556.02 597.86L550.9 598.56L545.74 599.27L540.55 599.98L535.33 600.7L530.09 601.42L524.82 602.14L519.55 602.86L514.26 603.59L508.97 604.31L503.67 605.04L498.38 605.76L493.1 606.49L487.83 607.21L482.58 607.93L477.35 608.65L472.15 609.36L466.98 610.07L461.84 610.78L456.74 611.48L451.69 612.17L446.69 612.86L441.74 613.54L436.85 614.21L432.02 614.87L427.26 615.52L427.35 616.18L432.11 615.53L436.94 614.87L441.83 614.2L446.78 613.52L451.78 612.83L456.83 612.14L461.93 611.44L467.07 610.73L472.24 610.02L477.44 609.31L482.67 608.59L487.92 607.87L493.19 607.15L498.48 606.43L503.77 605.7L509.06 604.97L514.35 604.25L519.64 603.52L524.92 602.8L530.18 602.08L535.42 601.36L540.64 600.64L545.83 599.93L550.99 599.22L556.11 598.52L561.19 597.82L566.22 597.13L571.2 596.45L576.13 595.77L580.99 595.1L585.79 594.45L590.52 593.8L595.18 593.16Z"/>
<path d="M595.09 639.16L590.45 639.8L585.74 640.45L580.95 641.1L576.11 641.77L571.2 642.44L566.24 643.12L561.23 643.81L556.17 644.5L551.07 645.2L545.93 645.91L540.76 646.62L535.56 647.33L530.34 648.05L525.1 648.77L519.84 649.49L514.58 650.21L509.3 650.93L504.03 651.66L498.76 652.38L493.5 653.1L488.25 653.82L483.01 654.54L477.8 655.25L472.61 655.97L467.46 656.67L462.34 657.38L457.25 658.07L452.21 658.77L447.22 659.45L442.29 660.13L437.41 660.8L432.59 661.46L427.83 662.11L427.93 662.77L432.68 662.12L437.5 661.46L442.38 660.79L447.31 660.11L452.3 659.43L457.34 658.73L462.43 658.04L467.55 657.33L472.7 656.63L477.89 655.92L483.1 655.2L488.34 654.48L493.59 653.76L498.85 653.04L504.12 652.32L509.4 651.59L514.67 650.87L519.93 650.15L525.19 649.43L530.43 648.71L535.66 647.99L540.85 647.28L546.02 646.57L551.16 645.86L556.26 645.16L561.32 644.47L566.33 643.78L571.29 643.1L576.2 642.43L581.04 641.76L585.83 641.11L590.54 640.46L595.18 639.82Z"/>
<path d="M248.84 718.52L245.45 718.06L242.04 717.57L238.61 717.04L235.18 716.47L231.73 715.87L228.27 715.23L224.81 714.54L221.35 713.81L217.89 713.04L214.44 712.23L210.99 711.37L207.56 710.47L204.14 709.52L200.73 708.52L197.35 707.47L193.99 706.37L190.65 705.22L187.35 704.02L184.07 702.76L180.83 701.45L177.63 700.08L174.47 698.65L171.35 697.17L168.66 695.82L165.99 694.4L163.35 692.92L160.72 691.38L158.11 689.78L155.53 688.13L152.96 686.43L150.43 684.68L147.91 682.88L145.43 681.05L142.97 679.18L140.54 677.27L138.13 675.33L135.76 673.36L133.42 671.37L131.11 669.35L128.83 667.31L126.58 665.26L124.37 663.19L122.2 661.12L120.06 659.03L117.96 656.95L115.9 654.86L113.88 652.77L111.9 650.69L109.96 648.62L108.06 646.56L106.21 644.51L104.4 642.48L102.63 640.47L100.91 638.49L99.24 636.53L97.62 634.61L96.05 632.71L94.52 630.85L93.05 629.04L91.63 627.26L90.26 625.53L88.95 623.85L87.69 622.22L87.16 622.63L88.42 624.26L89.74 625.94L91.11 627.68L92.53 629.45L94.01 631.28L95.53 633.14L97.11 635.03L98.74 636.96L100.41 638.92L102.13 640.91L103.9 642.92L105.71 644.95L107.57 647.01L109.47 649.07L111.41 651.15L113.4 653.23L115.42 655.32L117.49 657.42L119.59 659.51L121.74 661.6L123.92 663.68L126.13 665.75L128.38 667.81L130.66 669.85L132.98 671.87L135.33 673.87L137.71 675.85L140.12 677.79L142.56 679.7L145.03 681.58L147.52 683.42L150.04 685.22L152.59 686.98L155.16 688.69L157.76 690.34L160.38 691.95L163.01 693.5L165.67 694.98L168.35 696.41L171.05 697.77L174.19 699.26L177.36 700.69L180.57 702.06L183.83 703.38L187.11 704.64L190.43 705.85L193.78 707L197.15 708.11L200.54 709.16L203.96 710.16L207.38 711.11L210.83 712.02L214.28 712.88L217.74 713.69L221.21 714.47L224.68 715.19L228.15 715.88L231.61 716.53L235.06 717.13L238.51 717.7L241.94 718.23L245.36 718.72L248.76 719.18Z"/>
<path d="M595.18 756.44L590.54 755.81L585.83 755.16L581.04 754.5L576.2 753.84L571.29 753.17L566.33 752.48L561.32 751.8L556.26 751.1L551.16 750.4L546.02 749.7L540.85 748.99L535.66 748.28L530.43 747.56L525.19 746.84L519.93 746.12L514.67 745.4L509.4 744.67L504.12 743.95L498.85 743.23L493.59 742.5L488.34 741.78L483.1 741.07L477.89 740.35L472.7 739.64L467.55 738.93L462.43 738.23L457.34 737.53L452.3 736.84L447.31 736.16L442.38 735.48L437.5 734.81L432.68 734.15L427.93 733.5L427.83 734.16L432.59 734.81L437.41 735.47L442.29 736.14L447.22 736.82L452.21 737.5L457.25 738.19L462.34 738.89L467.46 739.59L472.61 740.3L477.8 741.01L483.01 741.73L488.25 742.44L493.5 743.17L498.76 743.89L504.03 744.61L509.3 745.33L514.58 746.06L519.84 746.78L525.1 747.5L530.34 748.22L535.56 748.94L540.76 749.65L545.93 750.36L551.07 751.06L556.17 751.76L561.23 752.46L566.24 753.14L571.2 753.83L576.11 754.5L580.95 755.16L585.74 755.82L590.45 756.47L595.09 757.1Z"/>
<path d="M207.14 759.69L204.23 758.78L201.35 757.81L198.48 756.8L195.64 755.74L192.82 754.63L190.03 753.47L187.26 752.26L184.52 751L181.82 749.68L179.15 748.31L176.52 746.88L173.93 745.39L171.38 743.85L168.74 742.17L166.15 740.43L163.59 738.62L161.06 736.75L158.57 734.81L156.12 732.83L153.7 730.79L151.33 728.7L148.98 726.56L146.68 724.37L144.41 722.14L142.17 719.87L139.97 717.56L137.81 715.21L135.69 712.83L133.6 710.42L131.55 707.98L129.53 705.52L127.55 703.03L125.61 700.52L123.71 698L121.84 695.45L120.01 692.9L118.21 690.33L116.45 687.76L114.73 685.18L113.05 682.6L111.4 680.02L109.79 677.45L108.21 674.87L106.67 672.31L105.17 669.75L103.71 667.21L102.28 664.68L100.89 662.17L99.54 659.68L98.22 657.22L96.94 654.78L95.7 652.37L94.49 649.99L93.32 647.64L92.19 645.33L91.1 643.05L90.04 640.82L89.02 638.63L88.03 636.49L87.09 634.39L86.18 632.35L85.31 630.36L84.47 628.43L83.67 626.55L82.91 624.74L82.19 622.99L81.57 623.25L82.3 625L83.06 626.81L83.86 628.69L84.69 630.63L85.57 632.62L86.48 634.67L87.43 636.76L88.41 638.91L89.44 641.1L90.49 643.34L91.59 645.62L92.72 647.93L93.9 650.29L95.1 652.67L96.35 655.09L97.63 657.53L98.95 660L100.31 662.49L101.7 665.01L103.13 667.54L104.6 670.09L106.1 672.65L107.64 675.22L109.22 677.8L110.83 680.38L112.49 682.97L114.17 685.55L115.9 688.14L117.66 690.71L119.46 693.29L121.3 695.85L123.17 698.39L125.08 700.93L127.03 703.44L129.01 705.94L131.04 708.41L133.09 710.85L135.19 713.27L137.32 715.66L139.49 718.01L141.69 720.33L143.93 722.61L146.21 724.85L148.53 727.04L150.88 729.19L153.27 731.29L155.7 733.34L158.16 735.34L160.66 737.28L163.19 739.16L165.77 740.97L168.38 742.73L171.02 744.42L173.59 745.97L176.2 747.46L178.84 748.89L181.52 750.27L184.24 751.6L186.99 752.87L189.76 754.09L192.57 755.25L195.4 756.37L198.26 757.43L201.13 758.44L204.03 759.41L206.94 760.33Z"/>
<path d="M595.18 803.11L590.54 802.47L585.83 801.83L581.04 801.17L576.2 800.51L571.29 799.83L566.33 799.15L561.32 798.46L556.26 797.77L551.16 797.07L546.02 796.36L540.85 795.66L535.66 794.94L530.43 794.23L525.19 793.51L519.93 792.79L514.67 792.06L509.4 791.34L504.12 790.62L498.85 789.89L493.59 789.17L488.34 788.45L483.1 787.73L477.89 787.02L472.7 786.31L467.55 785.6L462.43 784.9L457.34 784.2L452.3 783.51L447.31 782.82L442.38 782.15L437.5 781.48L432.68 780.82L427.93 780.16L427.83 780.82L432.59 781.48L437.41 782.14L442.29 782.81L447.22 783.48L452.21 784.17L457.25 784.86L462.34 785.56L467.46 786.26L472.61 786.97L477.8 787.68L483.01 788.39L488.25 789.11L493.5 789.83L498.76 790.55L504.03 791.28L509.3 792L514.58 792.72L519.84 793.45L525.1 794.17L530.34 794.89L535.56 795.6L540.76 796.32L545.93 797.03L551.07 797.73L556.17 798.43L561.23 799.12L566.24 799.81L571.2 800.49L576.11 801.17L580.95 801.83L585.74 802.49L590.45 803.13L595.09 803.77Z"/>
<path d="M582.53 849.73L579.45 848.84L576.39 847.89L573.34 846.9L570.32 845.86L567.32 844.78L564.34 843.64L561.4 842.45L558.5 841.21L555.63 839.92L552.8 838.57L550.02 837.17L548.48 836.35L547.01 835.51L545.62 834.66L544.29 833.79L543.02 832.91L541.81 832.03L540.66 831.13L539.57 830.22L538.53 829.3L537.53 828.37L536.58 827.43L535.67 826.48L534.8 825.53L533.96 824.57L533.16 823.6L532.39 822.63L531.64 821.65L530.92 820.67L530.22 819.69L529.53 818.7L528.86 817.7L528.21 816.71L527.56 815.71L526.91 814.71L526.27 813.71L525.62 812.71L524.98 811.72L524.32 810.72L523.66 809.72L522.98 808.73L522.28 807.74L521.57 806.76L520.84 805.78L520.08 804.8L519.29 803.84L518.47 802.87L517.61 801.92L516.72 800.97L515.79 800.03L514.81 799.11L513.79 798.19L512.72 797.28L511.6 796.39L510.42 795.5L509.18 794.63L507.88 793.78L506.52 792.93L505.09 792.11L503.59 791.3L502.01 790.5L498.94 789.04L495.83 787.64L492.67 786.3L489.48 785.01L486.26 783.77L483.01 782.59L479.73 781.46L476.42 780.39L473.1 779.36L472.9 780L476.22 781.02L479.52 782.1L482.79 783.22L486.03 784.4L489.24 785.63L492.42 786.91L495.56 788.25L498.66 789.65L501.72 791.1L503.28 791.89L504.76 792.69L506.18 793.51L507.52 794.34L508.81 795.18L510.03 796.04L511.19 796.91L512.3 797.8L513.35 798.69L514.36 799.6L515.32 800.51L516.24 801.44L517.12 802.37L517.97 803.31L518.78 804.26L519.56 805.22L520.31 806.18L521.04 807.15L521.74 808.13L522.43 809.11L523.1 810.1L523.76 811.09L524.42 812.08L525.06 813.08L525.71 814.07L526.35 815.07L527 816.07L527.65 817.07L528.31 818.07L528.98 819.07L529.67 820.07L530.38 821.06L531.11 822.05L531.86 823.04L532.64 824.03L533.46 825L534.3 825.97L535.18 826.94L536.1 827.9L537.07 828.85L538.08 829.79L539.14 830.72L540.25 831.64L541.41 832.56L542.63 833.46L543.92 834.34L545.26 835.22L546.67 836.08L548.16 836.93L549.71 837.76L552.51 839.17L555.35 840.52L558.23 841.82L561.15 843.07L564.1 844.26L567.09 845.4L570.1 846.49L573.13 847.53L576.19 848.53L579.26 849.47L582.35 850.37Z"/>
<path d="M271.74 818.4L269.08 818.3L266.39 818.18L263.68 818.04L260.95 817.86L258.19 817.66L255.42 817.43L252.63 817.18L249.83 816.89L247.02 816.57L244.2 816.21L241.37 815.83L238.53 815.41L235.69 814.95L232.85 814.45L230.01 813.92L227.17 813.35L224.33 812.74L221.5 812.09L218.68 811.4L215.86 810.66L213.06 809.88L210.27 809.05L207.5 808.18L204.74 807.26L202.01 806.29L199.29 805.27L196.6 804.21L193.93 803.09L191.3 801.92L188.69 800.69L186.11 799.41L183.56 798.08L181.05 796.68L178.58 795.23L176.14 793.73L173.75 792.16L171.39 790.53L168.74 788.59L166.13 786.59L163.57 784.53L161.06 782.4L158.59 780.23L156.16 777.99L153.77 775.71L151.44 773.37L149.14 770.98L146.89 768.55L144.67 766.08L142.51 763.56L140.38 761L138.3 758.4L136.25 755.77L134.25 753.1L132.29 750.4L130.37 747.67L128.48 744.91L126.64 742.13L124.84 739.32L123.07 736.49L121.35 733.64L119.66 730.78L118.01 727.9L116.4 725L114.83 722.09L113.29 719.18L111.79 716.26L110.32 713.33L108.9 710.4L107.5 707.47L106.14 704.54L104.82 701.61L103.53 698.69L102.28 695.77L101.06 692.87L99.87 689.98L98.72 687.1L97.59 684.23L96.51 681.39L95.45 678.56L94.42 675.76L93.43 672.98L92.47 670.23L91.54 667.5L90.64 664.81L89.76 662.14L88.92 659.52L88.11 656.93L87.33 654.37L86.57 651.86L85.85 649.39L85.15 646.97L84.48 644.59L83.83 642.26L83.22 639.99L82.63 637.76L82.07 635.59L81.53 633.48L81.02 631.43L80.53 629.44L80.07 627.51L79.63 625.65L79.22 623.86L78.57 624.01L78.98 625.8L79.42 627.67L79.88 629.6L80.37 631.59L80.88 633.64L81.42 635.76L81.98 637.93L82.57 640.16L83.19 642.44L83.84 644.77L84.51 647.15L85.21 649.58L85.93 652.05L86.69 654.57L87.47 657.12L88.29 659.72L89.13 662.35L90 665.02L90.91 667.72L91.84 670.44L92.8 673.2L93.8 675.99L94.82 678.79L95.88 681.62L96.97 684.48L98.1 687.34L99.25 690.23L100.44 693.13L101.66 696.04L102.92 698.95L104.21 701.88L105.54 704.81L106.9 707.75L108.3 710.69L109.73 713.62L111.19 716.56L112.7 719.49L114.24 722.41L115.82 725.32L117.43 728.22L119.09 731.11L120.78 733.98L122.51 736.84L124.28 739.68L126.08 742.49L127.93 745.28L129.82 748.05L131.74 750.79L133.71 753.5L135.72 756.17L137.77 758.81L139.86 761.42L142 763.99L144.17 766.52L146.39 769L148.65 771.44L150.96 773.84L153.31 776.18L155.7 778.48L158.14 780.72L160.62 782.91L163.15 785.04L165.72 787.11L168.34 789.12L171.01 791.07L173.37 792.71L175.78 794.29L178.23 795.81L180.72 797.26L183.24 798.66L185.8 800L188.4 801.29L191.02 802.52L193.67 803.7L196.35 804.82L199.05 805.9L201.78 806.92L204.53 807.89L207.29 808.81L210.08 809.69L212.88 810.52L215.69 811.3L218.51 812.04L221.34 812.74L224.18 813.39L227.03 814L229.88 814.58L232.73 815.11L235.58 815.61L238.43 816.06L241.27 816.49L244.11 816.87L246.94 817.23L249.76 817.55L252.57 817.84L255.36 818.1L258.14 818.33L260.9 818.53L263.64 818.7L266.36 818.85L269.05 818.97L271.72 819.07Z"/>
<path d="M273.01 866.08L270.43 866.03L267.83 865.95L265.21 865.85L262.57 865.72L259.91 865.57L257.23 865.39L254.54 865.18L251.83 864.94L249.11 864.67L246.39 864.37L243.65 864.04L240.91 863.67L238.17 863.27L235.42 862.83L232.68 862.36L229.93 861.84L227.19 861.29L224.45 860.7L221.72 860.07L219 859.39L216.29 858.68L213.59 857.91L210.91 857.11L208.24 856.25L205.59 855.35L202.96 854.4L200.35 853.41L197.77 852.36L195.21 851.26L192.68 850.1L190.17 848.9L187.7 847.64L185.26 846.32L182.85 844.95L180.49 843.52L178.15 842.03L175.86 840.48L173.61 838.87L171.4 837.2L168.71 835.06L166.07 832.85L163.48 830.59L160.94 828.27L158.45 825.9L156 823.48L153.61 821L151.26 818.48L148.96 815.91L146.7 813.29L144.49 810.64L142.33 807.94L140.21 805.2L138.14 802.42L136.11 799.6L134.12 796.75L132.18 793.87L130.28 790.95L128.43 788.01L126.61 785.03L124.84 782.03L123.11 779.01L121.41 775.96L119.76 772.89L118.15 769.8L116.58 766.69L115.04 763.57L113.55 760.43L112.09 757.28L110.67 754.11L109.28 750.94L107.93 747.76L106.62 744.57L105.34 741.38L104.1 738.19L102.89 734.99L101.72 731.79L100.58 728.6L99.47 725.41L98.4 722.23L97.35 719.06L96.34 715.89L95.36 712.73L94.41 709.59L93.49 706.46L92.6 703.35L91.74 700.25L90.91 697.18L90.11 694.12L89.33 691.09L88.59 688.08L87.86 685.1L87.17 682.14L86.5 679.22L85.86 676.32L85.24 673.46L84.65 670.64L84.08 667.85L83.53 665.1L83.01 662.38L82.5 659.71L82.03 657.08L81.57 654.5L81.13 651.96L80.72 649.48L80.32 647.04L79.95 644.65L79.59 642.32L79.26 640.04L78.94 637.82L78.64 635.65L78.36 633.55L78.09 631.51L77.84 629.53L77.61 627.61L77.39 625.77L77.18 623.99L76.52 624.06L76.73 625.84L76.94 627.69L77.18 629.61L77.43 631.59L77.69 633.64L77.98 635.74L78.28 637.91L78.6 640.13L78.93 642.42L79.29 644.75L79.67 647.14L80.06 649.58L80.48 652.08L80.91 654.62L81.37 657.2L81.85 659.83L82.35 662.51L82.87 665.22L83.42 667.98L83.99 670.77L84.59 673.6L85.21 676.47L85.85 679.37L86.52 682.29L87.22 685.25L87.94 688.24L88.69 691.25L89.46 694.29L90.27 697.35L91.1 700.43L91.96 703.53L92.85 706.65L93.77 709.78L94.73 712.93L95.71 716.09L96.72 719.26L97.76 722.44L98.84 725.63L99.95 728.82L101.09 732.02L102.27 735.22L103.48 738.42L104.72 741.62L106 744.82L107.32 748.02L108.67 751.2L110.06 754.38L111.48 757.55L112.94 760.71L114.44 763.86L115.98 766.99L117.56 770.1L119.17 773.2L120.83 776.28L122.52 779.33L124.26 782.37L126.04 785.38L127.86 788.36L129.72 791.31L131.63 794.24L133.57 797.13L135.57 799.99L137.6 802.81L139.68 805.6L141.81 808.35L143.98 811.06L146.19 813.73L148.46 816.35L150.77 818.93L153.12 821.46L155.53 823.94L157.98 826.38L160.49 828.76L163.04 831.09L165.64 833.36L168.29 835.57L171 837.73L173.22 839.41L175.48 841.03L177.79 842.59L180.13 844.09L182.52 845.53L184.94 846.91L187.39 848.23L189.88 849.5L192.39 850.71L194.94 851.87L197.51 852.97L200.11 854.03L202.73 855.03L205.37 855.98L208.03 856.89L210.71 857.74L213.41 858.55L216.11 859.32L218.84 860.04L221.57 860.72L224.31 861.35L227.05 861.95L229.8 862.5L232.56 863.01L235.31 863.49L238.07 863.93L240.82 864.33L243.57 864.7L246.31 865.03L249.04 865.34L251.77 865.61L254.48 865.84L257.18 866.05L259.87 866.24L262.53 866.39L265.18 866.52L267.81 866.62L270.41 866.69L272.99 866.75Z"/>
<path d="M228.88 909.18L226.28 908.64L223.68 908.07L221.09 907.46L218.51 906.8L215.94 906.11L213.39 905.37L210.85 904.59L208.32 903.77L205.81 902.9L203.32 901.99L200.86 901.03L198.41 900.02L195.99 898.96L193.6 897.86L191.23 896.7L188.89 895.49L186.58 894.23L184.3 892.92L182.06 891.55L179.85 890.13L177.68 888.65L175.55 887.12L173.46 885.53L171.41 883.88L168.65 881.54L165.95 879.15L163.3 876.7L160.7 874.2L158.15 871.65L155.65 869.05L153.21 866.41L150.81 863.71L148.46 860.97L146.17 858.19L143.92 855.36L141.71 852.49L139.56 849.59L137.46 846.64L135.4 843.66L133.38 840.64L131.41 837.59L129.49 834.51L127.61 831.39L125.78 828.25L123.98 825.08L122.24 821.88L120.53 818.65L118.86 815.41L117.24 812.14L115.66 808.85L114.12 805.54L112.62 802.21L111.15 798.86L109.73 795.5L108.34 792.13L106.99 788.74L105.68 785.35L104.41 781.94L103.17 778.53L101.97 775.1L100.8 771.68L99.67 768.25L98.57 764.82L97.51 761.39L96.48 757.96L95.48 754.53L94.51 751.1L93.58 747.68L92.67 744.27L91.8 740.86L90.95 737.47L90.14 734.08L89.35 730.71L88.6 727.35L87.87 724L87.17 720.68L86.49 717.37L85.84 714.08L85.22 710.81L84.62 707.56L84.05 704.34L83.5 701.14L82.98 697.97L82.48 694.83L82 691.72L81.54 688.64L81.11 685.59L80.69 682.57L80.3 679.59L79.93 676.65L79.57 673.75L79.24 670.88L78.92 668.06L78.63 665.28L78.35 662.54L78.08 659.85L77.84 657.21L77.6 654.61L77.39 652.07L77.19 649.57L77 647.13L76.83 644.74L76.67 642.41L76.53 640.13L76.39 637.92L76.27 635.76L76.16 633.67L76.06 631.63L75.97 629.67L75.89 627.76L75.82 625.93L75.76 624.16L75.09 624.18L75.16 625.95L75.23 627.79L75.31 629.69L75.4 631.67L75.5 633.7L75.61 635.8L75.73 637.96L75.86 640.18L76.01 642.45L76.17 644.79L76.34 647.18L76.52 649.62L76.73 652.12L76.94 654.67L77.17 657.27L77.42 659.91L77.68 662.61L77.96 665.35L78.26 668.13L78.58 670.96L78.91 673.83L79.26 676.73L79.64 679.68L80.03 682.66L80.45 685.68L80.88 688.73L81.34 691.82L81.82 694.93L82.32 698.08L82.84 701.25L83.39 704.46L83.97 707.68L84.56 710.93L85.19 714.21L85.84 717.5L86.51 720.81L87.22 724.14L87.95 727.49L88.7 730.86L89.49 734.23L90.31 737.62L91.15 741.03L92.03 744.44L92.93 747.85L93.87 751.28L94.84 754.71L95.84 758.15L96.87 761.58L97.94 765.02L99.04 768.46L100.17 771.89L101.34 775.32L102.54 778.75L103.78 782.17L105.06 785.58L106.37 788.99L107.72 792.38L109.11 795.76L110.54 799.13L112.01 802.48L113.51 805.81L115.06 809.13L116.64 812.43L118.27 815.71L119.94 818.96L121.65 822.19L123.4 825.4L125.2 828.58L127.04 831.73L128.92 834.86L130.85 837.95L132.82 841.01L134.84 844.03L136.91 847.03L139.02 849.98L141.18 852.9L143.39 855.77L145.65 858.61L147.95 861.4L150.31 864.15L152.71 866.85L155.17 869.51L157.67 872.12L160.23 874.68L162.84 877.19L165.5 879.64L168.22 882.04L170.99 884.39L173.05 886.05L175.16 887.66L177.3 889.2L179.49 890.69L181.71 892.12L183.96 893.49L186.25 894.81L188.58 896.08L190.93 897.3L193.31 898.46L195.72 899.57L198.15 900.63L200.61 901.64L203.09 902.61L205.59 903.53L208.11 904.4L210.64 905.23L213.2 906.01L215.76 906.75L218.34 907.45L220.93 908.1L223.53 908.72L226.14 909.3L228.75 909.83Z"/>
<path d="M187.55 943.08L185.42 941.86L183.31 940.59L181.24 939.27L179.21 937.9L177.21 936.48L175.24 935L173.31 933.47L171.42 931.88L168.55 929.36L165.74 926.79L162.99 924.16L160.29 921.48L157.64 918.75L155.05 915.98L152.51 913.15L150.03 910.28L147.6 907.37L145.22 904.41L142.89 901.41L140.61 898.36L138.38 895.28L136.2 892.16L134.07 889.01L131.99 885.81L129.96 882.59L127.97 879.33L126.03 876.03L124.14 872.71L122.29 869.36L120.49 865.97L118.73 862.57L117.02 859.13L115.35 855.68L113.73 852.19L112.14 848.69L110.6 845.17L109.1 841.63L107.64 838.07L106.22 834.49L104.85 830.9L103.51 827.29L102.2 823.67L100.94 820.04L99.72 816.4L98.53 812.75L97.38 809.09L96.26 805.43L95.18 801.76L94.14 798.09L93.13 794.41L92.15 790.74L91.21 787.06L90.3 783.38L89.42 779.71L88.57 776.04L87.76 772.38L86.97 768.72L86.22 765.08L85.49 761.44L84.8 757.81L84.13 754.19L83.49 750.58L82.88 746.99L82.29 743.42L81.73 739.86L81.2 736.32L80.69 732.8L80.21 729.3L79.75 725.82L79.31 722.37L78.9 718.93L78.5 715.53L78.13 712.15L77.79 708.8L77.46 705.48L77.15 702.19L76.87 698.94L76.6 695.71L76.35 692.52L76.12 689.37L75.9 686.26L75.7 683.18L75.52 680.14L75.36 677.15L75.21 674.19L75.07 671.29L74.95 668.42L74.85 665.6L74.75 662.83L74.67 660.11L74.6 657.44L74.55 654.82L74.5 652.25L74.46 649.74L74.44 647.28L74.42 644.88L74.41 642.54L74.41 640.25L74.42 638.03L74.43 635.87L74.45 633.77L74.48 631.73L74.51 629.76L74.55 627.86L74.59 626.03L74.64 624.26L73.97 624.24L73.93 626.01L73.89 627.85L73.85 629.75L73.81 631.72L73.79 633.76L73.77 635.86L73.75 638.03L73.74 640.25L73.74 642.54L73.75 644.88L73.77 647.29L73.8 649.75L73.83 652.26L73.88 654.83L73.94 657.46L74.01 660.13L74.09 662.85L74.18 665.63L74.29 668.45L74.41 671.31L74.54 674.23L74.69 677.18L74.86 680.18L75.04 683.22L75.24 686.3L75.45 689.42L75.68 692.57L75.93 695.77L76.2 698.99L76.49 702.25L76.8 705.55L77.12 708.87L77.47 712.22L77.84 715.6L78.23 719.01L78.65 722.45L79.08 725.91L79.55 729.39L80.03 732.89L80.54 736.42L81.07 739.96L81.63 743.52L82.22 747.1L82.83 750.7L83.47 754.31L84.14 757.93L84.84 761.56L85.57 765.21L86.32 768.86L87.11 772.52L87.92 776.19L88.77 779.86L89.65 783.54L90.56 787.22L91.51 790.9L92.49 794.59L93.5 798.27L94.54 801.94L95.62 805.62L96.74 809.29L97.89 812.95L99.08 816.61L100.31 820.26L101.58 823.89L102.88 827.52L104.22 831.13L105.6 834.73L107.02 838.31L108.49 841.88L109.99 845.43L111.53 848.96L113.12 852.47L114.75 855.96L116.42 859.43L118.14 862.87L119.9 866.28L121.71 869.67L123.56 873.03L125.45 876.37L127.4 879.67L129.39 882.94L131.43 886.17L133.52 889.37L135.65 892.54L137.84 895.67L140.07 898.76L142.36 901.81L144.69 904.82L147.08 907.79L149.52 910.71L152.01 913.59L154.56 916.43L157.16 919.21L159.81 921.95L162.52 924.64L165.29 927.27L168.11 929.86L170.98 932.39L172.89 933.98L174.83 935.53L176.81 937.01L178.83 938.45L180.88 939.83L182.96 941.16L185.08 942.44L187.22 943.66Z"/>
<path d="M189.97 991.41L187.77 990.2L185.6 988.93L183.47 987.62L181.36 986.25L179.3 984.82L177.27 983.34L175.28 981.8L173.33 980.2L171.42 978.55L170.07 977.3L168.72 975.97L167.39 974.57L166.06 973.08L164.74 971.53L163.43 969.9L162.13 968.2L160.84 966.43L159.56 964.59L158.29 962.68L157.03 960.7L155.78 958.66L154.53 956.56L153.3 954.39L152.08 952.16L150.86 949.87L149.66 947.52L148.46 945.11L147.28 942.65L146.1 940.13L144.93 937.55L143.78 934.92L142.63 932.24L141.49 929.52L140.36 926.74L139.25 923.91L138.14 921.04L137.04 918.12L135.95 915.16L134.87 912.15L133.8 909.1L132.74 906.02L131.69 902.89L130.65 899.73L129.62 896.52L128.59 893.29L127.58 890.02L126.58 886.71L125.59 883.38L124.61 880.01L123.63 876.62L122.67 873.2L121.72 869.75L120.77 866.28L119.84 862.78L118.91 859.26L118 855.71L117.09 852.15L116.2 848.57L115.31 844.97L114.44 841.35L113.57 837.72L112.71 834.08L111.87 830.42L111.03 826.75L110.2 823.07L109.39 819.38L108.58 815.68L107.78 811.98L106.99 808.27L106.21 804.56L105.45 800.85L104.69 797.13L103.94 793.41L103.2 789.7L102.47 785.98L101.75 782.27L101.04 778.57L100.34 774.87L99.65 771.17L98.97 767.49L98.29 763.82L97.63 760.15L96.98 756.5L96.34 752.87L95.71 749.24L95.08 745.64L94.47 742.05L93.87 738.48L93.27 734.93L92.69 731.4L92.12 727.89L91.55 724.41L91 720.95L90.45 717.51L89.92 714.11L89.39 710.73L88.88 707.38L88.37 704.07L87.88 700.78L87.39 697.53L86.92 694.32L86.45 691.14L85.99 688L85.55 684.89L85.11 681.83L84.68 678.81L84.26 675.82L83.86 672.89L83.46 670L83.07 667.15L82.69 664.35L82.32 661.6L81.96 658.9L81.61 656.25L81.27 653.65L80.94 651.11L80.62 648.62L80.31 646.19L80.01 643.82L79.72 641.5L79.44 639.24L79.17 637.05L78.91 634.91L78.66 632.84L78.41 630.84L78.18 628.9L77.96 627.03L77.75 625.23L77.54 623.49L76.88 623.57L77.09 625.31L77.3 627.11L77.52 628.98L77.75 630.92L77.99 632.92L78.25 634.99L78.51 637.13L78.78 639.32L79.06 641.58L79.35 643.9L79.65 646.27L79.96 648.71L80.28 651.2L80.61 653.74L80.95 656.34L81.3 658.99L81.66 661.69L82.03 664.44L82.41 667.24L82.8 670.09L83.2 672.98L83.6 675.92L84.02 678.9L84.45 681.92L84.89 684.99L85.33 688.09L85.79 691.23L86.26 694.41L86.73 697.63L87.22 700.88L87.72 704.17L88.22 707.48L88.74 710.83L89.26 714.21L89.8 717.62L90.34 721.05L90.9 724.51L91.46 728L92.03 731.51L92.62 735.04L93.21 738.59L93.81 742.16L94.43 745.75L95.05 749.36L95.68 752.98L96.32 756.62L96.98 760.27L97.64 763.94L98.31 767.61L98.99 771.3L99.68 774.99L100.38 778.69L101.09 782.4L101.81 786.11L102.54 789.82L103.28 793.54L104.03 797.26L104.79 800.98L105.56 804.7L106.34 808.41L107.13 812.12L107.93 815.83L108.74 819.52L109.55 823.22L110.38 826.9L111.22 830.57L112.07 834.23L112.92 837.88L113.79 841.51L114.66 845.13L115.55 848.73L116.45 852.31L117.35 855.88L118.27 859.42L119.19 862.95L120.13 866.45L121.07 869.93L122.03 873.38L122.99 876.8L123.96 880.2L124.95 883.57L125.94 886.91L126.94 890.21L127.96 893.49L128.98 896.73L130.01 899.93L131.06 903.1L132.11 906.23L133.17 909.32L134.24 912.37L135.32 915.38L136.41 918.35L137.51 921.28L138.62 924.15L139.74 926.99L140.88 929.77L142.02 932.5L143.17 935.19L144.32 937.82L145.49 940.4L146.67 942.93L147.86 945.4L149.06 947.82L150.27 950.18L151.49 952.47L152.72 954.71L153.96 956.89L155.21 959.01L156.46 961.06L157.73 963.04L159.01 964.96L160.3 966.81L161.6 968.6L162.91 970.31L164.23 971.95L165.56 973.52L166.9 975.02L168.25 976.44L169.61 977.78L170.98 979.05L172.9 980.71L174.86 982.32L176.87 983.87L178.91 985.36L180.99 986.8L183.11 988.18L185.26 989.51L187.44 990.78L189.66 992Z"/>
<path d="M254.15 1054.69L251.63 1054.53L249.1 1054.34L246.57 1054.11L244.03 1053.86L241.48 1053.57L238.94 1053.25L236.39 1052.89L233.85 1052.51L231.31 1052.08L228.77 1051.62L226.24 1051.12L223.72 1050.58L221.2 1050L218.7 1049.38L216.21 1048.72L213.73 1048.02L211.27 1047.27L208.83 1046.48L206.4 1045.64L204 1044.75L201.62 1043.82L199.26 1042.84L196.92 1041.81L194.62 1040.73L192.34 1039.6L190.09 1038.41L187.87 1037.17L185.68 1035.88L183.53 1034.53L181.41 1033.13L179.33 1031.66L177.29 1030.14L175.3 1028.56L173.34 1026.92L171.43 1025.22L170.02 1023.89L168.63 1022.49L167.25 1021L165.88 1019.45L164.53 1017.82L163.18 1016.11L161.85 1014.34L160.52 1012.49L159.21 1010.58L157.91 1008.6L156.63 1006.55L155.35 1004.44L154.08 1002.26L152.83 1000.02L151.59 997.71L150.36 995.35L149.14 992.93L147.93 990.44L146.73 987.91L145.55 985.31L144.37 982.66L143.21 979.95L142.06 977.2L140.92 974.39L139.79 971.53L138.67 968.62L137.57 965.67L136.47 962.66L135.39 959.62L134.31 956.52L133.25 953.39L132.2 950.21L131.16 946.99L130.13 943.73L129.11 940.43L128.1 937.1L127.11 933.73L126.12 930.32L125.14 926.88L124.18 923.4L123.23 919.9L122.28 916.36L121.35 912.8L120.43 909.2L119.52 905.58L118.61 901.94L117.72 898.27L116.84 894.57L115.97 890.86L115.11 887.12L114.27 883.36L113.43 879.58L112.6 875.79L111.78 871.98L110.97 868.15L110.17 864.31L109.39 860.45L108.61 856.59L107.84 852.71L107.08 848.82L106.34 844.93L105.6 841.03L104.87 837.12L104.15 833.21L103.45 829.29L102.75 825.37L102.06 821.45L101.38 817.53L100.71 813.61L100.05 809.69L99.4 805.77L98.76 801.86L98.13 797.95L97.51 794.06L96.9 790.16L96.3 786.28L95.71 782.41L95.12 778.55L94.55 774.7L93.98 770.87L93.43 767.05L92.88 763.24L92.35 759.45L91.82 755.69L91.3 751.94L90.79 748.21L90.29 744.5L89.8 740.82L89.32 737.16L88.85 733.52L88.38 729.91L87.93 726.33L87.48 722.78L87.04 719.26L86.61 715.77L86.19 712.31L85.78 708.88L85.38 705.49L84.99 702.13L84.6 698.81L84.22 695.53L83.86 692.29L83.5 689.09L83.14 685.93L82.8 682.81L82.47 679.74L82.14 676.71L81.82 673.73L81.51 670.79L81.21 667.91L80.92 665.07L80.64 662.28L80.36 659.55L80.09 656.87L79.83 654.24L79.58 651.67L79.33 649.15L79.1 646.69L78.87 644.29L78.65 641.95L78.43 639.68L78.23 637.46L78.03 635.31L77.84 633.22L77.66 631.2L77.49 629.25L77.32 627.36L77.16 625.54L77.01 623.8L76.35 623.86L76.5 625.6L76.66 627.42L76.82 629.31L77 631.26L77.18 633.28L77.37 635.37L77.57 637.52L77.77 639.74L77.98 642.02L78.2 644.36L78.43 646.76L78.67 649.21L78.91 651.73L79.17 654.3L79.43 656.93L79.7 659.61L79.97 662.35L80.26 665.14L80.55 667.97L80.85 670.86L81.16 673.8L81.48 676.78L81.8 679.81L82.14 682.88L82.48 686L82.83 689.16L83.19 692.37L83.56 695.61L83.94 698.89L84.32 702.21L84.72 705.57L85.12 708.96L85.53 712.39L85.95 715.85L86.38 719.34L86.82 722.86L87.27 726.41L87.72 730L88.19 733.61L88.66 737.24L89.14 740.9L89.63 744.59L90.13 748.3L90.64 752.03L91.16 755.78L91.69 759.55L92.22 763.34L92.77 767.14L93.33 770.96L93.89 774.8L94.46 778.65L95.05 782.51L95.64 786.38L96.24 790.27L96.85 794.16L97.47 798.06L98.1 801.97L98.74 805.88L99.39 809.8L100.05 813.72L100.72 817.64L101.4 821.56L102.09 825.48L102.79 829.41L103.5 833.32L104.22 837.24L104.94 841.15L105.68 845.05L106.43 848.95L107.19 852.84L107.96 856.72L108.73 860.59L109.52 864.44L110.32 868.29L111.13 872.11L111.95 875.93L112.78 879.73L113.61 883.5L114.46 887.27L115.32 891.01L116.19 894.73L117.08 898.42L117.97 902.1L118.87 905.75L119.78 909.37L120.7 912.97L121.64 916.53L122.58 920.07L123.54 923.58L124.5 927.06L125.48 930.5L126.47 933.91L127.46 937.29L128.47 940.63L129.49 943.93L130.52 947.19L131.57 950.42L132.62 953.6L133.68 956.74L134.76 959.84L135.84 962.89L136.94 965.9L138.05 968.86L139.17 971.77L140.3 974.64L141.44 977.45L142.6 980.21L143.76 982.93L144.94 985.58L146.13 988.19L147.33 990.73L148.54 993.22L149.76 995.65L151 998.03L152.25 1000.34L153.51 1002.59L154.78 1004.78L156.06 1006.9L157.35 1008.96L158.66 1010.95L159.98 1012.88L161.31 1014.73L162.65 1016.52L164.01 1018.24L165.38 1019.88L166.76 1021.45L168.15 1022.95L169.56 1024.37L170.97 1025.71L172.9 1027.43L174.87 1029.08L176.89 1030.67L178.94 1032.2L181.04 1033.68L183.17 1035.09L185.33 1036.45L187.53 1037.75L189.77 1039L192.03 1040.19L194.33 1041.33L196.65 1042.42L199 1043.45L201.37 1044.44L203.76 1045.38L206.18 1046.27L208.62 1047.11L211.07 1047.91L213.55 1048.66L216.03 1049.36L218.54 1050.03L221.05 1050.65L223.57 1051.23L226.11 1051.77L228.65 1052.27L231.19 1052.74L233.74 1053.16L236.3 1053.55L238.85 1053.91L241.4 1054.23L243.96 1054.52L246.51 1054.77L249.05 1055L251.59 1055.19L254.11 1055.36Z"/>
<path d="M225.88 1098.02L223.37 1097.48L220.86 1096.89L218.37 1096.27L215.89 1095.6L213.42 1094.89L210.97 1094.14L208.54 1093.34L206.12 1092.49L203.73 1091.6L201.36 1090.66L199.02 1089.67L196.7 1088.63L194.4 1087.54L192.14 1086.4L189.91 1085.2L187.7 1083.95L185.54 1082.65L183.4 1081.29L181.31 1079.87L179.25 1078.39L177.23 1076.86L175.25 1075.26L173.32 1073.61L171.43 1071.89L169.97 1070.48L168.53 1068.99L167.09 1067.43L165.68 1065.79L164.27 1064.08L162.88 1062.29L161.5 1060.44L160.14 1058.51L158.79 1056.51L157.45 1054.45L156.13 1052.32L154.82 1050.12L153.52 1047.86L152.24 1045.53L150.97 1043.14L149.71 1040.69L148.46 1038.18L147.23 1035.61L146.01 1032.98L144.8 1030.29L143.61 1027.55L142.43 1024.75L141.26 1021.9L140.11 1019L138.96 1016.04L137.83 1013.03L136.72 1009.98L135.61 1006.87L134.52 1003.72L133.44 1000.53L132.37 997.28L131.32 994L130.27 990.67L129.24 987.3L128.22 983.89L127.21 980.44L126.22 976.95L125.23 973.42L124.26 969.86L123.3 966.26L122.35 962.63L121.42 958.97L120.49 955.27L119.58 951.55L118.68 947.79L117.79 944.01L116.91 940.19L116.04 936.36L115.18 932.49L114.34 928.61L113.5 924.7L112.68 920.77L111.86 916.81L111.06 912.84L110.27 908.85L109.49 904.84L108.72 900.82L107.96 896.78L107.22 892.73L106.48 888.66L105.75 884.58L105.04 880.49L104.33 876.39L103.63 872.29L102.95 868.17L102.27 864.05L101.61 859.93L100.95 855.8L100.31 851.66L99.67 847.53L99.05 843.39L98.43 839.25L97.82 835.12L97.23 830.99L96.64 826.86L96.06 822.73L95.5 818.62L94.94 814.51L94.39 810.4L93.85 806.31L93.32 802.22L92.8 798.15L92.29 794.09L91.79 790.04L91.29 786.01L90.81 781.99L90.33 777.99L89.87 774.01L89.41 770.05L88.96 766.11L88.52 762.19L88.09 758.29L87.66 754.41L87.25 750.56L86.84 746.73L86.44 742.93L86.05 739.16L85.67 735.42L85.3 731.71L84.93 728.03L84.58 724.38L84.23 720.76L83.89 717.18L83.55 713.63L83.23 710.12L82.91 706.65L82.6 703.22L82.3 699.83L82 696.48L81.71 693.17L81.43 689.9L81.16 686.68L80.9 683.5L80.64 680.37L80.39 677.29L80.14 674.26L79.91 671.27L79.68 668.34L79.45 665.46L79.24 662.63L79.03 659.86L78.83 657.14L78.63 654.48L78.44 651.88L78.26 649.33L78.08 646.85L77.91 644.42L77.75 642.06L77.59 639.76L77.44 637.52L77.3 635.35L77.16 633.25L77.03 631.21L76.9 629.25L76.78 627.35L76.67 625.52L76.56 623.77L75.89 623.81L76 625.56L76.12 627.39L76.24 629.29L76.36 631.26L76.49 633.29L76.63 635.4L76.78 637.57L76.93 639.8L77.08 642.1L77.25 644.47L77.42 646.89L77.59 649.38L77.78 651.92L77.96 654.53L78.16 657.19L78.36 659.91L78.57 662.68L78.79 665.51L79.01 668.39L79.24 671.33L79.48 674.31L79.72 677.34L79.97 680.43L80.23 683.56L80.5 686.73L80.77 689.96L81.05 693.22L81.34 696.53L81.63 699.89L81.94 703.28L82.25 706.71L82.56 710.19L82.89 713.7L83.22 717.24L83.56 720.82L83.91 724.44L84.27 728.09L84.64 731.77L85.01 735.49L85.39 739.23L85.78 743L86.18 746.8L86.59 750.63L87 754.48L87.43 758.36L87.86 762.26L88.3 766.18L88.75 770.13L89.21 774.09L89.67 778.07L90.15 782.07L90.63 786.09L91.13 790.12L91.63 794.17L92.14 798.23L92.66 802.31L93.19 806.39L93.73 810.49L94.28 814.59L94.84 818.71L95.4 822.83L95.98 826.95L96.57 831.08L97.16 835.22L97.77 839.35L98.39 843.49L99.01 847.63L99.65 851.76L100.29 855.9L100.95 860.03L101.61 864.16L102.29 868.28L102.98 872.4L103.67 876.51L104.38 880.61L105.1 884.7L105.82 888.78L106.56 892.85L107.31 896.9L108.07 900.94L108.84 904.97L109.62 908.98L110.41 912.97L111.21 916.95L112.02 920.9L112.85 924.84L113.68 928.75L114.53 932.64L115.39 936.5L116.26 940.34L117.14 944.16L118.03 947.95L118.93 951.7L119.84 955.43L120.77 959.13L121.71 962.8L122.66 966.43L123.62 970.03L124.59 973.6L125.58 977.13L126.57 980.62L127.58 984.08L128.6 987.49L129.63 990.87L130.68 994.2L131.74 997.49L132.81 1000.74L133.89 1003.94L134.98 1007.1L136.09 1010.21L137.21 1013.27L138.34 1016.28L139.49 1019.24L140.64 1022.15L141.81 1025.01L143 1027.81L144.19 1030.56L145.4 1033.25L146.63 1035.89L147.86 1038.47L149.11 1040.99L150.37 1043.45L151.65 1045.85L152.94 1048.18L154.24 1050.45L155.56 1052.66L156.89 1054.8L158.23 1056.88L159.59 1058.89L160.96 1060.83L162.35 1062.7L163.75 1064.49L165.17 1066.22L166.6 1067.87L168.04 1069.45L169.5 1070.95L170.97 1072.38L172.88 1074.11L174.83 1075.78L176.82 1077.38L178.85 1078.93L180.93 1080.42L183.04 1081.85L185.19 1083.22L187.37 1084.53L189.58 1085.79L191.83 1086.99L194.11 1088.14L196.42 1089.24L198.75 1090.28L201.11 1091.28L203.49 1092.22L205.9 1093.12L208.32 1093.97L210.77 1094.77L213.23 1095.53L215.71 1096.24L218.2 1096.91L220.7 1097.54L223.22 1098.13L225.75 1098.67Z"/>
<path d="M233.75 1146.36L231.28 1145.96L228.83 1145.51L226.38 1145.03L223.93 1144.52L221.5 1143.96L219.08 1143.37L216.67 1142.73L214.27 1142.06L211.89 1141.34L209.52 1140.58L207.18 1139.78L204.85 1138.93L202.54 1138.03L200.26 1137.09L198 1136.11L195.76 1135.07L193.55 1133.99L191.37 1132.85L189.22 1131.67L187.1 1130.43L185.01 1129.14L182.96 1127.8L180.94 1126.4L178.96 1124.95L177.02 1123.44L175.11 1121.87L173.25 1120.24L171.43 1118.56L169.92 1117.08L168.43 1115.52L166.96 1113.88L165.49 1112.17L164.05 1110.39L162.62 1108.54L161.2 1106.61L159.8 1104.62L158.41 1102.55L157.04 1100.42L155.68 1098.22L154.34 1095.95L153.01 1093.62L151.69 1091.22L150.39 1088.76L149.11 1086.24L147.84 1083.66L146.58 1081.02L145.34 1078.32L144.11 1075.56L142.9 1072.75L141.7 1069.88L140.51 1066.95L139.34 1063.97L138.18 1060.94L137.04 1057.86L135.9 1054.73L134.79 1051.55L133.68 1048.32L132.59 1045.04L131.51 1041.72L130.45 1038.35L129.4 1034.94L128.36 1031.48L127.34 1027.98L126.32 1024.44L125.33 1020.86L124.34 1017.25L123.37 1013.59L122.4 1009.9L121.46 1006.17L120.52 1002.41L119.6 998.61L118.69 994.78L117.79 990.92L116.9 987.03L116.03 983.11L115.16 979.16L114.31 975.18L113.47 971.18L112.65 967.15L111.83 963.1L111.03 959.02L110.23 954.92L109.45 950.8L108.68 946.66L107.93 942.51L107.18 938.33L106.44 934.13L105.72 929.92L105.01 925.7L104.3 921.46L103.61 917.21L102.93 912.95L102.26 908.67L101.6 904.39L100.95 900.1L100.31 895.79L99.68 891.49L99.06 887.18L98.46 882.86L97.86 878.54L97.27 874.22L96.69 869.89L96.12 865.57L95.57 861.24L95.02 856.92L94.48 852.6L93.95 848.28L93.43 843.97L92.92 839.67L92.42 835.37L91.93 831.08L91.44 826.8L90.97 822.53L90.51 818.27L90.05 814.02L89.6 809.78L89.17 805.56L88.74 801.36L88.32 797.17L87.9 793L87.5 788.84L87.1 784.71L86.72 780.6L86.34 776.5L85.97 772.43L85.61 768.39L85.25 764.37L84.9 760.37L84.57 756.4L84.23 752.46L83.91 748.55L83.6 744.66L83.29 740.81L82.99 736.99L82.69 733.2L82.41 729.45L82.13 725.73L81.86 722.05L81.59 718.4L81.33 714.8L81.08 711.23L80.84 707.7L80.6 704.22L80.37 700.77L80.14 697.37L79.93 694.01L79.71 690.7L79.51 687.44L79.31 684.22L79.12 681.05L78.93 677.93L78.75 674.86L78.57 671.85L78.41 668.88L78.24 665.97L78.08 663.12L77.93 660.32L77.79 657.58L77.65 654.89L77.51 652.26L77.38 649.7L77.25 647.19L77.13 644.75L77.02 642.37L76.91 640.05L76.8 637.8L76.7 635.62L76.61 633.5L76.52 631.45L76.43 629.47L76.35 627.56L76.27 625.73L76.2 623.96L75.53 623.99L75.61 625.75L75.68 627.59L75.77 629.5L75.85 631.48L75.94 633.53L76.04 635.65L76.14 637.83L76.24 640.08L76.35 642.4L76.47 644.78L76.59 647.23L76.71 649.73L76.84 652.3L76.98 654.92L77.12 657.61L77.27 660.35L77.42 663.15L77.58 666.01L77.74 668.92L77.91 671.89L78.08 674.9L78.26 677.97L78.45 681.09L78.64 684.26L78.84 687.48L79.05 690.75L79.26 694.06L79.48 697.41L79.7 700.82L79.93 704.26L80.17 707.75L80.42 711.28L80.67 714.84L80.93 718.45L81.19 722.1L81.46 725.78L81.74 729.5L82.03 733.25L82.32 737.04L82.62 740.86L82.93 744.72L83.25 748.6L83.57 752.51L83.9 756.46L84.24 760.43L84.59 764.42L84.94 768.45L85.3 772.49L85.68 776.56L86.05 780.66L86.44 784.77L86.84 788.91L87.24 793.06L87.65 797.23L88.07 801.42L88.5 805.63L88.94 809.85L89.39 814.09L89.84 818.34L90.31 822.6L90.78 826.87L91.26 831.15L91.76 835.45L92.26 839.75L92.77 844.05L93.29 848.36L93.82 852.68L94.36 857L94.91 861.33L95.46 865.65L96.03 869.98L96.61 874.3L97.2 878.63L97.8 882.95L98.4 887.27L99.02 891.58L99.65 895.89L100.29 900.19L100.94 904.49L101.6 908.77L102.27 913.05L102.95 917.32L103.65 921.57L104.35 925.81L105.06 930.04L105.79 934.25L106.52 938.44L107.27 942.62L108.03 946.79L108.8 950.93L109.58 955.05L110.37 959.15L111.18 963.23L111.99 967.28L112.82 971.32L113.66 975.32L114.51 979.3L115.37 983.25L116.25 987.18L117.14 991.07L118.04 994.94L118.95 998.77L119.87 1002.57L120.81 1006.33L121.76 1010.07L122.72 1013.76L123.7 1017.42L124.68 1021.04L125.68 1024.62L126.7 1028.17L127.72 1031.67L128.76 1035.13L129.81 1038.55L130.88 1041.92L131.96 1045.25L133.05 1048.53L134.16 1051.77L135.28 1054.95L136.41 1058.09L137.56 1061.18L138.72 1064.22L139.89 1067.2L141.08 1070.13L142.28 1073.01L143.5 1075.83L144.73 1078.59L145.98 1081.3L147.24 1083.95L148.51 1086.54L149.8 1089.07L151.11 1091.54L152.43 1093.94L153.76 1096.28L155.11 1098.56L156.47 1100.77L157.85 1102.92L159.25 1104.99L160.66 1107L162.08 1108.94L163.52 1110.81L164.98 1112.6L166.45 1114.32L167.94 1115.97L169.45 1117.54L170.97 1119.04L172.8 1120.74L174.68 1122.38L176.6 1123.96L178.56 1125.48L180.55 1126.94L182.59 1128.35L184.66 1129.7L186.76 1131L188.89 1132.25L191.06 1133.44L193.25 1134.58L195.47 1135.67L197.72 1136.72L200 1137.71L202.29 1138.65L204.61 1139.55L206.95 1140.4L209.31 1141.21L211.69 1141.98L214.08 1142.7L216.49 1143.37L218.91 1144.01L221.35 1144.61L223.79 1145.17L226.24 1145.69L228.7 1146.17L231.17 1146.61L233.64 1147.02Z"/>
<path d="M240.81 1194.22L238.35 1193.91L235.89 1193.56L233.43 1193.19L230.98 1192.78L228.53 1192.33L226.08 1191.85L223.65 1191.33L221.22 1190.77L218.81 1190.17L216.41 1189.53L214.02 1188.85L211.65 1188.13L209.29 1187.37L206.95 1186.56L204.63 1185.71L202.34 1184.81L200.06 1183.87L197.81 1182.87L195.59 1181.83L193.39 1180.74L191.23 1179.6L189.09 1178.41L186.98 1177.17L184.91 1175.87L182.87 1174.52L180.86 1173.11L178.9 1171.65L176.97 1170.13L175.08 1168.56L173.24 1166.92L171.43 1165.23L169.87 1163.67L168.32 1162.03L166.79 1160.32L165.28 1158.53L163.78 1156.67L162.3 1154.74L160.84 1152.74L159.39 1150.66L157.96 1148.51L156.55 1146.3L155.15 1144.02L153.76 1141.67L152.4 1139.26L151.05 1136.78L149.71 1134.23L148.39 1131.63L147.09 1128.96L145.8 1126.23L144.52 1123.45L143.26 1120.6L142.02 1117.7L140.79 1114.74L139.58 1111.72L138.38 1108.65L137.2 1105.53L136.03 1102.35L134.88 1099.12L133.74 1095.84L132.62 1092.51L131.51 1089.14L130.41 1085.71L129.33 1082.24L128.26 1078.72L127.21 1075.16L126.17 1071.56L125.15 1067.91L124.14 1064.22L123.14 1060.49L122.16 1056.72L121.19 1052.92L120.23 1049.07L119.29 1045.19L118.36 1041.27L117.44 1037.32L116.54 1033.34L115.65 1029.32L114.77 1025.27L113.9 1021.19L113.05 1017.08L112.21 1012.94L111.38 1008.78L110.57 1004.59L109.77 1000.37L108.98 996.13L108.2 991.86L107.43 987.58L106.68 983.27L105.94 978.94L105.21 974.59L104.49 970.22L103.78 965.84L103.09 961.44L102.4 957.02L101.73 952.59L101.07 948.14L100.42 943.69L99.78 939.22L99.15 934.74L98.54 930.25L97.93 925.76L97.33 921.25L96.75 916.74L96.17 912.23L95.61 907.71L95.05 903.18L94.51 898.66L93.98 894.13L93.45 889.6L92.94 885.08L92.44 880.55L91.94 876.03L91.46 871.51L90.98 866.99L90.52 862.48L90.06 857.98L89.61 853.49L89.17 849L88.75 844.52L88.33 840.06L87.91 835.6L87.51 831.16L87.12 826.73L86.73 822.32L86.36 817.92L85.99 813.54L85.63 809.18L85.28 804.83L84.94 800.51L84.6 796.21L84.27 791.92L83.95 787.66L83.64 783.43L83.34 779.21L83.04 775.03L82.75 770.87L82.47 766.74L82.2 762.63L81.93 758.56L81.67 754.52L81.42 750.51L81.17 746.53L80.93 742.59L80.7 738.68L80.48 734.8L80.26 730.96L80.04 727.16L79.84 723.4L79.64 719.68L79.44 716L79.26 712.36L79.07 708.77L78.9 705.21L78.73 701.71L78.56 698.24L78.4 694.83L78.25 691.46L78.1 688.14L77.96 684.87L77.82 681.65L77.69 678.49L77.56 675.37L77.44 672.31L77.32 669.31L77.21 666.36L77.1 663.47L77 660.63L76.9 657.85L76.81 655.14L76.72 652.48L76.63 649.89L76.55 647.36L76.47 644.89L76.4 642.48L76.33 640.15L76.26 637.88L76.2 635.67L76.14 633.54L76.08 631.48L76.03 629.48L75.98 627.56L75.94 625.71L75.89 623.94L75.23 623.95L75.27 625.73L75.32 627.58L75.36 629.5L75.42 631.49L75.47 633.56L75.53 635.69L75.59 637.9L75.66 640.17L75.73 642.51L75.8 644.91L75.88 647.38L75.96 649.91L76.05 652.5L76.14 655.16L76.24 657.88L76.33 660.65L76.44 663.49L76.55 666.38L76.66 669.33L76.78 672.34L76.9 675.4L77.02 678.52L77.16 681.68L77.29 684.9L77.44 688.17L77.58 691.49L77.74 694.86L77.9 698.27L78.06 701.74L78.23 705.25L78.41 708.8L78.59 712.4L78.78 716.04L78.97 719.72L79.17 723.44L79.38 727.2L79.59 731L79.81 734.84L80.04 738.71L80.27 742.63L80.51 746.57L80.75 750.55L81.01 754.56L81.27 758.6L81.53 762.68L81.81 766.78L82.09 770.92L82.38 775.08L82.67 779.26L82.98 783.47L83.29 787.71L83.61 791.97L83.94 796.26L84.27 800.56L84.61 804.89L84.97 809.23L85.33 813.6L85.69 817.98L86.07 822.38L86.45 826.79L86.85 831.22L87.25 835.66L87.66 840.12L88.08 844.59L88.51 849.07L88.95 853.55L89.4 858.05L89.85 862.55L90.32 867.06L90.79 871.58L91.28 876.1L91.77 880.62L92.28 885.15L92.79 889.68L93.32 894.21L93.85 898.74L94.39 903.26L94.95 907.79L95.51 912.31L96.09 916.83L96.67 921.34L97.27 925.84L97.88 930.34L98.49 934.83L99.12 939.31L99.76 943.78L100.41 948.24L101.07 952.69L101.75 957.12L102.43 961.54L103.13 965.94L103.83 970.33L104.55 974.7L105.28 979.05L106.02 983.38L106.78 987.69L107.54 991.98L108.32 996.25L109.11 1000.49L109.92 1004.71L110.73 1008.91L111.56 1013.07L112.4 1017.21L113.25 1021.33L114.12 1025.41L114.99 1029.46L115.89 1033.48L116.79 1037.47L117.71 1041.42L118.64 1045.35L119.58 1049.23L120.54 1053.08L121.51 1056.89L122.5 1060.66L123.49 1064.4L124.51 1068.09L125.53 1071.74L126.57 1075.35L127.63 1078.92L128.69 1082.44L129.78 1085.91L130.87 1089.34L131.98 1092.73L133.11 1096.06L134.25 1099.34L135.41 1102.58L136.58 1105.76L137.76 1108.89L138.96 1111.97L140.18 1114.99L141.41 1117.96L142.65 1120.87L143.92 1123.72L145.19 1126.52L146.48 1129.25L147.79 1131.93L149.12 1134.54L150.46 1137.09L151.81 1139.58L153.19 1142L154.58 1144.36L155.98 1146.65L157.4 1148.88L158.84 1151.04L160.3 1153.12L161.77 1155.14L163.26 1157.08L164.77 1158.96L166.29 1160.76L167.83 1162.48L169.39 1164.13L170.97 1165.71L172.79 1167.41L174.65 1169.06L176.55 1170.65L178.49 1172.18L180.47 1173.65L182.49 1175.07L184.55 1176.43L186.63 1177.74L188.76 1178.99L190.91 1180.19L193.09 1181.34L195.3 1182.43L197.54 1183.48L199.8 1184.48L202.09 1185.43L204.4 1186.33L206.73 1187.19L209.08 1188L211.45 1188.77L213.83 1189.49L216.23 1190.18L218.64 1190.82L221.07 1191.42L223.5 1191.98L225.95 1192.5L228.4 1192.99L230.86 1193.43L233.33 1193.85L235.79 1194.22L238.26 1194.57L240.73 1194.88Z"/>
</g>
<g class="f">
<path d="M78.36 586.76L75.38 594.7L72.75 586.63Z"/>
<path d="M464.95 24.27L456.94 21.47L464.95 18.66Z"/>
<path d="M78.67 586.88L75.56 594.78L73.06 586.68Z"/>
<path d="M79.02 587.16L75.75 595L73.43 586.83Z"/>
<path d="M423.29 117.6L415.28 114.8L423.29 112Z"/>
<path d="M79.47 587.19L76.01 594.94L73.89 586.72Z"/>
<path d="M422.69 164.27L414.68 161.47L422.69 158.66Z"/>
<path d="M80.01 587.44L76.31 595.08L74.44 586.82Z"/>
<path d="M77.09 586.46L74.55 594.55L71.48 586.66Z"/>
<path d="M78.12 587.1L75.15 595.05L72.51 586.99Z"/>
<path d="M79.51 587.12L75.94 594.8L73.94 586.55Z"/>
<path d="M81.49 587.48L77.1 594.75L76 586.34Z"/>
<path d="M84.4 588.36L78.9 594.82L79.16 586.35Z"/>
<path d="M427.75 431.95L419.44 430.27L427 426.41Z"/>
<path d="M431.97 444.27L423.96 441.47L431.97 438.66Z"/>
<path d="M427.15 456.55L419.59 452.69L427.91 450.99Z"/>
<path d="M89.47 589.73L82.5 594.58L84.94 586.44Z"/>
<path d="M101.02 592.88L92.69 594.51L98.18 588.04Z"/>
<path d="M130.52 603.17L122.29 601.12L130.01 597.6Z"/>
<path d="M130 613.06L122.26 609.57L130.48 607.47Z"/>
<path d="M427.7 618.63L419.39 616.95L426.95 613.08Z"/>
<path d="M99.53 622.62L93.85 616.33L102.22 617.71Z"/>
<path d="M428.29 665.22L419.97 663.52L427.53 659.66Z"/>
<path d="M438.24 677.6L430.23 674.8L438.24 672Z"/>
<path d="M85.17 624.1L82.59 616.01L89.64 620.72Z"/>
<path d="M431.09 724.27L423.08 721.47L431.09 718.66Z"/>
<path d="M427.53 736.6L419.97 732.74L428.29 731.05Z"/>
<path d="M79.34 624.35L78.97 615.88L84.55 622.27Z"/>
<path d="M427.53 783.27L419.97 779.41L428.29 777.71Z"/>
<path d="M791.79 817.6L783.78 814.8L791.79 812Z"/>
<path d="M472.02 782.32L465.08 777.44L473.54 776.93Z"/>
<path d="M76.13 624.43L77.17 616L81.61 623.23Z"/>
<path d="M74.05 624.23L76 615.98L79.62 623.66Z"/>
<path d="M72.62 624.43L75.21 616.35L78.23 624.28Z"/>
<path d="M71.51 624.24L74.58 616.32L77.11 624.43Z"/>
<path d="M74.45 624.08L76.33 615.81L80.01 623.44Z"/>
<path d="M73.89 624.17L76.02 615.95L79.48 623.71Z"/>
<path d="M73.44 624.07L75.77 615.91L79.04 623.75Z"/>
<path d="M73.08 624.23L75.56 616.13L78.68 624.01Z"/>
<path d="M72.77 624.28L75.38 616.2L78.37 624.15Z"/>
</g>
<g class="t">
<text stroke="url(#g0)" x="35.25 39.25 48.25 54.25 60.25 70.25 77.25 84.25 91.25 97.25 101.25 107.25" y="608">IGeomFunctor</text>
<text stroke="url(#g1)" x="225.75 229.75 236.75 243.75 248.75 255.75 262.75 269.75 275.75 280.75 286.75 291.75 299.75 306.75 312.75 315.75 322.75 328.75 335.75 343.75 349.75 352.75 355.75 362.75 369.75 375.75 380.75 385.75 393.75 399.75 402.75 409.75 415.75 424.75 430.75 436.75" y="24">Ig2_Sphere_ChainedCylinder_CylScGeom</text>
<text stroke="url(#g2)" x="560.5 564.5 571.5 578.5 583.5 590.5 597.5 604.5 610.5 615.5 621.5 626.5 634.5 641.5 647.5 650.5 657.5 663.5 670.5 678.5 684.5 687.5 690.5 697.5 704.5 710.5 715.5 720.5 728.5 734.5 737.5 744.5 750.5 759.5 765.5 771.5 781.5 788.5" y="24">Ig2_Sphere_ChainedCylinder_CylScGeom6D</text>
<text stroke="url(#g3)" x="268.5 272.5 279.5 286.5 291.5 299.5 305.5 311.5 316.5 323.5 330.5 337.5 343.5 348.5 354.5 359.5 366.5 372.5 381.5 387.5 393.5" y="164">Ig2_Box_Sphere_ScGeom</text>
<text stroke="url(#g4)" x="603.25 607.25 614.25 621.25 626.25 634.25 640.25 646.25 651.25 658.25 665.25 672.25 678.25 683.25 689.25 694.25 701.25 707.25 716.25 722.25 728.25 738.25 745.25" y="164">Ig2_Box_Sphere_ScGeom6D</text>
<text stroke="url(#g5)" x="181.75 185.75 192.75 199.75 204.75 213.75 218.75 221.75 228.75 236.75 242.75 249.75 256.75 262.75 268.75 272.75 275.75 281.75 288.75 293.75 302.75 307.75 310.75 317.75 325.75 331.75 338.75 345.75 351.75 357.75 361.75 364.75 370.75 377.75 382.75 391.75 396.75 399.75 406.75 414.75 420.75 429.75 434.75 437.75 444.75 452.75 458.75 467.75 473.75 479.75" y="304">Ig2_GridConnection_GridConnection_GridCoGridCoGeom</text>
<text stroke="url(#g6)" x="259.25 263.25 270.25 277.25 282.25 289.25 296.25 303.25 309.25 314.25 320.25 325.25 332.25 339.25 346.25 352.25 357.25 363.25 368.25 375.25 382.25 391.25 397.25 403.25" y="444">Ig2_Sphere_Sphere_L3Geom</text>
<text stroke="url(#g7)" x="601.75 605.75 612.75 619.75 624.75 631.75 638.75 645.75 651.75 656.75 662.75 667.75 674.75 681.75 688.75 694.75 699.75 705.75 710.75 717.75 724.75 733.75 739.75 745.75" y="444">Ig2_Sphere_Sphere_L6Geom</text>
<text stroke="url(#g8)" x="259.75 263.75 270.75 277.75 282.75 288.75 294.75 298.75 303.75 309.75 314.75 320.75 326.75 330.75 335.75 341.75 346.75 353.75 359.75 365.75 369.75 374.75 380.75 389.75 395.75 401.75" y="584">Ig2_Tetra_Tetra_TTetraGeom</text>
<text stroke="url(#g9)" x="598.5 602.5 609.5 616.5 621.5 628.5 634.5 640.5 646.5 650.5 655.5 662.5 669.5 676.5 682.5 687.5 693.5 698.5 705.5 711.5 720.5 726.5 732.5 742.5 749.5" y="584">Ig2_Facet_Sphere_ScGeom6D</text>
<text stroke="url(#g10)" x="259.75 263.75 270.75 277.75 282.75 289.75 296.75 303.75 309.75 314.75 320.75 325.75 332.75 339.75 346.75 352.75 357.75 363.75 368.75 375.75 381.75 390.75 396.75 402.75" y="724">Ig2_Sphere_Sphere_ScGeom</text>
<text stroke="url(#g11)" x="560.5 564.5 571.5 578.5 583.5 592.5 597.5 600.5 607.5 616.5 622.5 629.5 635.5 640.5 649.5 654.5 657.5 664.5 673.5 679.5 686.5 692.5 697.5 706.5 711.5 714.5 721.5 730.5 736.5 743.5 749.5 758.5 764.5 770.5 780.5 787.5" y="724">Ig2_GridNode_GridNode_GridNodeGeom6D</text>
<text stroke="url(#g12)" x="580.5 584.5 591.5 598.5 603.5 612.5 617.5 620.5 627.5 635.5 641.5 648.5 655.5 661.5 667.5 671.5 674.5 680.5 687.5 692.5 699.5 706.5 712.5 718.5 724.5 728.5 733.5 740.5 746.5 755.5 761.5 767.5" y="864">Ig2_GridConnection_PFacet_ScGeom</text>
<text stroke="url(#g13)" x="283.75 287.75 294.75 301.75 306.75 313.75 320.75 325.75 332.75 339.75 344.75 351.75 357.75 366.75 372.75 378.75" y="864">Ig2_PP_PP_ScGeom</text>
<text stroke="url(#g14)" x="200.5 204.5 211.5 218.5 223.5 231.5 238.5 244.5 247.5 254.5 260.5 267.5 275.5 281.5 284.5 287.5 294.5 301.5 307.5 312.5 317.5 325.5 332.5 338.5 341.5 348.5 354.5 361.5 369.5 375.5 378.5 381.5 388.5 395.5 401.5 406.5 411.5 418.5 424.5 433.5 439.5 445.5 455.5 462.5" y="1004">Ig2_ChainedCylinder_ChainedCylinder_ScGeom6D</text>
<text stroke="url(#g15)" x="244.5 248.5 255.5 262.5 267.5 274.5 280.5 283.5 289.5 296.5 302.5 309.5 314.5 320.5 325.5 332.5 338.5 341.5 347.5 354.5 360.5 367.5 372.5 378.5 383.5 390.5 396.5 405.5 411.5 417.5" y="1144">Ig2_Polyhedra_Polyhedra_ScGeom</text>
</g>
<g class="t" filter="url(#p1)">
<text stroke="url(#g16)" x="267.75 271.75 278.75 285.75 290.75 300.75 306.75 309.75 312.75 317.75 324.75 331.75 338.75 344.75 349.75 355.75 360.75 367.75 373.75 382.75 388.75 394.75" y="117">Ig2_Wall_Sphere_ScGeom</text>
<text stroke="url(#g17)" x="611.25 615.25 622.25 629.25 634.25 644.25 650.25 653.25 656.25 661.25 668.25 675.25 681.25 687.25 693.25 697.25 702.25 709.25 715.25 724.25 730.25 736.25" y="117">Ig2_Wall_PFacet_ScGeom</text>
<text stroke="url(#g18)" x="239.75 243.75 250.75 257.75 262.75 269.75 275.75 281.75 287.75 290.75 297.75 303.75 307.75 312.75 319.75 325.75 331.75 337.75 340.75 347.75 353.75 357.75 362.75 369.75 375.75 378.75 385.75 395.75 401.75 410.75 416.75 422.75" y="257">Ig2_LevelSet_LevelSet_VolumeGeom</text>
<text stroke="url(#g19)" x="263.75 267.75 274.75 281.75 286.75 296.75 302.75 305.75 308.75 313.75 320.75 326.75 332.75 338.75 341.75 348.75 354.75 358.75 363.75 370.75 376.75 385.75 391.75 397.75" y="397">Ig2_Wall_LevelSet_ScGeom</text>
<text stroke="url(#g20)" x="609.75 613.75 620.75 627.75 632.75 642.75 648.75 651.75 654.75 659.75 666.75 673.75 680.75 686.75 691.75 697.75 702.75 709.75 716.75 725.75 731.75 737.75" y="397">Ig2_Wall_Sphere_L3Geom</text>
<text stroke="url(#g21)" x="224.5 228.5 235.5 242.5 247.5 254.5 260.5 263.5 269.5 276.5 282.5 289.5 294.5 300.5 305.5 312.5 318.5 321.5 327.5 334.5 340.5 347.5 352.5 358.5 363.5 370.5 376.5 379.5 385.5 392.5 398.5 405.5 410.5 416.5 425.5 431.5 437.5" y="537">Ig2_Polyhedra_Polyhedra_PolyhedraGeom</text>
<text stroke="url(#g22)" x="252.5 256.5 263.5 270.5 275.5 282.5 288.5 294.5 300.5 303.5 310.5 316.5 320.5 325.5 332.5 338.5 344.5 350.5 353.5 360.5 366.5 370.5 375.5 382.5 388.5 397.5 403.5 409.5" y="677">Ig2_LevelSet_LevelSet_ScGeom</text>
<text stroke="url(#g23)" x="581.75 585.75 592.75 599.75 604.75 611.75 617.75 623.75 629.75 632.75 639.75 645.75 649.75 654.75 661.75 667.75 673.75 679.75 682.75 689.75 695.75 699.75 704.75 711.75 718.75 725.75 731.75 738.75 744.75 753.75 759.75 765.75" y="677">Ig2_LevelSet_LevelSet_LSnodeGeom</text>
<text stroke="url(#g24)" x="584.5 588.5 595.5 602.5 607.5 614.5 621.5 628.5 634.5 639.5 645.5 650.5 657.5 664.5 670.5 676.5 682.5 686.5 691.5 698.5 704.5 713.5 718.5 721.5 728.5 736.5 742.5 751.5 757.5 763.5" y="817">Ig2_Sphere_PFacet_ScGridCoGeom</text>
<text stroke="url(#g25)" x="867.25 871.25 878.25 885.25 890.25 897.25 904.25 910.25 916.25 922.25 926.25 931.25 938.25 945.25 951.25 957.25 963.25 967.25 972.25 979.25 985.25 994.25 1000.25 1006.25" y="817">Ig2_PFacet_PFacet_ScGeom</text>
<text stroke="url(#g26)" x="282.5 286.5 293.5 300.5 305.5 312.5 320.5 325.5 332.5 340.5 345.5 352.5 358.5 367.5 373.5 379.5" y="817">Ig2_PB_PB_ScGeom</text>
<text stroke="url(#g27)" x="195.75 199.75 206.75 213.75 218.75 225.75 231.75 234.75 240.75 247.75 253.75 260.75 265.75 271.75 276.75 283.75 289.75 292.75 298.75 305.75 311.75 318.75 323.75 329.75 334.75 341.75 347.75 350.75 356.75 363.75 369.75 376.75 381.75 387.75 396.75 402.75 408.75 418.75 427.75 432.75 439.75 445.75 454.75 460.75 466.75" y="957">Ig2_Polyhedra_Polyhedra_PolyhedraGeomOrScGeom</text>
<text stroke="url(#g28)" x="236.5 240.5 247.5 254.5 259.5 266.5 272.5 278.5 284.5 288.5 293.5 300.5 306.5 309.5 315.5 322.5 328.5 335.5 340.5 346.5 351.5 358.5 364.5 367.5 373.5 380.5 386.5 393.5 398.5 404.5 413.5 419.5 425.5" y="1097">Ig2_Facet_Polyhedra_PolyhedraGeom</text>
</g>
<g class="t" filter="url(#p3)">
<text stroke="url(#g29)" x="249.75 253.75 260.75 267.75 272.75 282.75 288.75 291.75 294.75 299.75 306.75 312.75 318.75 324.75 327.75 334.75 340.75 344.75 349.75 360.75 367.75 370.75 374.75 377.75 384.75 390.75 399.75 405.75 411.75" y="71">Ig2_Wall_LevelSet_MultiScGeom</text>
<text stroke="url(#g30)" x="255.75 259.75 266.75 273.75 278.75 285.75 292.75 299.75 305.75 310.75 316.75 321.75 328.75 334.75 340.75 346.75 349.75 356.75 362.75 366.75 371.75 378.75 384.75 393.75 399.75 405.75" y="211">Ig2_Sphere_LevelSet_ScGeom</text>
<text stroke="url(#g31)" x="241.75 245.75 252.75 259.75 264.75 270.75 276.75 280.75 285.75 291.75 296.75 302.75 308.75 312.75 317.75 323.75 328.75 335.75 341.75 347.75 351.75 356.75 362.75 369.75 372.75 382.75 389.75 392.75 398.75 407.75 413.75 419.75" y="351">Ig2_Tetra_Tetra_TTetraSimpleGeom</text>
<text stroke="url(#g32)" x="606.5 610.5 617.5 624.5 629.5 636.5 642.5 648.5 654.5 658.5 663.5 670.5 677.5 684.5 690.5 695.5 701.5 706.5 713.5 720.5 729.5 735.5 741.5" y="491">Ig2_Facet_Sphere_L3Geom</text>
<text stroke="url(#g33)" x="251.25 255.25 262.25 269.25 274.25 284.25 290.25 293.25 296.25 301.25 308.25 314.25 320.25 326.25 329.25 336.25 342.25 346.25 351.25 358.25 364.25 367.25 374.25 384.25 390.25 399.25 405.25 411.25" y="491">Ig2_Wall_LevelSet_VolumeGeom</text>
<text stroke="url(#g34)" x="263.75 267.75 274.75 281.75 286.75 293.75 299.75 305.75 311.75 315.75 320.75 327.75 334.75 341.75 347.75 352.75 358.75 363.75 370.75 376.75 385.75 391.75 397.75" y="631">Ig2_Facet_Sphere_ScGeom</text>
<text stroke="url(#g35)" x="581.25 585.25 592.25 599.25 604.25 611.25 617.25 623.25 629.25 632.25 639.25 645.25 649.25 654.25 661.25 667.25 673.25 679.25 682.25 689.25 695.25 699.25 704.25 715.25 722.25 725.25 729.25 732.25 739.25 745.25 754.25 760.25 766.25" y="631">Ig2_LevelSet_LevelSet_MultiScGeom</text>
<text stroke="url(#g36)" x="594.5 598.5 605.5 612.5 617.5 624.5 631.5 638.5 644.5 649.5 655.5 660.5 667.5 674.5 681.5 687.5 692.5 698.5 703.5 710.5 716.5 725.5 731.5 737.5 747.5 754.5" y="771">Ig2_Sphere_Sphere_ScGeom6D</text>
<text stroke="url(#g37)" x="217.75 221.75 228.75 235.75 240.75 247.75 254.75 261.75 267.75 272.75 278.75 283.75 292.75 297.75 300.75 307.75 315.75 321.75 328.75 335.75 341.75 347.75 351.75 354.75 360.75 367.75 372.75 379.75 385.75 394.75 399.75 402.75 409.75 417.75 423.75 432.75 438.75 444.75" y="771">Ig2_Sphere_GridConnection_ScGridCoGeom</text>
<text stroke="url(#g38)" x="239.75 243.75 250.75 257.75 262.75 272.75 278.75 281.75 284.75 289.75 296.75 302.75 305.75 311.75 318.75 324.75 331.75 336.75 342.75 347.75 354.75 360.75 363.75 369.75 376.75 382.75 389.75 394.75 400.75 409.75 415.75 421.75" y="911">Ig2_Wall_Polyhedra_PolyhedraGeom</text>
<text stroke="url(#g39)" x="265.25 269.25 276.25 283.25 288.25 296.25 302.25 308.25 313.25 320.25 326.25 332.25 338.25 341.25 348.25 354.25 358.25 363.25 370.25 376.25 385.25 391.25 397.25" y="1051">Ig2_Box_LevelSet_ScGeom</text>
<text stroke="url(#g40)" x="251.75 255.75 262.75 269.75 274.75 281.75 288.75 295.75 301.75 306.75 312.75 317.75 324.75 330.75 333.75 339.75 346.75 352.75 359.75 364.75 370.75 375.75 382.75 388.75 397.75 403.75 409.75" y="1191">Ig2_Sphere_Polyhedra_ScGeom</text>
</g>
</svg>
</body>
</html>
